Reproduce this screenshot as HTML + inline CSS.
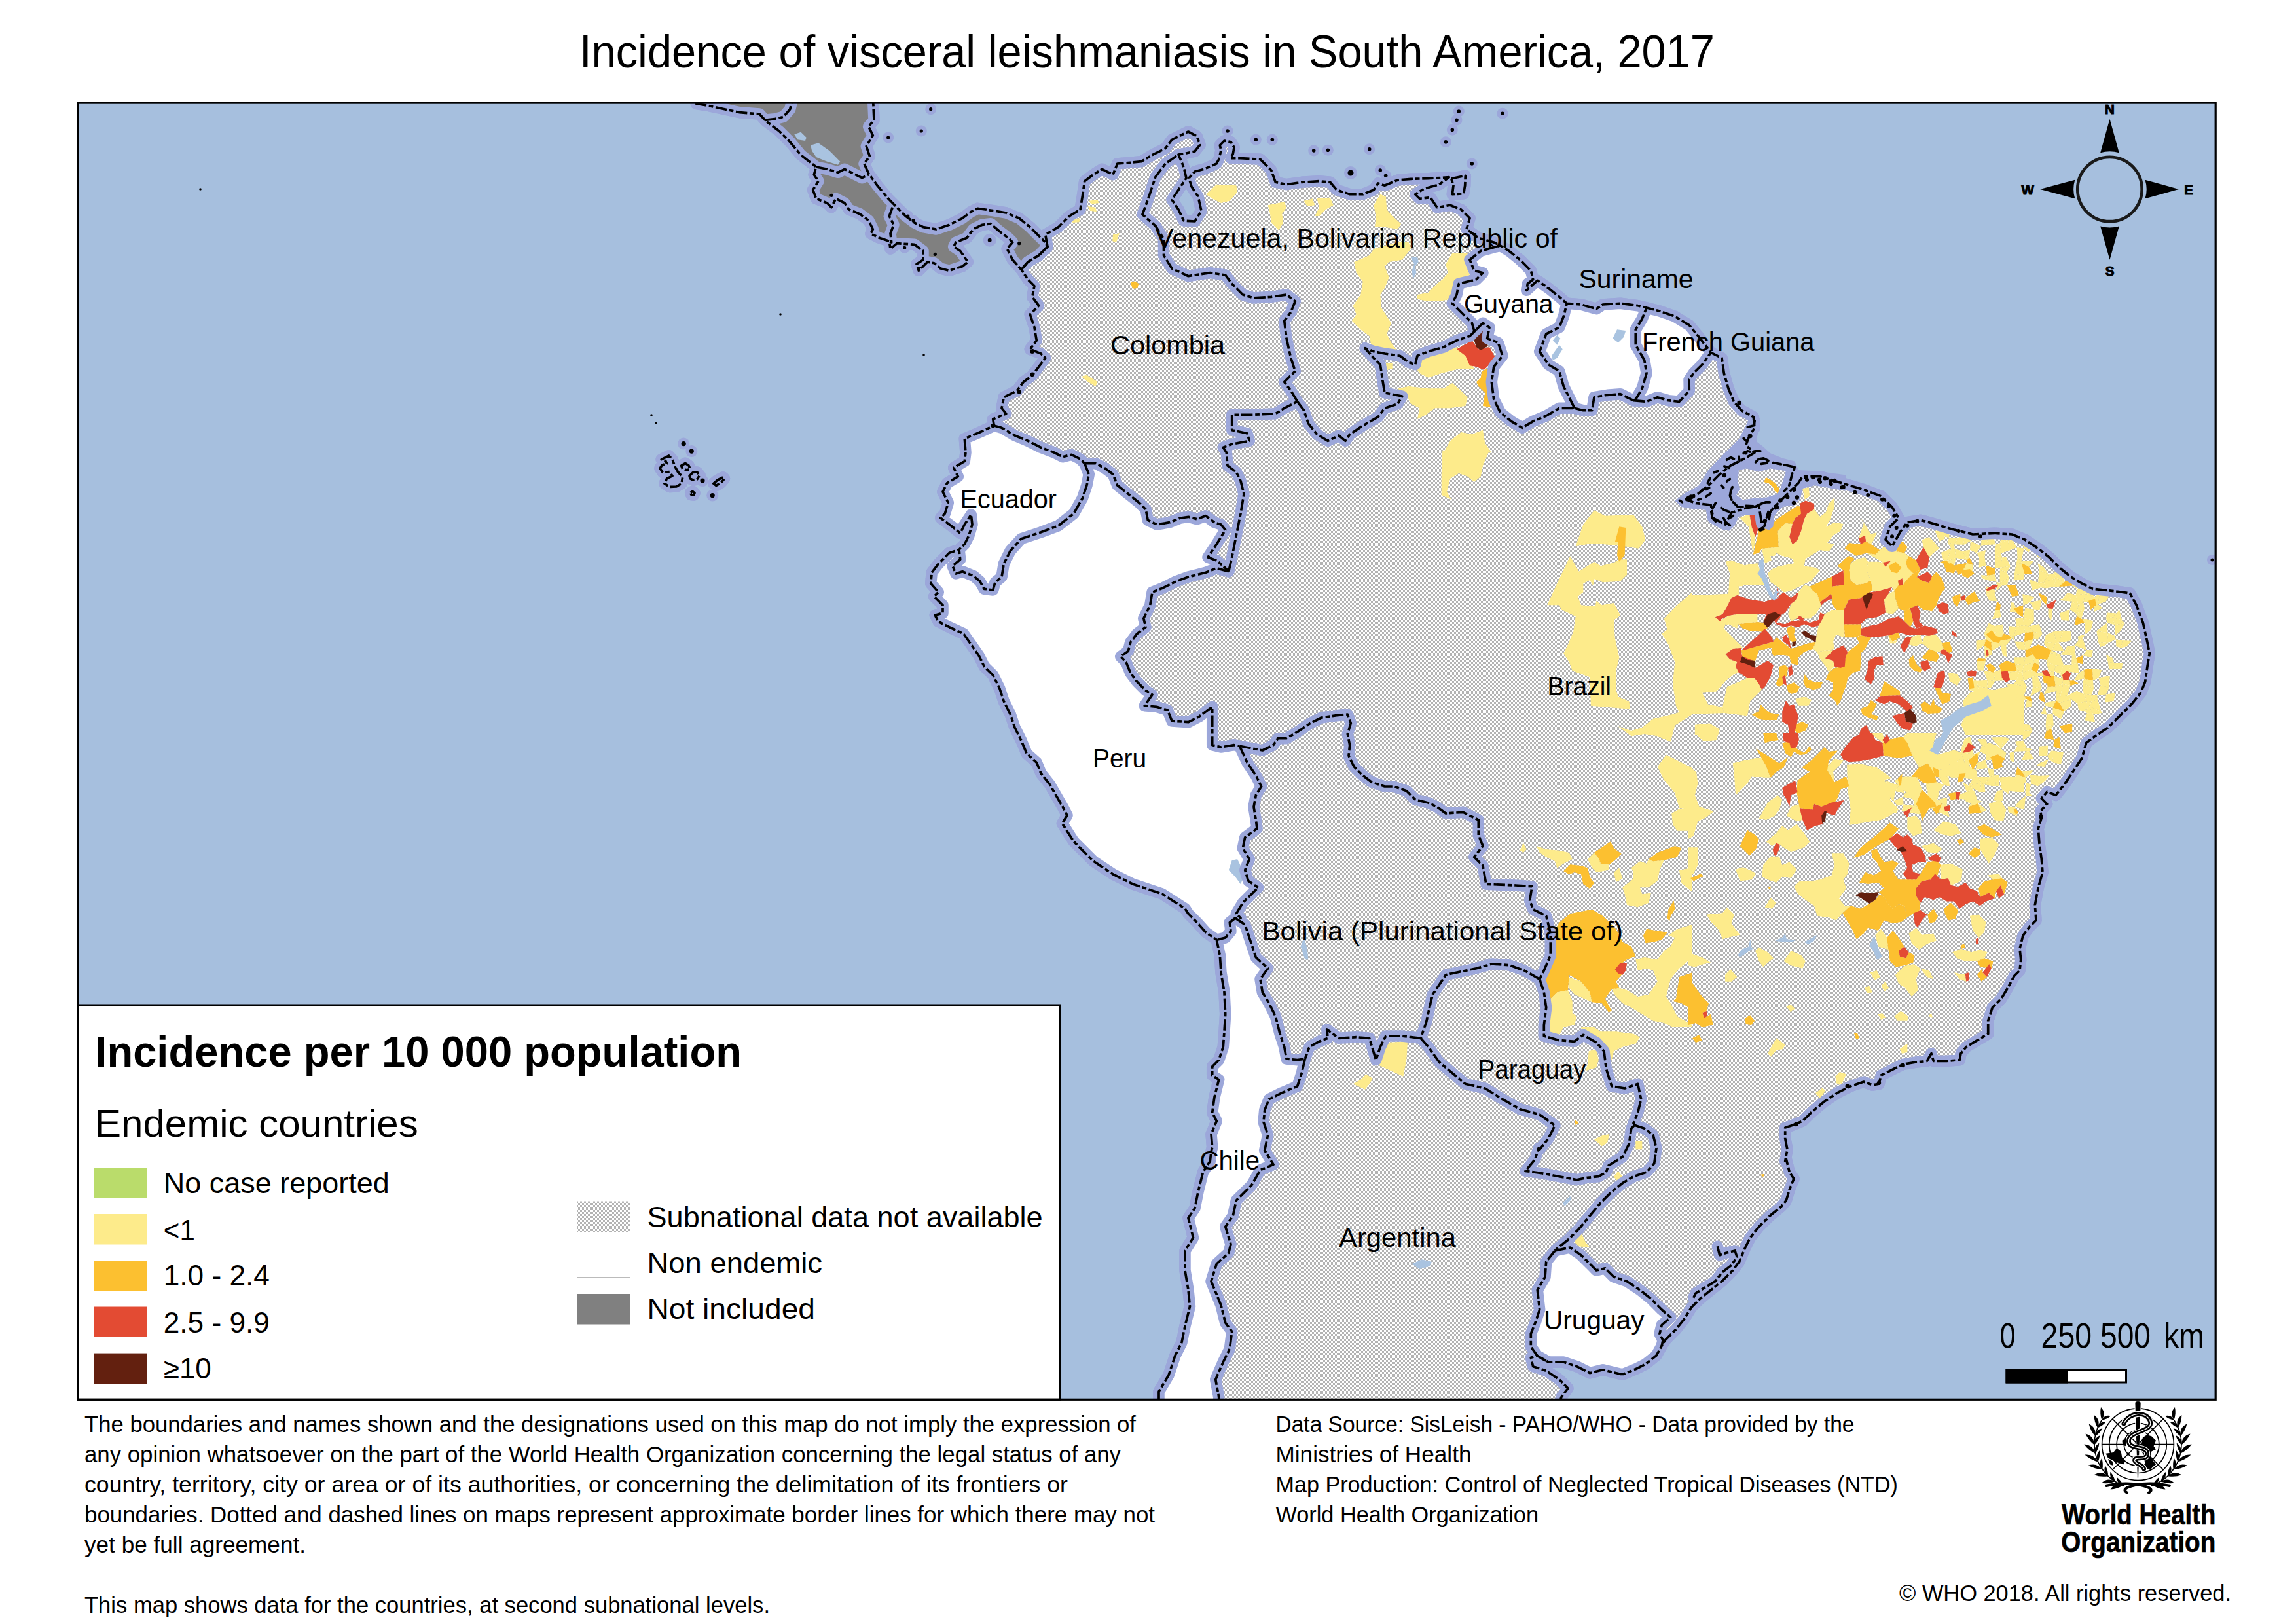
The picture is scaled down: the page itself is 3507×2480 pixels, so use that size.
<!DOCTYPE html>
<html><head><meta charset="utf-8"><title>Incidence of visceral leishmaniasis in South America, 2017</title>
<style>
html,body{margin:0;padding:0;background:#fff;}
body{width:3507px;height:2480px;overflow:hidden;}
svg{display:block;}
text{font-family:"Liberation Sans",sans-serif;fill:#000;}
</style></head><body>
<svg width="3507" height="2480" viewBox="0 0 3507 2480">
<defs>
<pattern id="hatch" width="2" height="2" patternUnits="userSpaceOnUse">
<rect width="2" height="2" fill="#fff"/>
<rect x="0" y="0" width="1" height="1" fill="#b3b3b3"/>
<rect x="1" y="1" width="1" height="1" fill="#b3b3b3"/>
</pattern>
<clipPath id="mapclip"><rect x="119.4" y="157.1" width="3264.8" height="1980.2"/></clipPath>
</defs>
<rect width="3507" height="2480" fill="#fff"/>

<text x="885.0" y="103.0" font-size="71" font-weight="normal" textLength="1734.0" lengthAdjust="spacingAndGlyphs">Incidence of visceral leishmaniasis in South America, 2017</text>
<rect x="119.4" y="157.1" width="3264.8" height="1980.2" fill="#A6BFDE"/>
<g clip-path="url(#mapclip)">
<polygon points="1600.0,376.7 1596.7,358.3 1616.7,346.7 1633.3,330.0 1650.0,320.0 1653.3,300.0 1656.7,276.7 1670.0,266.7 1683.3,258.3 1700.0,266.7 1706.7,250.0 1726.7,248.3 1743.3,246.7 1760.0,236.7 1780.0,226.7 1790.0,213.3 1806.7,205.0 1815.0,201.0 1828.0,208.0 1833.0,221.0 1825.0,231.0 1812.0,234.0 1800.0,236.0 1800.0,236.0 1808.0,255.0 1812.0,272.0 1800.0,290.0 1790.0,305.0 1800.0,320.0 1808.0,337.0 1825.0,338.0 1835.0,322.0 1830.0,300.0 1820.0,285.0 1816.0,272.0 1825.0,262.0 1840.0,258.0 1858.0,250.0 1861.7,243.3 1865.0,230.0 1863.3,221.7 1870.0,215.0 1880.0,216.7 1885.0,225.0 1883.3,235.0 1880.0,241.7 1895.0,241.7 1925.0,243.3 1941.7,260.0 1948.3,278.3 1965.0,281.7 1988.3,278.3 2015.0,276.7 2031.7,278.3 2041.7,290.0 2061.7,296.7 2081.7,296.7 2098.3,290.0 2105.0,280.0 2115.0,283.3 2135.0,275.0 2155.0,273.3 2181.7,272.7 2213.3,270.7 2198.3,281.7 2175.0,288.3 2161.7,296.7 2168.3,303.3 2185.0,301.7 2188.3,306.7 2195.0,316.7 2215.0,313.3 2231.7,320.0 2245.0,333.3 2240.0,350.0 2258.3,363.3 2281.7,370.0 2291.7,375.0 2291.7,375.0 2305.0,383.3 2321.7,396.7 2338.3,413.3 2341.7,426.7 2333.3,433.3 2331.7,443.3 2348.3,428.3 2365.0,440.0 2381.7,453.3 2393.3,463.3 2393.3,463.3 2415.0,465.0 2438.3,471.7 2448.3,465.0 2475.0,463.3 2501.7,466.7 2515.0,470.0 2515.0,470.0 2535.0,475.0 2558.3,483.3 2580.3,496.7 2596.7,516.7 2613.3,538.3 2613.3,538.3 2630.0,546.7 2633.3,570.0 2640.0,593.3 2648.3,613.3 2660.0,626.7 2678.3,636.7 2680.0,653.3 2671.7,666.7 2666.7,680.0 2680.0,691.3 2663.3,701.0 2643.3,711.0 2626.7,724.3 2610.0,741.0 2593.3,754.3 2580.0,759.3 2575.0,762.7 2590.0,768.3 2613.3,771.0 2616.7,791.0 2635.0,801.0 2645.0,782.7 2666.7,776.0 2686.7,772.7 2691.0,800.0 2708.3,776.0 2728.3,756.0 2746.7,737.7 2753.3,727.7 2780.0,727.7 2813.3,737.7 2846.7,747.7 2873.3,757.7 2890.0,774.3 2900.0,791.0 2886.7,804.3 2880.0,824.3 2890.0,834.3 2903.3,811.0 2913.3,797.7 2933.3,794.3 2946.7,797.7 2980.0,807.7 3013.3,816.0 3046.7,814.3 3073.3,816.0 3093.3,824.3 3113.3,837.7 3130.0,851.0 3146.7,867.7 3163.3,881.0 3180.0,891.0 3196.7,899.3 3230.0,902.7 3253.3,906.0 3263.3,924.3 3273.3,951.0 3280.0,981.0 3283.3,997.7 3280.0,1017.7 3276.7,1041.0 3270.0,1057.7 3256.7,1074.3 3240.0,1091.0 3220.0,1111.0 3200.0,1124.3 3186.7,1134.3 3180.0,1157.7 3166.7,1177.7 3153.3,1197.7 3140.0,1214.3 3126.7,1209.3 3118.3,1219.3 3126.7,1227.7 3116.7,1238.7 3118.3,1248.7 3113.3,1265.3 3115.0,1288.7 3118.3,1312.0 3120.0,1332.0 3113.3,1355.3 3108.3,1382.0 3110.0,1405.3 3100.0,1415.3 3090.0,1428.7 3085.0,1448.7 3086.7,1465.3 3085.0,1482.0 3076.7,1490.3 3066.7,1508.7 3056.7,1525.3 3043.3,1538.7 3036.7,1558.7 3036.7,1578.7 3020.0,1588.7 3003.3,1598.7 2995.0,1608.7 2993.3,1618.7 2973.3,1620.3 2953.3,1620.3 2950.0,1608.7 2943.3,1620.3 2926.7,1622.0 2906.7,1625.3 2893.3,1632.0 2873.3,1642.0 2870.0,1655.3 2860.0,1657.0 2846.7,1652.0 2826.7,1658.7 2806.7,1668.7 2786.7,1682.0 2766.7,1698.7 2753.3,1712.0 2736.7,1718.7 2726.7,1722.0 2726.7,1738.7 2730.0,1755.3 2726.7,1773.3 2728.3,1770.0 2733.3,1790.0 2740.0,1800.0 2733.3,1816.7 2728.3,1833.3 2720.0,1843.3 2703.3,1856.7 2686.7,1873.3 2673.3,1890.0 2665.0,1906.7 2656.7,1926.7 2646.7,1940.0 2630.0,1956.7 2613.3,1970.0 2596.7,1983.3 2583.3,1996.7 2573.3,2013.3 2560.0,2030.0 2543.3,2046.7 2538.3,2055.0 2538.3,2055.0 2530.0,2070.0 2513.3,2083.3 2500.0,2090.0 2480.0,2098.3 2475.0,2098.3 2448.3,2091.7 2428.3,2096.7 2408.3,2086.7 2388.3,2080.0 2365.0,2080.0 2365.0,2080.0 2348.3,2070.7 2338.3,2073.3 2341.7,2086.7 2361.7,2093.3 2381.7,2106.7 2395.0,2120.0 2385.0,2133.3 2378.3,2153.3 1770.0,2150.0 1770.0,2125.0 1785.0,2100.0 1795.0,2070.0 1805.0,2050.0 1810.0,2025.0 1817.5,1995.0 1815.0,1970.0 1810.0,1940.0 1810.0,1910.0 1822.5,1890.0 1815.0,1860.0 1825.0,1845.0 1830.0,1820.0 1837.5,1790.0 1848.3,1773.3 1850.0,1758.7 1851.7,1752.0 1850.0,1732.0 1858.3,1712.0 1851.7,1698.7 1855.0,1675.3 1861.7,1648.7 1851.7,1642.0 1851.7,1628.7 1861.7,1618.7 1868.3,1598.7 1870.0,1575.3 1871.7,1548.7 1870.0,1515.3 1865.0,1485.3 1863.3,1458.7 1858.3,1435.3 1858.3,1435.3 1841.7,1423.7 1828.3,1408.7 1815.0,1395.3 1810.0,1387.5 1775.0,1365.0 1730.0,1350.0 1700.0,1335.0 1670.0,1315.0 1640.0,1285.0 1622.5,1257.5 1630.0,1245.0 1623.3,1232.3 1616.7,1221.0 1603.3,1197.7 1590.0,1181.0 1583.3,1164.3 1568.3,1151.0 1560.0,1131.0 1550.0,1111.0 1543.3,1091.0 1533.3,1071.0 1526.7,1051.0 1516.7,1031.0 1503.3,1017.7 1495.0,1001.0 1483.3,984.3 1471.7,967.7 1450.0,957.7 1433.3,949.3 1428.3,939.3 1440.0,936.0 1440.0,924.3 1426.7,911.0 1433.3,904.3 1421.7,891.0 1423.3,874.3 1433.3,861.0 1450.0,844.3 1465.0,839.3 1465.0,839.3 1473.3,831.0 1480.0,817.7 1485.0,801.0 1483.3,786.0 1473.3,801.0 1466.7,814.3 1456.7,806.0 1436.7,791.0 1443.3,784.3 1448.3,767.7 1440.0,751.0 1446.7,737.7 1463.3,727.7 1456.7,714.3 1473.3,704.3 1475.0,691.0 1473.3,670.0 1496.7,660.0 1518.3,650.0 1518.3,650.0 1516.7,640.0 1536.7,631.7 1530.0,623.3 1533.3,606.7 1553.3,596.7 1563.3,583.3 1576.7,573.3 1586.7,560.0 1596.7,546.7 1590.0,540.0 1573.3,533.3 1583.3,520.0 1580.0,500.0 1573.3,480.0 1586.7,466.7 1576.7,453.3 1580.0,436.7 1570.0,426.7 1560.0,411.7 1560.0,411.7 1570.0,400.0 1586.7,390.0 1600.0,376.7" fill="none" stroke="#9CA7DA" stroke-width="17.5" stroke-linejoin="round"/>
<polygon points="1600.0,376.7 1586.7,390.0 1570.0,400.0 1560.0,411.7 1546.7,396.7 1538.3,380.0 1546.7,370.0 1540.0,363.3 1526.7,353.3 1513.3,341.7 1500.0,343.3 1486.7,350.0 1476.7,363.3 1460.0,370.0 1456.7,376.7 1466.7,383.3 1478.3,400.0 1470.0,406.7 1450.0,413.3 1436.7,410.0 1426.7,401.7 1416.7,400.0 1403.3,413.3 1400.0,403.3 1410.0,396.7 1410.0,383.3 1396.7,373.3 1370.0,371.7 1360.0,380.0 1358.3,368.3 1343.3,363.3 1330.0,356.7 1333.3,350.0 1326.7,336.7 1313.3,326.7 1296.7,320.0 1290.0,310.0 1276.7,303.3 1270.0,316.7 1263.3,310.0 1246.7,303.3 1241.7,290.0 1250.0,276.7 1243.3,266.7 1246.7,255.0 1223.3,236.7 1206.7,216.7 1190.0,200.0 1170.0,185.0 1160.0,174.0 1130.0,171.7 1083.3,161.7 1063.3,158.3 1063.3,146.7 1333.3,146.7 1335.0,183.3 1326.7,193.3 1333.3,206.7 1323.3,223.3 1328.3,238.3 1320.0,250.0 1326.7,265.0 1340.0,283.3 1356.7,303.3 1370.0,316.7 1383.3,330.0 1396.7,340.0 1410.0,346.7 1430.0,350.0 1450.0,343.3 1470.0,333.3 1483.3,323.3 1493.3,318.3 1516.7,321.7 1536.7,325.0 1556.7,333.3 1573.3,346.7 1583.3,356.7 1596.7,370.0" fill="none" stroke="#9CA7DA" stroke-width="17.5" stroke-linejoin="round"/>
<polygon points="2216.7,272.7 2238.3,268.3 2237.7,283.3 2235.7,295.7 2218.3,296.7 2220.0,283.3" fill="none" stroke="#9CA7DA" stroke-width="17.5" stroke-linejoin="round"/>
<polygon points="1010.2,701.6 1021.7,695.9 1027.0,701.6 1031.2,713.1 1035.4,720.5 1042.7,728.8 1041.1,738.3 1033.3,743.0 1022.8,743.5 1014.9,738.3 1018.6,730.9 1027.0,726.8 1022.8,720.5 1012.3,721.5 1008.1,715.2 1011.3,710.0 1018.6,707.9 1016.5,703.7" fill="none" stroke="#9CA7DA" stroke-width="17.5" stroke-linejoin="round"/>
<polygon points="1040.6,711.1 1046.9,707.4 1052.1,711.1 1054.2,716.3 1049.0,717.9 1042.7,716.3" fill="none" stroke="#9CA7DA" stroke-width="17.5" stroke-linejoin="round"/>
<polygon points="1053.1,726.8 1058.4,721.5 1064.7,721.0 1068.8,725.7 1064.7,732.0 1058.4,733.0 1054.2,730.9" fill="none" stroke="#9CA7DA" stroke-width="17.5" stroke-linejoin="round"/>
<polygon points="1089.8,738.3 1096.1,733.0 1104.4,728.8 1106.5,730.9 1101.3,737.2 1094.0,741.4" fill="none" stroke="#9CA7DA" stroke-width="17.5" stroke-linejoin="round"/>
<polygon points="1054.7,752.4 1057.9,750.3 1061.0,752.9 1059.4,756.1 1055.8,755.5" fill="none" stroke="#9CA7DA" stroke-width="17.5" stroke-linejoin="round"/>
<circle cx="1421.7" cy="166.7" r="8.5" fill="#9CA7DA"/>
<circle cx="1407.3" cy="200.0" r="8.5" fill="#9CA7DA"/>
<circle cx="1356.7" cy="210.0" r="8.5" fill="#9CA7DA"/>
<circle cx="1395.0" cy="336.7" r="8.5" fill="#9CA7DA"/>
<circle cx="1386.7" cy="330.0" r="8.5" fill="#9CA7DA"/>
<circle cx="1270.0" cy="298.3" r="8.5" fill="#9CA7DA"/>
<circle cx="1381.7" cy="378.3" r="8.5" fill="#9CA7DA"/>
<circle cx="1428.3" cy="388.3" r="8.5" fill="#9CA7DA"/>
<circle cx="1403.3" cy="410.0" r="8.5" fill="#9CA7DA"/>
<circle cx="1556.7" cy="371.7" r="8.5" fill="#9CA7DA"/>
<circle cx="1511.7" cy="366.7" r="10" fill="#9CA7DA"/>
<circle cx="1875.0" cy="200.0" r="8.5" fill="#9CA7DA"/>
<circle cx="1918.3" cy="213.3" r="8.5" fill="#9CA7DA"/>
<circle cx="1943.3" cy="213.3" r="8.5" fill="#9CA7DA"/>
<circle cx="2006.7" cy="230.0" r="8.5" fill="#9CA7DA"/>
<circle cx="2028.3" cy="229.3" r="8.5" fill="#9CA7DA"/>
<circle cx="2091.7" cy="227.7" r="8.5" fill="#9CA7DA"/>
<circle cx="2108.3" cy="260.0" r="8.5" fill="#9CA7DA"/>
<circle cx="2116.7" cy="268.3" r="8.5" fill="#9CA7DA"/>
<circle cx="2248.3" cy="250.0" r="8.5" fill="#9CA7DA"/>
<circle cx="2228.3" cy="170.0" r="8.5" fill="#9CA7DA"/>
<circle cx="2225.0" cy="183.3" r="8.5" fill="#9CA7DA"/>
<circle cx="2218.3" cy="198.3" r="8.5" fill="#9CA7DA"/>
<circle cx="2208.3" cy="216.7" r="8.5" fill="#9CA7DA"/>
<circle cx="2295.0" cy="173.3" r="8.5" fill="#9CA7DA"/>
<circle cx="2063.0" cy="264.0" r="10" fill="#9CA7DA"/>
<circle cx="3379.0" cy="855.0" r="8" fill="#9CA7DA"/>
<circle cx="2760.0" cy="732.7" r="9" fill="#9CA7DA"/>
<circle cx="2780.0" cy="736.0" r="9" fill="#9CA7DA"/>
<circle cx="2796.7" cy="739.3" r="9" fill="#9CA7DA"/>
<circle cx="2813.3" cy="744.3" r="9" fill="#9CA7DA"/>
<circle cx="2833.3" cy="751.7" r="9" fill="#9CA7DA"/>
<circle cx="2853.3" cy="756.0" r="9" fill="#9CA7DA"/>
<circle cx="2875.0" cy="762.7" r="9" fill="#9CA7DA"/>
<circle cx="2885.0" cy="772.7" r="9" fill="#9CA7DA"/>
<circle cx="2893.3" cy="787.7" r="9" fill="#9CA7DA"/>
<circle cx="2890.0" cy="819.3" r="9" fill="#9CA7DA"/>
<circle cx="2896.7" cy="806.0" r="9" fill="#9CA7DA"/>
<circle cx="2913.3" cy="802.7" r="9" fill="#9CA7DA"/>
<circle cx="2928.3" cy="796.0" r="9" fill="#9CA7DA"/>
<circle cx="2991.7" cy="811.0" r="9" fill="#9CA7DA"/>
<circle cx="3025.0" cy="819.3" r="9" fill="#9CA7DA"/>
<circle cx="1044.2" cy="677.6" r="9" fill="#9CA7DA"/>
<circle cx="1056.3" cy="689.1" r="9" fill="#9CA7DA"/>
<circle cx="1073.0" cy="734.1" r="9" fill="#9CA7DA"/>
<circle cx="1088.2" cy="756.6" r="9" fill="#9CA7DA"/>
<polygon points="1600.0,376.7 1596.7,358.3 1616.7,346.7 1633.3,330.0 1650.0,320.0 1653.3,300.0 1656.7,276.7 1670.0,266.7 1683.3,258.3 1700.0,266.7 1706.7,250.0 1726.7,248.3 1743.3,246.7 1760.0,236.7 1780.0,226.7 1790.0,213.3 1806.7,205.0 1815.0,201.0 1828.0,208.0 1833.0,221.0 1825.0,231.0 1812.0,234.0 1800.0,236.0 1800.0,236.0 1808.0,255.0 1812.0,272.0 1800.0,290.0 1790.0,305.0 1800.0,320.0 1808.0,337.0 1825.0,338.0 1835.0,322.0 1830.0,300.0 1820.0,285.0 1816.0,272.0 1825.0,262.0 1840.0,258.0 1858.0,250.0 1861.7,243.3 1865.0,230.0 1863.3,221.7 1870.0,215.0 1880.0,216.7 1885.0,225.0 1883.3,235.0 1880.0,241.7 1895.0,241.7 1925.0,243.3 1941.7,260.0 1948.3,278.3 1965.0,281.7 1988.3,278.3 2015.0,276.7 2031.7,278.3 2041.7,290.0 2061.7,296.7 2081.7,296.7 2098.3,290.0 2105.0,280.0 2115.0,283.3 2135.0,275.0 2155.0,273.3 2181.7,272.7 2213.3,270.7 2198.3,281.7 2175.0,288.3 2161.7,296.7 2168.3,303.3 2185.0,301.7 2188.3,306.7 2195.0,316.7 2215.0,313.3 2231.7,320.0 2245.0,333.3 2240.0,350.0 2258.3,363.3 2281.7,370.0 2291.7,375.0 2291.7,375.0 2305.0,383.3 2321.7,396.7 2338.3,413.3 2341.7,426.7 2333.3,433.3 2331.7,443.3 2348.3,428.3 2365.0,440.0 2381.7,453.3 2393.3,463.3 2393.3,463.3 2415.0,465.0 2438.3,471.7 2448.3,465.0 2475.0,463.3 2501.7,466.7 2515.0,470.0 2515.0,470.0 2535.0,475.0 2558.3,483.3 2580.3,496.7 2596.7,516.7 2613.3,538.3 2613.3,538.3 2630.0,546.7 2633.3,570.0 2640.0,593.3 2648.3,613.3 2660.0,626.7 2678.3,636.7 2680.0,653.3 2671.7,666.7 2666.7,680.0 2680.0,691.3 2663.3,701.0 2643.3,711.0 2626.7,724.3 2610.0,741.0 2593.3,754.3 2580.0,759.3 2575.0,762.7 2590.0,768.3 2613.3,771.0 2616.7,791.0 2635.0,801.0 2645.0,782.7 2666.7,776.0 2686.7,772.7 2691.0,800.0 2708.3,776.0 2728.3,756.0 2746.7,737.7 2753.3,727.7 2780.0,727.7 2813.3,737.7 2846.7,747.7 2873.3,757.7 2890.0,774.3 2900.0,791.0 2886.7,804.3 2880.0,824.3 2890.0,834.3 2903.3,811.0 2913.3,797.7 2933.3,794.3 2946.7,797.7 2980.0,807.7 3013.3,816.0 3046.7,814.3 3073.3,816.0 3093.3,824.3 3113.3,837.7 3130.0,851.0 3146.7,867.7 3163.3,881.0 3180.0,891.0 3196.7,899.3 3230.0,902.7 3253.3,906.0 3263.3,924.3 3273.3,951.0 3280.0,981.0 3283.3,997.7 3280.0,1017.7 3276.7,1041.0 3270.0,1057.7 3256.7,1074.3 3240.0,1091.0 3220.0,1111.0 3200.0,1124.3 3186.7,1134.3 3180.0,1157.7 3166.7,1177.7 3153.3,1197.7 3140.0,1214.3 3126.7,1209.3 3118.3,1219.3 3126.7,1227.7 3116.7,1238.7 3118.3,1248.7 3113.3,1265.3 3115.0,1288.7 3118.3,1312.0 3120.0,1332.0 3113.3,1355.3 3108.3,1382.0 3110.0,1405.3 3100.0,1415.3 3090.0,1428.7 3085.0,1448.7 3086.7,1465.3 3085.0,1482.0 3076.7,1490.3 3066.7,1508.7 3056.7,1525.3 3043.3,1538.7 3036.7,1558.7 3036.7,1578.7 3020.0,1588.7 3003.3,1598.7 2995.0,1608.7 2993.3,1618.7 2973.3,1620.3 2953.3,1620.3 2950.0,1608.7 2943.3,1620.3 2926.7,1622.0 2906.7,1625.3 2893.3,1632.0 2873.3,1642.0 2870.0,1655.3 2860.0,1657.0 2846.7,1652.0 2826.7,1658.7 2806.7,1668.7 2786.7,1682.0 2766.7,1698.7 2753.3,1712.0 2736.7,1718.7 2726.7,1722.0 2726.7,1738.7 2730.0,1755.3 2726.7,1773.3 2728.3,1770.0 2733.3,1790.0 2740.0,1800.0 2733.3,1816.7 2728.3,1833.3 2720.0,1843.3 2703.3,1856.7 2686.7,1873.3 2673.3,1890.0 2665.0,1906.7 2656.7,1926.7 2646.7,1940.0 2630.0,1956.7 2613.3,1970.0 2596.7,1983.3 2583.3,1996.7 2573.3,2013.3 2560.0,2030.0 2543.3,2046.7 2538.3,2055.0 2538.3,2055.0 2530.0,2070.0 2513.3,2083.3 2500.0,2090.0 2480.0,2098.3 2475.0,2098.3 2448.3,2091.7 2428.3,2096.7 2408.3,2086.7 2388.3,2080.0 2365.0,2080.0 2365.0,2080.0 2348.3,2070.7 2338.3,2073.3 2341.7,2086.7 2361.7,2093.3 2381.7,2106.7 2395.0,2120.0 2385.0,2133.3 2378.3,2153.3 1770.0,2150.0 1770.0,2125.0 1785.0,2100.0 1795.0,2070.0 1805.0,2050.0 1810.0,2025.0 1817.5,1995.0 1815.0,1970.0 1810.0,1940.0 1810.0,1910.0 1822.5,1890.0 1815.0,1860.0 1825.0,1845.0 1830.0,1820.0 1837.5,1790.0 1848.3,1773.3 1850.0,1758.7 1851.7,1752.0 1850.0,1732.0 1858.3,1712.0 1851.7,1698.7 1855.0,1675.3 1861.7,1648.7 1851.7,1642.0 1851.7,1628.7 1861.7,1618.7 1868.3,1598.7 1870.0,1575.3 1871.7,1548.7 1870.0,1515.3 1865.0,1485.3 1863.3,1458.7 1858.3,1435.3 1858.3,1435.3 1841.7,1423.7 1828.3,1408.7 1815.0,1395.3 1810.0,1387.5 1775.0,1365.0 1730.0,1350.0 1700.0,1335.0 1670.0,1315.0 1640.0,1285.0 1622.5,1257.5 1630.0,1245.0 1623.3,1232.3 1616.7,1221.0 1603.3,1197.7 1590.0,1181.0 1583.3,1164.3 1568.3,1151.0 1560.0,1131.0 1550.0,1111.0 1543.3,1091.0 1533.3,1071.0 1526.7,1051.0 1516.7,1031.0 1503.3,1017.7 1495.0,1001.0 1483.3,984.3 1471.7,967.7 1450.0,957.7 1433.3,949.3 1428.3,939.3 1440.0,936.0 1440.0,924.3 1426.7,911.0 1433.3,904.3 1421.7,891.0 1423.3,874.3 1433.3,861.0 1450.0,844.3 1465.0,839.3 1465.0,839.3 1473.3,831.0 1480.0,817.7 1485.0,801.0 1483.3,786.0 1473.3,801.0 1466.7,814.3 1456.7,806.0 1436.7,791.0 1443.3,784.3 1448.3,767.7 1440.0,751.0 1446.7,737.7 1463.3,727.7 1456.7,714.3 1473.3,704.3 1475.0,691.0 1473.3,670.0 1496.7,660.0 1518.3,650.0 1518.3,650.0 1516.7,640.0 1536.7,631.7 1530.0,623.3 1533.3,606.7 1553.3,596.7 1563.3,583.3 1576.7,573.3 1586.7,560.0 1596.7,546.7 1590.0,540.0 1573.3,533.3 1583.3,520.0 1580.0,500.0 1573.3,480.0 1586.7,466.7 1576.7,453.3 1580.0,436.7 1570.0,426.7 1560.0,411.7 1560.0,411.7 1570.0,400.0 1586.7,390.0 1600.0,376.7" fill="url(#hatch)"/>
<polygon points="1600.0,376.7 1586.7,390.0 1570.0,400.0 1560.0,411.7 1546.7,396.7 1538.3,380.0 1546.7,370.0 1540.0,363.3 1526.7,353.3 1513.3,341.7 1500.0,343.3 1486.7,350.0 1476.7,363.3 1460.0,370.0 1456.7,376.7 1466.7,383.3 1478.3,400.0 1470.0,406.7 1450.0,413.3 1436.7,410.0 1426.7,401.7 1416.7,400.0 1403.3,413.3 1400.0,403.3 1410.0,396.7 1410.0,383.3 1396.7,373.3 1370.0,371.7 1360.0,380.0 1358.3,368.3 1343.3,363.3 1330.0,356.7 1333.3,350.0 1326.7,336.7 1313.3,326.7 1296.7,320.0 1290.0,310.0 1276.7,303.3 1270.0,316.7 1263.3,310.0 1246.7,303.3 1241.7,290.0 1250.0,276.7 1243.3,266.7 1246.7,255.0 1223.3,236.7 1206.7,216.7 1190.0,200.0 1170.0,185.0 1160.0,174.0 1130.0,171.7 1083.3,161.7 1063.3,158.3 1063.3,146.7 1333.3,146.7 1335.0,183.3 1326.7,193.3 1333.3,206.7 1323.3,223.3 1328.3,238.3 1320.0,250.0 1326.7,265.0 1340.0,283.3 1356.7,303.3 1370.0,316.7 1383.3,330.0 1396.7,340.0 1410.0,346.7 1430.0,350.0 1450.0,343.3 1470.0,333.3 1483.3,323.3 1493.3,318.3 1516.7,321.7 1536.7,325.0 1556.7,333.3 1573.3,346.7 1583.3,356.7 1596.7,370.0" fill="#808080"/>
<polygon points="2216.7,272.7 2238.3,268.3 2237.7,283.3 2235.7,295.7 2218.3,296.7 2220.0,283.3" fill="#808080"/>
<polygon points="1010.2,701.6 1021.7,695.9 1027.0,701.6 1031.2,713.1 1035.4,720.5 1042.7,728.8 1041.1,738.3 1033.3,743.0 1022.8,743.5 1014.9,738.3 1018.6,730.9 1027.0,726.8 1022.8,720.5 1012.3,721.5 1008.1,715.2 1011.3,710.0 1018.6,707.9 1016.5,703.7" fill="#9CA7DA"/>
<polygon points="1040.6,711.1 1046.9,707.4 1052.1,711.1 1054.2,716.3 1049.0,717.9 1042.7,716.3" fill="#9CA7DA"/>
<polygon points="1053.1,726.8 1058.4,721.5 1064.7,721.0 1068.8,725.7 1064.7,732.0 1058.4,733.0 1054.2,730.9" fill="#9CA7DA"/>
<polygon points="1089.8,738.3 1096.1,733.0 1104.4,728.8 1106.5,730.9 1101.3,737.2 1094.0,741.4" fill="#9CA7DA"/>
<polygon points="1054.7,752.4 1057.9,750.3 1061.0,752.9 1059.4,756.1 1055.8,755.5" fill="#9CA7DA"/>
<polygon points="1465.0,839.3 1473.3,831.0 1480.0,817.7 1485.0,801.0 1483.3,786.0 1473.3,801.0 1466.7,814.3 1456.7,806.0 1436.7,791.0 1443.3,784.3 1448.3,767.7 1440.0,751.0 1446.7,737.7 1463.3,727.7 1456.7,714.3 1473.3,704.3 1475.0,691.0 1473.3,670.0 1496.7,660.0 1518.3,650.0 1518.3,650.0 1530.0,653.3 1550.0,665.0 1570.0,673.3 1590.0,683.3 1610.0,691.0 1623.3,697.7 1636.7,694.3 1650.0,701.0 1656.7,707.7 1656.7,707.7 1663.3,724.3 1660.0,741.0 1653.3,761.0 1640.0,784.3 1616.7,802.7 1590.0,812.7 1560.0,822.7 1543.3,841.0 1533.3,861.0 1530.0,881.0 1520.0,889.3 1516.7,901.0 1503.3,899.3 1496.7,887.7 1486.7,879.3 1470.0,872.7 1460.0,876.0 1455.0,864.3 1466.7,854.3 1465.0,839.3" fill="#fff"/>
<polygon points="1858.3,1435.3 1841.7,1423.7 1828.3,1408.7 1815.0,1395.3 1810.0,1387.5 1775.0,1365.0 1730.0,1350.0 1700.0,1335.0 1670.0,1315.0 1640.0,1285.0 1622.5,1257.5 1630.0,1245.0 1623.3,1232.3 1616.7,1221.0 1603.3,1197.7 1590.0,1181.0 1583.3,1164.3 1568.3,1151.0 1560.0,1131.0 1550.0,1111.0 1543.3,1091.0 1533.3,1071.0 1526.7,1051.0 1516.7,1031.0 1503.3,1017.7 1495.0,1001.0 1483.3,984.3 1471.7,967.7 1450.0,957.7 1433.3,949.3 1428.3,939.3 1440.0,936.0 1440.0,924.3 1426.7,911.0 1433.3,904.3 1421.7,891.0 1423.3,874.3 1433.3,861.0 1450.0,844.3 1465.0,839.3 1465.0,839.3 1466.7,854.3 1455.0,864.3 1460.0,876.0 1470.0,872.7 1486.7,879.3 1496.7,887.7 1503.3,899.3 1516.7,901.0 1520.0,889.3 1530.0,881.0 1533.3,861.0 1543.3,841.0 1560.0,822.7 1590.0,812.7 1616.7,802.7 1640.0,784.3 1653.3,761.0 1660.0,741.0 1663.3,724.3 1656.7,707.7 1656.7,707.7 1673.3,707.7 1686.7,714.3 1700.0,724.3 1706.7,741.0 1723.3,754.3 1740.0,767.7 1750.0,777.7 1753.3,794.3 1766.7,801.0 1786.7,797.7 1803.3,791.0 1815.3,789.3 1828.3,792.7 1841.7,787.7 1855.0,797.7 1865.0,801.0 1871.7,809.3 1858.3,831.0 1845.0,851.0 1858.3,856.0 1868.3,864.3 1876.7,872.7 1876.7,872.7 1858.3,867.7 1841.7,874.3 1828.3,877.7 1815.0,881.0 1796.7,887.7 1776.7,897.7 1760.0,904.3 1756.7,924.3 1746.7,944.3 1750.0,957.7 1736.7,967.7 1726.7,981.0 1723.3,994.3 1711.7,1002.7 1720.0,1011.0 1726.7,1027.7 1736.7,1041.0 1750.0,1054.3 1760.0,1061.0 1748.3,1077.7 1766.7,1079.3 1783.3,1084.3 1790.0,1101.0 1815.3,1102.7 1831.7,1094.3 1851.7,1079.3 1851.7,1111.0 1851.7,1137.7 1865.0,1141.0 1885.0,1137.7 1893.3,1139.3 1893.3,1139.3 1905.0,1164.3 1918.3,1184.3 1926.7,1201.0 1918.3,1214.3 1915.0,1232.3 1918.3,1252.0 1920.0,1265.3 1901.7,1278.7 1898.3,1295.3 1908.3,1312.0 1901.7,1328.7 1906.7,1345.3 1921.7,1355.3 1911.7,1365.3 1898.3,1378.7 1888.3,1395.3 1895.0,1402.0 1886.7,1402.0 1886.7,1402.0 1878.3,1408.7 1880.0,1422.0 1871.7,1432.0 1858.3,1435.3" fill="#fff"/>
<polygon points="1770.0,2150.0 1770.0,2125.0 1785.0,2100.0 1795.0,2070.0 1805.0,2050.0 1810.0,2025.0 1817.5,1995.0 1815.0,1970.0 1810.0,1940.0 1810.0,1910.0 1822.5,1890.0 1815.0,1860.0 1825.0,1845.0 1830.0,1820.0 1837.5,1790.0 1848.3,1773.3 1850.0,1758.7 1851.7,1752.0 1850.0,1732.0 1858.3,1712.0 1851.7,1698.7 1855.0,1675.3 1861.7,1648.7 1851.7,1642.0 1851.7,1628.7 1861.7,1618.7 1868.3,1598.7 1870.0,1575.3 1871.7,1548.7 1870.0,1515.3 1865.0,1485.3 1863.3,1458.7 1858.3,1435.3 1858.3,1435.3 1871.7,1432.0 1880.0,1422.0 1878.3,1408.7 1886.7,1402.0 1886.7,1402.0 1901.7,1412.0 1908.3,1432.0 1918.3,1462.0 1936.7,1478.7 1925.0,1495.3 1928.3,1515.3 1938.3,1532.0 1948.3,1552.0 1955.0,1578.7 1961.7,1598.7 1965.0,1617.0 1981.7,1618.7 1993.3,1617.0 1993.3,1617.0 1988.3,1638.7 1981.7,1658.7 1958.3,1668.7 1938.3,1678.7 1931.7,1695.3 1930.0,1713.3 1936.7,1733.3 1931.7,1756.7 1945.0,1778.3 1925.0,1786.7 1911.7,1810.0 1888.3,1833.3 1883.3,1856.7 1871.7,1873.3 1880.0,1900.0 1876.7,1913.3 1858.3,1930.0 1850.0,1956.7 1858.3,1976.7 1865.0,1993.3 1871.7,2020.0 1881.7,2033.3 1878.3,2060.0 1868.3,2080.0 1856.7,2106.7 1861.7,2133.3 1861.7,2153.3" fill="#fff"/>
<polygon points="2291.7,375.0 2305.0,383.3 2321.7,396.7 2338.3,413.3 2341.7,426.7 2333.3,433.3 2331.7,443.3 2348.3,428.3 2365.0,440.0 2381.7,453.3 2393.3,463.3 2393.3,463.3 2388.3,483.3 2381.7,500.0 2361.7,510.0 2351.7,536.7 2365.0,556.7 2381.7,566.7 2388.3,590.0 2401.7,616.7 2405.0,623.3 2405.0,623.3 2381.7,623.3 2361.7,635.0 2341.7,643.3 2325.0,653.3 2308.3,643.3 2291.7,630.0 2281.7,610.0 2278.3,583.3 2281.7,560.0 2295.0,543.3 2288.3,523.3 2271.7,516.7 2275.0,500.0 2265.0,493.3 2255.0,503.3 2255.0,503.3 2251.7,505.0 2248.3,493.3 2235.0,480.0 2218.3,463.3 2225.0,450.0 2228.3,433.3 2255.0,426.7 2265.0,416.7 2251.7,413.3 2245.0,396.7 2261.7,383.3 2291.7,375.0" fill="#fff"/>
<polygon points="2393.3,463.3 2415.0,465.0 2438.3,471.7 2448.3,465.0 2475.0,463.3 2501.7,466.7 2515.0,470.0 2515.0,470.0 2508.3,486.7 2498.3,503.3 2498.3,526.7 2511.7,550.0 2515.0,570.0 2508.3,593.3 2498.3,610.0 2495.0,611.7 2495.0,611.7 2475.0,601.7 2455.0,603.3 2435.0,606.7 2431.7,626.7 2418.3,626.7 2405.0,623.3 2405.0,623.3 2401.7,616.7 2388.3,590.0 2381.7,566.7 2365.0,556.7 2351.7,536.7 2361.7,510.0 2381.7,500.0 2388.3,483.3 2393.3,463.3" fill="#fff"/>
<polygon points="2515.0,470.0 2535.0,475.0 2558.3,483.3 2580.3,496.7 2596.7,516.7 2613.3,538.3 2613.3,538.3 2600.0,556.7 2586.7,570.0 2580.0,580.0 2580.3,596.7 2565.0,613.3 2548.3,611.7 2531.7,606.7 2515.0,613.3 2495.0,611.7 2495.0,611.7 2498.3,610.0 2508.3,593.3 2515.0,570.0 2511.7,550.0 2498.3,526.7 2498.3,503.3 2508.3,486.7 2515.0,470.0" fill="#fff"/>
<polygon points="2538.3,2055.0 2530.0,2070.0 2513.3,2083.3 2500.0,2090.0 2480.0,2098.3 2475.0,2098.3 2448.3,2091.7 2428.3,2096.7 2408.3,2086.7 2388.3,2080.0 2365.0,2080.0 2365.0,2080.0 2348.3,2070.7 2338.3,2056.7 2338.3,2036.7 2345.0,2020.0 2351.7,2000.0 2348.3,1970.0 2360.0,1950.0 2361.7,1926.7 2375.0,1910.0 2375.0,1910.0 2398.3,1905.0 2415.0,1916.7 2431.7,1933.3 2438.3,1940.0 2451.7,1936.7 2465.0,1950.0 2485.0,1956.7 2505.0,1970.0 2521.7,1983.3 2538.3,2000.0 2551.7,2011.7 2538.3,2023.3 2535.0,2036.7 2540.0,2046.7 2538.3,2055.0" fill="#fff"/>
<polygon points="1841.7,296.7 1858.3,281.7 1888.3,283.3 1890.0,293.3 1878.3,306.7 1865.0,310.0 1851.7,303.3" fill="#FDEB8B"/>
<polygon points="1936.7,313.3 1961.7,308.3 1965.0,316.7 1958.3,326.7 1960.0,340.0 1953.3,351.7 1941.7,340.0 1940.0,326.7" fill="#FDEB8B"/>
<polygon points="1991.7,306.7 2005.0,303.3 2008.3,313.3 1996.7,315.0" fill="#FDEB8B"/>
<polygon points="2011.7,303.3 2031.7,301.7 2036.7,313.3 2025.0,320.0 2015.0,330.0 2008.3,330.0 2015.0,316.7" fill="#FDEB8B"/>
<polygon points="2098.3,313.3 2108.3,296.7 2116.7,300.0 2118.3,320.0 2126.7,330.0 2140.0,341.7 2135.0,350.0 2115.0,346.7 2100.0,346.7 2101.7,330.0" fill="#FDEB8B"/>
<polygon points="2068.3,400.0 2091.7,390.0 2098.3,380.0 2135.0,370.0 2151.7,370.0 2155.0,380.0 2141.7,396.7 2121.7,400.0 2115.0,406.7 2121.7,423.3 2115.0,440.0 2108.3,450.0 2110.0,470.0 2118.3,483.3 2125.0,493.3 2118.3,510.0 2125.0,523.3 2135.0,536.7 2115.0,538.3 2095.0,530.0 2091.7,513.3 2078.3,503.3 2065.0,490.0 2071.7,480.0 2066.7,466.7 2078.3,450.0 2081.7,430.0 2071.7,416.7" fill="#FDEB8B"/>
<polygon points="2208.3,403.3 2218.3,386.7 2241.7,386.7 2238.3,403.3 2245.0,420.0 2228.3,426.7 2221.7,440.0 2215.0,456.7 2198.3,460.0 2181.7,460.0 2165.0,456.7 2165.0,450.0 2181.7,446.7 2195.0,433.3 2203.3,426.7 2211.7,416.7" fill="#FDEB8B"/>
<polygon points="2161.7,560.0 2175.0,546.7 2198.3,540.0 2225.0,530.0 2241.7,543.3 2251.7,563.3 2228.3,563.3 2201.7,570.0 2181.7,576.7 2168.3,570.0" fill="#FDEB8B"/>
<polygon points="2116.7,555.0 2126.7,555.0 2126.7,563.3 2118.3,565.0" fill="#FDEB8B"/>
<polygon points="2135.0,593.3 2151.7,590.0 2181.7,593.3 2205.0,593.3 2218.3,585.0 2231.7,596.7 2241.7,606.7 2238.3,620.0 2215.0,623.3 2191.7,623.3 2178.3,633.3 2165.0,640.0 2168.3,623.3 2155.0,616.7 2148.3,603.3" fill="#FDEB8B"/>
<polygon points="2205.0,691.3 2215.0,673.3 2231.7,660.0 2248.3,663.3 2265.0,656.7 2268.3,676.7 2278.3,691.3" fill="#FDEB8B"/>
<polygon points="1663.3,306.7 1676.7,305.0 1678.3,310.0 1666.7,311.7" fill="#FDEB8B"/>
<polygon points="1661.7,315.0 1673.3,316.7 1675.0,323.3 1665.0,321.7" fill="#FDEB8B"/>
<polygon points="1636.7,335.0 1650.0,333.3 1648.3,339.3 1638.3,340.0" fill="#FDEB8B"/>
<polygon points="1700.0,358.3 1710.0,356.0 1705.0,370.0 1699.3,368.3" fill="#FDEB8B"/>
<polygon points="1651.7,575.0 1660.0,572.7 1676.7,583.3 1673.3,590.0 1661.7,583.3" fill="#FDEB8B"/>
<polygon points="2203.3,687.7 2275.0,687.7 2265.0,711.0 2261.7,727.7 2251.7,736.0 2241.7,727.7 2228.3,722.7 2215.0,731.0 2210.0,751.0 2216.7,762.7 2201.7,756.0 2201.7,724.3" fill="#FDEB8B"/>
<polygon points="2406.7,834.3 2418.3,801.0 2435.0,779.3 2451.7,787.7 2495.0,786.0 2508.3,804.3 2513.3,824.3 2503.3,837.7 2481.7,834.3 2448.3,831.0 2425.0,831.0" fill="#FDEB8B"/>
<polygon points="2398.3,849.3 2411.7,872.7 2435.0,857.7 2445.0,864.3 2465.0,859.3 2473.3,854.3 2485.0,854.3 2485.0,877.7 2475.0,887.7 2448.3,889.3 2435.0,884.3 2433.3,894.3 2428.3,886.0 2418.3,891.0 2418.3,904.3 2410.0,911.0 2415.0,924.3 2436.7,926.0 2438.3,917.7 2446.7,924.3 2465.0,921.0 2475.0,939.3 2465.0,947.7 2466.7,974.3 2473.3,1004.3 2468.3,1024.3 2468.3,1052.7 2471.7,1064.3 2488.3,1071.0 2490.0,1082.7 2430.0,1077.7 2428.3,1034.3 2401.7,1024.3 2396.7,1011.0 2388.3,997.7 2395.0,984.3 2403.3,964.3 2406.7,941.0 2385.0,931.0 2381.7,924.3 2363.3,924.3 2378.3,891.0" fill="#FDEB8B"/>
<polygon points="2585.0,904.3 2561.7,924.3 2541.7,944.3 2546.7,961.0 2538.3,967.7 2548.3,984.3 2558.3,1011.0 2555.0,1044.3 2560.0,1077.7 2565.0,1087.7 2555.0,1091.0 2525.0,1097.7 2508.3,1111.0 2491.7,1116.0 2471.7,1109.3 2491.7,1124.3 2511.7,1121.0 2531.7,1124.3 2551.7,1132.7 2558.3,1107.7 2585.0,1091.0" fill="#FDEB8B"/>
<polygon points="2585.0,1172.7 2545.0,1152.7 2531.7,1171.0 2541.7,1191.0 2558.3,1211.0 2565.0,1234.3 2585.0,1234.3" fill="#FDEB8B"/>
<polygon points="2368.3,1525.3 2378.3,1515.3 2395.0,1512.0 2401.7,1528.7 2401.7,1547.0 2408.3,1552.0 2405.0,1565.3 2388.3,1568.7 2381.7,1580.3 2365.0,1578.7 2366.7,1548.7" fill="#FDEB8B"/>
<polygon points="2395.0,1492.0 2415.0,1498.7 2428.3,1515.3 2431.7,1530.3 2405.0,1518.7 2396.7,1508.7" fill="#FDEB8B"/>
<polygon points="2461.7,1510.3 2473.3,1508.7 2485.0,1512.0 2501.7,1522.0 2518.3,1518.7 2531.7,1498.7 2525.0,1482.0 2515.0,1478.7 2501.7,1482.0 2498.3,1465.3 2511.7,1462.0 2531.7,1465.3 2541.7,1452.0 2551.7,1445.3 2558.3,1432.0 2548.3,1428.7 2561.7,1418.7 2585.0,1412.0 2585.0,1462.0 2565.0,1478.7 2551.7,1495.3 2545.0,1522.0 2551.7,1532.0 2561.7,1552.0 2585.0,1565.3 2585.0,1568.7 2555.0,1568.7 2541.7,1562.0 2525.0,1558.7 2508.3,1548.7 2491.7,1538.7 2478.3,1532.0 2468.3,1522.0" fill="#FDEB8B"/>
<polygon points="2346.7,1292.0 2361.7,1297.0 2381.7,1298.7 2396.7,1302.0 2401.7,1312.0 2388.3,1318.7 2378.3,1325.3 2375.0,1315.3 2361.7,1308.7 2351.7,1302.0" fill="#FDEB8B"/>
<polygon points="2321.7,1298.7 2326.7,1287.0 2331.7,1297.0 2326.7,1302.0" fill="#FDEB8B"/>
<polygon points="2425.0,1312.0 2435.0,1302.0 2441.7,1310.3 2445.0,1318.7 2458.3,1320.3 2456.7,1328.7 2438.3,1332.0 2431.7,1325.3" fill="#FDEB8B"/>
<polygon points="2491.7,1325.3 2505.0,1315.3 2515.0,1318.7 2518.3,1312.0 2525.0,1315.3 2541.7,1313.7 2535.0,1328.7 2531.7,1345.3 2518.3,1355.3 2505.0,1355.3 2508.3,1365.3 2521.7,1363.7 2518.3,1378.7 2501.7,1385.3 2485.0,1382.0 2481.7,1365.3 2478.3,1355.3 2495.0,1342.0 2495.0,1332.0" fill="#FDEB8B"/>
<polygon points="2465.0,1332.0 2473.3,1325.3 2478.3,1342.0 2468.3,1347.0" fill="#FDEB8B"/>
<polygon points="2553.3,1242.0 2565.0,1235.3 2585.0,1232.0 2585.0,1268.7 2561.7,1268.7 2555.0,1258.7" fill="#FDEB8B"/>
<polygon points="2565.0,1328.7 2585.0,1325.3 2585.0,1362.0 2568.3,1348.7" fill="#FDEB8B"/>
<polygon points="2106.7,1627.0 2118.3,1592.0 2150.0,1590.3 2148.3,1618.7 2143.3,1643.7 2128.3,1637.0" fill="#FDEB8B"/>
<polygon points="2066.7,1655.3 2078.3,1648.7 2086.7,1640.3 2096.7,1647.0 2091.7,1655.3 2085.0,1663.7" fill="#FDEB8B"/>
<polygon points="2415.0,1568.7 2435.0,1568.7 2445.0,1575.3 2468.3,1575.3 2495.0,1578.7 2505.0,1583.7 2498.3,1593.7 2478.3,1598.7 2465.0,1605.3 2461.7,1618.7 2455.0,1622.0 2450.0,1605.3 2438.3,1592.0 2418.3,1580.3" fill="#FDEB8B"/>
<polygon points="2425.0,1625.3 2426.7,1605.3 2438.3,1602.0 2441.7,1618.7 2438.3,1630.3 2421.7,1635.3" fill="#FDEB8B"/>
<polygon points="2435.0,1740.3 2448.3,1733.7 2458.3,1732.0 2455.0,1745.3 2446.7,1750.3" fill="#FDEB8B"/>
<polygon points="2498.3,1742.0 2508.3,1742.0 2508.3,1755.3 2498.3,1755.3" fill="#FDEB8B"/>
<polygon points="2465.0,1796.7 2471.7,1788.3 2478.3,1796.7 2471.7,1806.7" fill="#FDEB8B"/>
<polygon points="2401.7,1893.3 2415.0,1881.7 2421.7,1896.7 2428.3,1905.0 2411.7,1903.3" fill="#FDEB8B"/>
<polygon points="2773.3,1670.0 2783.3,1661.7 2788.3,1665.0 2780.0,1676.7" fill="#FDEB8B"/>
<polygon points="2803.3,1653.3 2810.0,1650.0 2810.0,1656.7" fill="#FDEB8B"/>
<polygon points="2635.0,1488.7 2643.3,1480.3 2653.3,1492.0 2645.0,1498.7 2635.0,1498.7" fill="#FDEB8B"/>
<polygon points="2728.3,1537.0 2735.0,1533.7 2741.7,1540.3 2735.0,1545.3" fill="#FDEB8B"/>
<polygon points="2868.3,1548.7 2875.0,1547.0 2880.0,1553.7 2873.3,1557.0" fill="#FDEB8B"/>
<polygon points="2893.3,1552.0 2903.3,1543.7 2915.0,1552.0 2913.3,1558.7 2898.3,1558.7" fill="#FDEB8B"/>
<polygon points="2945.0,1552.0 2950.0,1547.0 2951.7,1553.7" fill="#FDEB8B"/>
<polygon points="2700.0,1608.7 2713.3,1585.3 2726.7,1595.3 2723.3,1602.0 2713.3,1603.7 2705.0,1613.7" fill="#FDEB8B"/>
<polygon points="2901.7,1602.0 2913.3,1593.7 2913.3,1607.0 2905.0,1608.7" fill="#FDEB8B"/>
<polygon points="2803.3,1643.7 2810.0,1637.0 2820.0,1640.3 2813.3,1655.3 2805.0,1652.0" fill="#FDEB8B"/>
<polygon points="2773.3,1668.7 2783.3,1662.0 2788.3,1665.3 2780.0,1677.0" fill="#FDEB8B"/>
<polygon points="2856.7,1485.3 2866.7,1482.0 2871.7,1492.0 2863.3,1497.0" fill="#FDEB8B"/>
<polygon points="2895.0,1488.7 2908.3,1475.3 2923.3,1472.0 2933.3,1478.7 2926.7,1495.3 2930.0,1512.0 2920.0,1522.0 2910.0,1508.7 2900.0,1502.0" fill="#FDEB8B"/>
<polygon points="2933.3,1478.7 2946.7,1482.0 2953.3,1495.3 2943.3,1492.0" fill="#FDEB8B"/>
<polygon points="2873.3,1505.3 2880.0,1498.7 2885.0,1508.7 2878.3,1513.7" fill="#FDEB8B"/>
<polygon points="2848.3,1508.7 2855.0,1505.3 2860.0,1515.3 2851.7,1517.0" fill="#FDEB8B"/>
<polygon points="2985.0,1485.3 2993.3,1487.0 3001.7,1487.0 3003.3,1498.7 2993.3,1495.3" fill="#FDEB8B"/>
<polygon points="2753.3,746.0 2762.7,744.3 2764.0,757.7 2756.7,762.7" fill="#FDEB8B"/>
<polygon points="2657.8,791.1 2672.2,784.4 2675.6,804.4 2681.1,820.0 2677.8,846.7 2671.1,804.4" fill="#FDEB8B"/>
<polygon points="2715.6,811.1 2726.7,798.9 2737.8,800.0 2733.3,820.0 2737.8,831.1 2744.4,826.7 2751.1,811.1 2755.6,793.3 2760.0,784.4 2771.1,777.8 2780.0,788.9 2788.9,782.2 2793.3,768.9 2802.2,760.0 2802.2,773.3 2795.6,793.3 2788.9,804.4 2802.2,797.8 2815.6,800.0 2811.1,811.1 2800.0,817.8 2791.1,828.9 2802.2,831.1 2793.3,842.2 2780.0,840.0 2757.8,853.3 2755.6,864.4 2773.3,866.7 2780.0,871.1 2766.7,886.7 2753.3,893.3 2735.6,902.2 2724.4,904.4 2717.8,897.8 2704.4,888.9 2700.0,875.6 2706.7,868.9 2717.8,864.4 2740.0,860.0 2737.8,853.3 2722.2,848.9 2713.3,844.4 2706.7,855.6 2695.6,860.0 2691.1,837.8 2716.7,835.6" fill="#FDEB8B"/>
<polygon points="2635.6,857.8 2644.4,855.6 2664.4,863.3 2684.4,860.0 2691.1,877.8 2700.0,893.3 2663.3,893.3 2655.6,902.2 2656.7,908.9 2653.3,908.9 2644.4,913.3 2637.8,926.7 2631.1,937.8 2620.0,942.2 2626.7,948.9 2640.0,940.0 2653.3,937.8 2684.4,937.8 2684.4,950.0 2655.6,953.3 2653.3,960.0 2640.0,953.3 2633.3,960.0 2644.4,971.1 2663.3,990.0 2646.7,991.1 2635.6,998.9 2642.2,1006.7 2653.3,1011.1 2651.1,1017.8 2655.6,1026.7 2646.7,1031.1 2635.6,1040.0 2622.2,1055.6 2600.0,1057.8 2608.9,1075.6 2631.1,1080.0 2633.3,1088.9 2578.9,1091.1 2578.9,908.9 2591.1,908.9 2640.0,906.7 2642.2,875.6" fill="#FDEB8B"/>
<polygon points="2631.1,1080.0 2637.8,1048.9 2668.9,1035.6 2680.0,1035.6 2686.7,1044.4 2691.1,1053.3 2684.4,1060.0 2673.3,1071.1 2668.9,1093.3 2633.3,1088.9" fill="#FDEB8B"/>
<polygon points="2764.4,895.6 2768.9,902.2 2775.6,906.7 2780.0,920.0 2782.2,924.4 2773.3,937.8 2764.4,944.4 2755.6,944.4 2748.9,940.0 2744.4,944.4 2735.6,948.9 2731.1,937.8 2735.6,922.2 2744.4,915.6 2746.7,904.4 2755.6,893.3" fill="#FDEB8B"/>
<polygon points="2780.0,935.6 2786.7,937.8 2798.9,931.1 2804.4,931.1 2816.7,931.1 2816.7,973.3 2804.4,968.9 2800.0,980.0 2802.2,991.1 2788.9,993.3 2775.6,995.6 2768.9,991.1 2773.3,981.1 2774.4,971.1 2777.8,955.6 2784.4,944.4" fill="#FDEB8B"/>
<polygon points="2775.6,995.6 2788.9,993.3 2800.0,993.3 2787.8,1005.6 2800.0,1008.9 2802.2,1017.8 2793.3,1026.7 2788.9,1017.8 2780.0,1006.7" fill="#FDEB8B"/>
<polygon points="2824.4,871.1 2826.7,860.0 2837.8,853.3 2848.9,851.1 2853.3,857.8 2851.1,871.1 2857.8,886.7 2848.9,891.1 2835.6,893.3 2826.7,886.7" fill="#FDEB8B"/>
<polygon points="2851.1,844.4 2864.4,846.7 2871.1,840.0 2880.0,833.3 2893.3,831.1 2897.8,842.2 2908.9,844.4 2915.6,848.9 2911.1,857.8 2913.3,866.7 2922.2,875.6 2913.3,884.4 2906.7,893.3 2905.6,883.3 2898.9,886.7 2900.0,893.3 2893.3,902.2 2890.0,896.7 2871.1,902.2 2860.0,902.2 2857.8,886.7 2851.1,871.1 2853.3,857.8 2868.9,857.8 2875.6,858.9 2866.7,853.3" fill="#FDEB8B"/>
<polygon points="2877.8,915.6 2884.4,906.7 2893.3,902.2 2895.6,915.6 2900.0,928.9 2891.1,937.8 2880.0,935.6" fill="#FDEB8B"/>
<polygon points="2838.9,822.2 2846.7,800.0 2842.2,791.1 2857.8,815.6 2866.7,813.3 2862.2,824.4 2857.8,831.1 2850.0,826.7 2848.9,817.8" fill="#FDEB8B"/>
<polygon points="2935.6,824.4 2946.7,820.0 2955.6,828.9 2962.2,837.8 2953.3,844.4 2946.7,851.1 2937.8,835.6" fill="#FDEB8B"/>
<polygon points="2955.6,811.1 2966.7,808.9 2971.1,822.2 2962.2,826.7" fill="#FDEB8B"/>
<polygon points="2940.0,971.1 2957.8,968.9 2966.7,982.2 2968.9,991.1 2962.2,995.6 2957.8,995.6 2946.7,991.1 2935.6,982.2" fill="#FDEB8B"/>
<polygon points="2920.0,972.2 2933.3,968.9 2935.6,982.2 2926.7,986.7 2915.6,984.4" fill="#FDEB8B"/>
<polygon points="2884.4,970.0 2891.1,980.0 2897.8,977.8 2895.6,982.2 2886.7,982.2" fill="#FDEB8B"/>
<polygon points="2975.6,1026.7 2988.9,1028.9 2995.6,1037.8 2988.9,1046.7 2977.8,1040.0" fill="#FDEB8B"/>
<polygon points="2742.2,1066.7 2757.8,1064.4 2766.7,1068.9 2762.2,1077.8 2746.7,1077.8" fill="#FDEB8B"/>
<polygon points="2588.9,1106.7 2611.1,1104.4 2626.7,1113.3 2624.4,1122.2 2588.9,1122.2" fill="#FDEB8B"/>
<polygon points="2997.8,1071.1 3008.9,1057.8 3024.4,1051.1 3046.7,1053.3 3064.4,1048.9 3091.1,1046.7 3091.1,1122.2 3002.2,1122.2 2995.6,1106.7 3002.2,1088.9" fill="#FDEB8B"/>
<polygon points="2588.9,1119.9 2624.4,1119.9 2622.2,1129.9 2602.2,1132.1" fill="#FDEB8B"/>
<polygon points="2646.7,1165.4 2664.4,1161.0 2691.1,1156.6 2697.8,1169.9 2704.4,1187.7 2695.6,1187.7 2675.6,1185.4 2668.9,1196.6 2657.8,1207.7 2651.1,1214.3 2648.9,1183.2" fill="#FDEB8B"/>
<polygon points="2578.9,1169.9 2591.1,1178.8 2593.3,1196.6 2588.9,1214.3 2595.6,1232.1 2617.8,1238.8 2606.7,1247.7 2593.3,1254.3 2586.7,1276.6 2578.9,1281.0" fill="#FDEB8B"/>
<polygon points="2578.9,1294.3 2593.3,1294.3 2593.3,1321.0 2586.7,1334.3 2578.9,1334.3" fill="#FDEB8B"/>
<polygon points="2686.7,1249.9 2700.0,1225.4 2715.6,1214.3 2722.2,1221.0 2717.8,1236.6 2711.1,1245.4 2697.8,1252.1" fill="#FDEB8B"/>
<polygon points="2728.9,1245.4 2735.6,1232.1 2748.9,1227.7 2753.3,1252.1 2744.4,1254.3" fill="#FDEB8B"/>
<polygon points="2788.9,1172.1 2802.2,1158.8 2815.6,1161.0 2808.9,1169.9 2800.0,1178.8 2802.2,1194.3 2791.1,1176.6" fill="#FDEB8B"/>
<polygon points="2821.1,1167.7 2842.2,1166.6 2866.7,1172.1 2888.9,1187.7 2877.8,1192.1 2891.1,1205.4 2886.7,1221.0 2900.0,1236.6 2886.7,1245.4 2873.3,1252.1 2824.4,1259.9 2826.7,1236.6 2822.2,1205.4" fill="#FDEB8B"/>
<polygon points="2857.8,1119.9 2875.6,1119.9 2880.0,1136.6 2891.1,1127.7 2906.7,1125.4 2913.3,1119.9 2957.8,1119.9 2953.3,1134.3 2962.2,1152.1 2984.4,1145.4 2997.8,1149.9 2993.3,1158.8 2984.4,1165.4 2971.1,1167.7 2957.8,1176.6 2955.6,1183.2 2944.4,1165.4 2931.1,1172.1 2921.1,1154.3 2913.3,1134.3 2875.6,1134.3" fill="#FDEB8B"/>
<polygon points="2893.3,1192.1 2908.9,1185.4 2920.0,1185.4 2928.9,1187.7 2935.6,1205.4 2926.7,1227.7 2913.3,1209.9 2904.4,1205.4" fill="#FDEB8B"/>
<polygon points="2944.4,1196.6 2957.8,1194.3 2962.2,1209.9 2957.8,1225.4 2955.6,1225.4 2944.4,1214.3" fill="#FDEB8B"/>
<polygon points="2913.3,1247.7 2926.7,1245.4 2933.3,1254.3 2935.6,1272.1 2922.2,1276.6 2913.3,1265.4" fill="#FDEB8B"/>
<polygon points="2697.8,1285.4 2713.3,1272.1 2722.2,1261.0 2731.1,1267.7 2744.4,1258.8 2755.6,1272.1 2764.4,1285.4 2755.6,1294.3 2735.6,1301.0 2724.4,1294.3 2718.9,1289.9 2713.3,1287.7 2706.7,1292.1" fill="#FDEB8B"/>
<polygon points="2693.3,1321.0 2704.4,1307.7 2717.8,1307.7 2722.2,1321.0 2733.3,1316.6 2744.4,1327.7 2735.6,1341.0 2722.2,1338.8 2713.3,1347.7 2700.0,1343.2 2691.1,1338.8" fill="#FDEB8B"/>
<polygon points="2651.1,1327.7 2662.2,1324.3 2675.6,1329.9 2682.2,1334.3 2675.6,1343.2 2657.8,1345.4" fill="#FDEB8B"/>
<polygon points="2797.8,1303.2 2815.6,1303.2 2824.4,1318.8 2822.2,1334.3 2815.6,1343.2 2820.0,1356.6 2808.9,1372.1 2817.8,1383.2 2826.7,1383.2 2814.4,1394.3 2804.4,1405.4 2793.3,1401.0 2775.6,1398.8 2771.1,1383.2 2757.8,1374.3 2746.7,1365.4 2740.0,1354.3 2748.9,1345.4 2766.7,1345.4 2780.0,1343.2 2797.8,1336.6 2802.2,1321.0" fill="#FDEB8B"/>
<polygon points="2695.6,1385.4 2704.4,1371.0 2713.3,1378.8 2706.7,1387.7" fill="#FDEB8B"/>
<polygon points="2606.7,1396.6 2631.1,1394.3 2637.8,1385.4 2648.9,1396.6 2644.4,1409.9 2657.8,1427.7 2646.7,1429.9 2631.1,1434.3 2624.4,1418.8 2613.3,1407.7" fill="#FDEB8B"/>
<polygon points="2966.7,1172.1 2984.4,1165.4 3002.2,1165.4 3020.0,1178.8 3015.6,1189.9 3000.0,1187.7 2980.0,1187.7" fill="#FDEB8B"/>
<polygon points="3024.4,1147.7 3037.8,1134.3 3051.1,1138.8 3064.4,1149.9 3062.2,1158.8 3051.1,1152.1 3040.0,1156.6" fill="#FDEB8B"/>
<polygon points="3053.3,1187.7 3068.9,1185.4 3091.1,1187.7 3091.1,1209.9 3068.9,1207.7 3057.8,1201.0" fill="#FDEB8B"/>
<polygon points="3002.2,1209.9 3015.6,1207.7 3020.0,1221.0 3011.1,1227.7 3002.2,1223.2" fill="#FDEB8B"/>
<polygon points="3037.8,1227.7 3055.6,1221.0 3064.4,1236.6 3060.0,1254.3 3046.7,1252.1 3040.0,1241.0" fill="#FDEB8B"/>
<polygon points="2953.3,1267.7 2968.9,1254.3 2986.7,1258.8 2995.6,1272.1 2980.0,1276.6 2966.7,1274.3" fill="#FDEB8B"/>
<polygon points="2935.6,1292.1 2953.3,1287.7 2966.7,1296.6 2957.8,1303.2 2944.4,1301.0" fill="#FDEB8B"/>
<polygon points="2963.3,1321.0 2980.0,1318.8 2997.8,1327.7 2995.6,1345.4 2980.0,1352.1 2975.6,1341.0 2964.4,1343.2" fill="#FDEB8B"/>
<polygon points="3024.4,1281.0 3042.2,1278.8 3053.3,1289.9 3046.7,1305.4 3037.8,1318.8 3031.1,1307.7 3024.4,1296.6" fill="#FDEB8B"/>
<polygon points="3035.6,1336.6 3053.3,1334.3 3057.8,1341.0 3044.4,1343.2" fill="#FDEB8B"/>
<polygon points="3008.9,1398.8 3022.2,1396.6 3033.3,1407.7 3031.1,1423.2 3022.2,1432.1 3013.3,1421.0" fill="#FDEB8B"/>
<polygon points="2915.6,1425.4 2926.7,1416.6 2935.6,1427.7 2953.3,1425.4 2957.8,1436.6 2944.4,1441.0 2931.1,1449.9 2920.0,1441.0" fill="#FDEB8B"/>
<polygon points="2864.4,1427.7 2873.3,1418.8 2882.2,1432.1 2884.4,1449.9 2868.9,1445.4" fill="#FDEB8B"/>
<polygon points="2982.2,1454.3 2995.6,1448.8 3011.1,1454.3 3024.4,1449.9 3035.6,1454.3 3031.1,1463.2 3020.0,1467.7 3002.2,1467.7 2988.9,1463.2" fill="#FDEB8B"/>
<polygon points="2681.1,1452.1 2686.7,1446.6 2700.0,1454.3 2708.9,1463.2 2700.0,1469.9 2693.3,1476.6 2686.7,1467.7" fill="#FDEB8B"/>
<polygon points="2724.4,1467.7 2735.6,1452.1 2751.1,1458.8 2757.8,1467.7 2753.3,1478.8 2735.6,1474.3" fill="#FDEB8B"/>
<polygon points="2578.9,1454.3 2602.2,1463.2 2613.3,1469.9 2602.2,1472.1 2588.9,1476.6 2578.9,1474.3" fill="#FDEB8B"/>
<polygon points="2966.6,810.3 2977.6,805.0 2977.3,821.2 2961.3,817.0" fill="#FDEB8B"/>
<polygon points="2977.3,821.2 2991.4,821.0 2985.1,831.6 2974.5,827.7" fill="#FDEB8B"/>
<polygon points="2991.4,821.0 2997.7,816.7 3000.1,831.7 2985.1,831.6" fill="#FDEB8B"/>
<polygon points="2997.7,816.7 3010.0,821.2 3009.7,826.3 3000.1,831.7" fill="#FDEB8B"/>
<polygon points="3027.3,814.1 3031.2,814.9 3037.7,832.0 3025.8,833.7" fill="#FDEB8B"/>
<polygon points="3031.2,814.9 3043.3,817.4 3048.9,831.3 3037.7,832.0" fill="#FDEB8B"/>
<polygon points="3058.2,815.2 3064.0,816.7 3067.4,824.4 3054.7,829.2" fill="#FDEB8B"/>
<polygon points="3064.0,816.7 3079.1,818.1 3075.8,826.9 3067.4,824.4" fill="#FDEB8B"/>
<polygon points="2974.5,827.7 2985.1,831.6 2985.9,838.5 2980.0,837.7" fill="#FDEB8B"/>
<polygon points="3009.7,826.3 3025.8,833.7 3019.3,844.5 3009.0,839.7" fill="#FDEB8B"/>
<polygon points="3048.9,831.3 3054.7,829.2 3056.6,844.5 3046.6,844.4" fill="#FDEB8B"/>
<polygon points="3054.7,829.2 3067.4,824.4 3068.8,840.8 3056.6,844.5" fill="#FDEB8B"/>
<polygon points="3067.4,824.4 3075.8,826.9 3080.6,835.9 3068.8,840.8" fill="#FDEB8B"/>
<polygon points="3089.5,830.9 3107.7,828.5 3098.5,843.4 3091.3,837.4" fill="#FDEB8B"/>
<polygon points="2964.7,844.1 2980.0,837.7 2974.1,856.4 2969.0,856.5" fill="#FDEB8B"/>
<polygon points="2980.0,837.7 2985.9,838.5 2987.4,851.9 2974.1,856.4" fill="#FDEB8B"/>
<polygon points="2985.9,838.5 2997.3,841.3 3004.6,855.2 2987.4,851.9" fill="#FDEB8B"/>
<polygon points="2997.3,841.3 3009.0,839.7 3008.1,851.3 3004.6,855.2" fill="#FDEB8B"/>
<polygon points="3019.3,844.5 3032.9,840.1 3031.4,850.2 3023.0,850.4" fill="#FDEB8B"/>
<polygon points="3046.6,844.4 3056.6,844.5 3057.9,851.4 3048.0,847.4" fill="#FDEB8B"/>
<polygon points="3080.6,835.9 3091.3,837.4 3087.6,856.7 3081.5,852.1" fill="#FDEB8B"/>
<polygon points="3111.7,840.2 3128.5,841.0 3121.9,854.7 3111.0,849.7" fill="#FDEB8B"/>
<polygon points="2974.1,856.4 2987.4,851.9 2985.3,863.3 2979.1,864.0" fill="#FDEB8B"/>
<polygon points="3023.0,850.4 3031.4,850.2 3033.3,863.6 3022.8,866.7" fill="#FDEB8B"/>
<polygon points="3048.0,847.4 3057.9,851.4 3055.8,866.7 3047.6,868.2" fill="#FDEB8B"/>
<polygon points="3057.9,851.4 3064.2,850.4 3070.8,864.8 3055.8,866.7" fill="#FDEB8B"/>
<polygon points="3081.5,852.1 3087.6,856.7 3087.5,859.9 3079.4,862.0" fill="#FDEB8B"/>
<polygon points="3087.6,856.7 3106.1,856.6 3099.2,865.8 3087.5,859.9" fill="#FDEB8B"/>
<polygon points="3004.0,859.7 3014.4,862.8 3011.4,878.2 2996.3,875.2" fill="#FDEB8B"/>
<polygon points="3055.8,866.7 3070.8,864.8 3065.3,873.7 3054.7,870.5" fill="#FDEB8B"/>
<polygon points="3079.4,862.0 3087.5,859.9 3092.4,876.2 3076.5,878.2" fill="#FDEB8B"/>
<polygon points="3112.5,860.2 3122.3,866.8 3129.2,877.4 3114.7,870.2" fill="#FDEB8B"/>
<polygon points="3141.4,865.1 3147.2,861.0 3150.9,870.8 3137.9,875.3" fill="#FDEB8B"/>
<polygon points="3025.8,878.2 3035.1,878.8 3037.4,886.6 3027.2,883.0" fill="#FDEB8B"/>
<polygon points="3035.1,878.8 3047.6,876.9 3049.6,888.5 3037.4,886.6" fill="#FDEB8B"/>
<polygon points="3054.7,870.5 3065.3,873.7 3068.7,881.9 3054.7,890.3" fill="#FDEB8B"/>
<polygon points="3076.5,878.2 3092.4,876.2 3091.4,884.6 3075.5,886.4" fill="#FDEB8B"/>
<polygon points="3114.7,870.2 3129.2,877.4 3121.5,888.9 3113.1,889.8" fill="#FDEB8B"/>
<polygon points="3129.2,877.4 3137.9,875.3 3141.1,882.8 3121.5,888.9" fill="#FDEB8B"/>
<polygon points="3137.9,875.3 3150.9,870.8 3153.5,888.6 3141.1,882.8" fill="#FDEB8B"/>
<polygon points="3049.6,888.5 3054.7,890.3 3056.8,894.5 3049.8,902.8" fill="#FDEB8B"/>
<polygon points="3054.7,890.3 3068.7,881.9 3065.9,894.0 3056.8,894.5" fill="#FDEB8B"/>
<polygon points="3099.9,885.0 3113.1,889.8 3117.2,897.2 3104.0,901.7" fill="#FDEB8B"/>
<polygon points="3113.1,889.8 3121.5,888.9 3125.5,898.2 3117.2,897.2" fill="#FDEB8B"/>
<polygon points="3121.5,888.9 3141.1,882.8 3136.6,896.4 3125.5,898.2" fill="#FDEB8B"/>
<polygon points="3141.1,882.8 3153.5,888.6 3145.1,895.9 3136.6,896.4" fill="#FDEB8B"/>
<polygon points="3164.7,884.5 3171.1,885.5 3172.4,899.3 3165.4,894.4" fill="#FDEB8B"/>
<polygon points="3034.3,895.3 3049.8,902.8 3046.8,904.8 3033.3,906.8" fill="#FDEB8B"/>
<polygon points="3172.4,899.3 3187.3,895.3 3185.6,906.6 3170.8,908.7" fill="#FDEB8B"/>
<polygon points="3187.3,895.3 3193.1,895.6 3198.2,911.8 3185.6,906.6" fill="#FDEB8B"/>
<polygon points="3033.3,906.8 3046.8,904.8 3050.3,918.2 3038.7,917.4" fill="#FDEB8B"/>
<polygon points="3089.3,907.1 3107.8,911.5 3100.4,919.7 3090.6,925.1" fill="#FDEB8B"/>
<polygon points="3150.9,913.6 3158.2,905.0 3164.9,918.7 3144.8,916.8" fill="#FDEB8B"/>
<polygon points="3158.2,905.0 3170.8,908.7 3174.7,924.9 3164.9,918.7" fill="#FDEB8B"/>
<polygon points="3170.8,908.7 3185.6,906.6 3182.3,918.8 3174.7,924.9" fill="#FDEB8B"/>
<polygon points="3185.6,906.6 3198.2,911.8 3199.8,922.1 3182.3,918.8" fill="#FDEB8B"/>
<polygon points="3198.2,911.8 3206.9,906.7 3204.5,923.1 3199.8,922.1" fill="#FDEB8B"/>
<polygon points="3206.9,906.7 3222.9,907.7 3216.6,918.8 3204.5,923.1" fill="#FDEB8B"/>
<polygon points="3071.9,920.3 3076.0,920.7 3082.7,935.9 3070.0,934.2" fill="#FDEB8B"/>
<polygon points="3100.4,919.7 3118.7,916.5 3115.5,931.3 3106.6,930.5" fill="#FDEB8B"/>
<polygon points="3164.9,918.7 3174.7,924.9 3171.3,937.3 3161.6,930.8" fill="#FDEB8B"/>
<polygon points="3174.7,924.9 3182.3,918.8 3183.9,929.9 3171.3,937.3" fill="#FDEB8B"/>
<polygon points="3199.8,922.1 3204.5,923.1 3211.6,928.7 3198.3,934.0" fill="#FDEB8B"/>
<polygon points="3047.9,932.0 3054.8,931.7 3056.5,941.9 3042.6,945.9" fill="#FDEB8B"/>
<polygon points="3093.4,928.8 3106.6,930.5 3106.9,948.8 3090.5,943.2" fill="#FDEB8B"/>
<polygon points="3128.6,929.6 3135.4,930.0 3133.1,947.9 3128.5,941.1" fill="#FDEB8B"/>
<polygon points="3146.0,936.2 3161.6,930.8 3159.9,947.7 3148.6,947.1" fill="#FDEB8B"/>
<polygon points="3171.3,937.3 3183.9,929.9 3179.1,944.5 3172.0,940.7" fill="#FDEB8B"/>
<polygon points="3218.1,935.6 3233.1,936.5 3226.4,941.9 3217.1,944.0" fill="#FDEB8B"/>
<polygon points="3233.1,936.5 3236.9,930.5 3241.5,948.1 3226.4,941.9" fill="#FDEB8B"/>
<polygon points="3078.5,944.6 3090.5,943.2 3091.3,954.9 3079.6,957.0" fill="#FDEB8B"/>
<polygon points="3090.5,943.2 3106.9,948.8 3098.7,956.6 3091.3,954.9" fill="#FDEB8B"/>
<polygon points="3179.1,944.5 3196.7,948.0 3196.7,951.5 3183.9,951.1" fill="#FDEB8B"/>
<polygon points="3217.1,944.0 3226.4,941.9 3229.9,954.3 3218.4,951.2" fill="#FDEB8B"/>
<polygon points="3226.4,941.9 3241.5,948.1 3245.7,952.0 3229.9,954.3" fill="#FDEB8B"/>
<polygon points="3037.6,951.8 3046.8,956.0 3047.2,965.6 3030.6,967.3" fill="#FDEB8B"/>
<polygon points="3046.8,956.0 3058.6,953.6 3060.9,967.5 3047.2,965.6" fill="#FDEB8B"/>
<polygon points="3068.1,956.3 3079.6,957.0 3076.5,971.8 3069.6,970.7" fill="#FDEB8B"/>
<polygon points="3079.6,957.0 3091.3,954.9 3093.1,966.0 3076.5,971.8" fill="#FDEB8B"/>
<polygon points="3091.3,954.9 3098.7,956.6 3106.2,964.7 3093.1,966.0" fill="#FDEB8B"/>
<polygon points="3098.7,956.6 3114.7,952.9 3119.6,967.7 3106.2,964.7" fill="#FDEB8B"/>
<polygon points="3183.9,951.1 3196.7,951.5 3193.5,962.2 3184.7,968.6" fill="#FDEB8B"/>
<polygon points="3209.1,958.2 3218.4,951.2 3219.5,966.3 3202.3,963.6" fill="#FDEB8B"/>
<polygon points="3229.9,954.3 3245.7,952.0 3237.8,964.4 3230.0,970.8" fill="#FDEB8B"/>
<polygon points="3030.6,967.3 3047.2,965.6 3041.6,981.2 3033.4,976.0" fill="#FDEB8B"/>
<polygon points="3047.2,965.6 3060.9,967.5 3052.6,979.0 3041.6,981.2" fill="#FDEB8B"/>
<polygon points="3069.6,970.7 3076.5,971.8 3077.4,979.5 3073.1,975.0" fill="#FDEB8B"/>
<polygon points="3106.2,964.7 3119.6,967.7 3113.0,976.6 3106.4,975.4" fill="#FDEB8B"/>
<polygon points="3125.0,969.6 3137.3,963.9 3140.6,980.6 3122.0,982.3" fill="#FDEB8B"/>
<polygon points="3137.3,963.9 3151.7,962.6 3144.6,981.8 3140.6,980.6" fill="#FDEB8B"/>
<polygon points="3151.7,962.6 3163.9,964.6 3163.2,978.2 3144.6,981.8" fill="#FDEB8B"/>
<polygon points="3173.7,971.7 3184.7,968.6 3181.2,974.7 3174.7,978.0" fill="#FDEB8B"/>
<polygon points="3202.3,963.6 3219.5,966.3 3220.2,981.8 3205.2,980.9" fill="#FDEB8B"/>
<polygon points="3219.5,966.3 3230.0,970.8 3231.9,976.2 3220.2,981.8" fill="#FDEB8B"/>
<polygon points="3018.4,978.8 3033.4,976.0 3030.9,985.4 3018.8,994.0" fill="#FDEB8B"/>
<polygon points="3041.6,981.2 3052.6,979.0 3055.8,986.5 3042.0,994.1" fill="#FDEB8B"/>
<polygon points="3052.6,979.0 3073.1,975.0 3064.3,985.6 3055.8,986.5" fill="#FDEB8B"/>
<polygon points="3077.4,979.5 3091.9,979.9 3093.7,992.3 3082.2,991.3" fill="#FDEB8B"/>
<polygon points="3091.9,979.9 3106.4,975.4 3099.1,990.9 3093.7,992.3" fill="#FDEB8B"/>
<polygon points="3122.0,982.3 3140.6,980.6 3133.6,993.6 3129.4,993.8" fill="#FDEB8B"/>
<polygon points="3140.6,980.6 3144.6,981.8 3153.3,994.3 3133.6,993.6" fill="#FDEB8B"/>
<polygon points="3174.7,978.0 3181.2,974.7 3187.2,993.0 3168.6,985.5" fill="#FDEB8B"/>
<polygon points="3205.2,980.9 3220.2,981.8 3214.5,986.1 3208.1,987.9" fill="#FDEB8B"/>
<polygon points="3231.9,976.2 3241.9,977.9 3239.6,989.3 3232.3,987.2" fill="#FDEB8B"/>
<polygon points="3241.9,977.9 3255.6,978.7 3248.2,987.6 3239.6,989.3" fill="#FDEB8B"/>
<polygon points="3030.9,985.4 3042.0,994.1 3043.7,998.7 3032.0,1005.8" fill="#FDEB8B"/>
<polygon points="3055.8,986.5 3064.3,985.6 3065.1,1002.8 3059.3,1001.5" fill="#FDEB8B"/>
<polygon points="3099.1,990.9 3113.5,993.1 3113.9,1000.5 3104.6,1000.1" fill="#FDEB8B"/>
<polygon points="3113.5,993.1 3129.4,993.8 3130.1,997.5 3113.9,1000.5" fill="#FDEB8B"/>
<polygon points="3129.4,993.8 3133.6,993.6 3141.6,996.9 3130.1,997.5" fill="#FDEB8B"/>
<polygon points="3153.3,994.3 3157.0,987.2 3164.7,1001.5 3146.5,999.2" fill="#FDEB8B"/>
<polygon points="3157.0,987.2 3168.6,985.5 3171.2,1005.2 3164.7,1001.5" fill="#FDEB8B"/>
<polygon points="3187.2,993.0 3196.6,993.1 3195.6,1004.0 3181.3,1001.1" fill="#FDEB8B"/>
<polygon points="3076.3,1004.3 3093.7,1004.3 3090.9,1015.3 3076.9,1014.0" fill="#FDEB8B"/>
<polygon points="3093.7,1004.3 3104.6,1000.1 3107.3,1012.3 3090.9,1015.3" fill="#FDEB8B"/>
<polygon points="3104.6,1000.1 3113.9,1000.5 3115.5,1015.4 3107.3,1012.3" fill="#FDEB8B"/>
<polygon points="3130.1,997.5 3141.6,996.9 3140.0,1016.7 3125.6,1010.4" fill="#FDEB8B"/>
<polygon points="3141.6,996.9 3146.5,999.2 3152.0,1014.9 3140.0,1016.7" fill="#FDEB8B"/>
<polygon points="3164.7,1001.5 3171.2,1005.2 3173.7,1012.6 3164.2,1014.7" fill="#FDEB8B"/>
<polygon points="3216.9,999.8 3226.5,1004.8 3229.1,1012.6 3219.6,1010.6" fill="#FDEB8B"/>
<polygon points="3019.0,1010.2 3033.3,1008.5 3029.6,1023.7 3020.7,1023.5" fill="#FDEB8B"/>
<polygon points="3070.1,1012.6 3076.9,1014.0 3084.6,1024.8 3066.2,1026.8" fill="#FDEB8B"/>
<polygon points="3076.9,1014.0 3090.9,1015.3 3089.1,1027.4 3084.6,1024.8" fill="#FDEB8B"/>
<polygon points="3090.9,1015.3 3107.3,1012.3 3102.3,1021.7 3089.1,1027.4" fill="#FDEB8B"/>
<polygon points="3125.6,1010.4 3140.0,1016.7 3137.5,1025.1 3129.3,1025.8" fill="#FDEB8B"/>
<polygon points="3140.0,1016.7 3152.0,1014.9 3146.7,1029.0 3137.5,1025.1" fill="#FDEB8B"/>
<polygon points="3152.0,1014.9 3164.2,1014.7 3159.4,1025.8 3146.7,1029.0" fill="#FDEB8B"/>
<polygon points="3164.2,1014.7 3173.7,1012.6 3175.4,1027.6 3159.4,1025.8" fill="#FDEB8B"/>
<polygon points="3219.6,1010.6 3229.1,1012.6 3228.6,1022.1 3221.7,1022.3" fill="#FDEB8B"/>
<polygon points="3229.1,1012.6 3242.5,1012.1 3240.6,1021.5 3228.6,1022.1" fill="#FDEB8B"/>
<polygon points="3029.6,1023.7 3045.1,1026.4 3047.5,1039.8 3035.4,1038.7" fill="#FDEB8B"/>
<polygon points="3045.1,1026.4 3055.9,1022.2 3060.1,1039.3 3047.5,1039.8" fill="#FDEB8B"/>
<polygon points="3066.2,1026.8 3084.6,1024.8 3080.6,1038.3 3065.9,1037.9" fill="#FDEB8B"/>
<polygon points="3084.6,1024.8 3089.1,1027.4 3091.2,1039.7 3080.6,1038.3" fill="#FDEB8B"/>
<polygon points="3089.1,1027.4 3102.3,1021.7 3103.9,1033.7 3091.2,1039.7" fill="#FDEB8B"/>
<polygon points="3102.3,1021.7 3111.3,1027.2 3112.3,1032.5 3103.9,1033.7" fill="#FDEB8B"/>
<polygon points="3111.3,1027.2 3129.3,1025.8 3126.3,1031.7 3112.3,1032.5" fill="#FDEB8B"/>
<polygon points="3129.3,1025.8 3137.5,1025.1 3137.5,1032.6 3126.3,1031.7" fill="#FDEB8B"/>
<polygon points="3146.7,1029.0 3159.4,1025.8 3161.2,1039.5 3149.2,1036.0" fill="#FDEB8B"/>
<polygon points="3175.4,1027.6 3183.5,1022.5 3183.5,1036.6 3167.6,1039.3" fill="#FDEB8B"/>
<polygon points="3195.8,1020.9 3210.1,1023.1 3205.6,1035.2 3196.9,1039.3" fill="#FDEB8B"/>
<polygon points="3015.2,1038.8 3019.6,1039.8 3020.9,1048.3 3009.7,1045.7" fill="#FDEB8B"/>
<polygon points="3019.6,1039.8 3035.4,1038.7 3035.6,1050.2 3020.9,1048.3" fill="#FDEB8B"/>
<polygon points="3035.4,1038.7 3047.5,1039.8 3041.4,1049.7 3035.6,1050.2" fill="#FDEB8B"/>
<polygon points="3080.6,1038.3 3091.2,1039.7 3095.9,1048.5 3075.6,1044.5" fill="#FDEB8B"/>
<polygon points="3103.9,1033.7 3112.3,1032.5 3118.8,1048.6 3104.9,1050.3" fill="#FDEB8B"/>
<polygon points="3137.5,1032.6 3149.2,1036.0 3151.1,1044.7 3139.7,1048.4" fill="#FDEB8B"/>
<polygon points="3149.2,1036.0 3161.2,1039.5 3162.4,1047.1 3151.1,1044.7" fill="#FDEB8B"/>
<polygon points="3183.5,1036.6 3196.9,1039.3 3198.0,1051.5 3180.8,1043.0" fill="#FDEB8B"/>
<polygon points="3205.6,1035.2 3222.8,1031.9 3221.4,1050.3 3208.3,1046.2" fill="#FDEB8B"/>
<polygon points="3009.7,1045.7 3020.9,1048.3 3025.0,1056.5 3007.7,1054.3" fill="#FDEB8B"/>
<polygon points="3020.9,1048.3 3035.6,1050.2 3036.6,1056.0 3025.0,1056.5" fill="#FDEB8B"/>
<polygon points="3064.5,1045.6 3075.6,1044.5 3081.6,1061.0 3071.1,1055.0" fill="#FDEB8B"/>
<polygon points="3075.6,1044.5 3095.9,1048.5 3091.5,1063.2 3081.6,1061.0" fill="#FDEB8B"/>
<polygon points="3104.9,1050.3 3118.8,1048.6 3116.9,1054.3 3101.0,1063.5" fill="#FDEB8B"/>
<polygon points="3127.5,1048.7 3139.7,1048.4 3140.9,1054.9 3121.6,1060.5" fill="#FDEB8B"/>
<polygon points="3139.7,1048.4 3151.1,1044.7 3147.5,1061.2 3140.9,1054.9" fill="#FDEB8B"/>
<polygon points="3151.1,1044.7 3162.4,1047.1 3157.6,1062.5 3147.5,1061.2" fill="#FDEB8B"/>
<polygon points="3180.8,1043.0 3198.0,1051.5 3194.7,1060.7 3182.6,1059.7" fill="#FDEB8B"/>
<polygon points="3208.3,1046.2 3221.4,1050.3 3217.0,1060.4 3203.4,1061.9" fill="#FDEB8B"/>
<polygon points="3081.6,1061.0 3091.5,1063.2 3096.0,1067.9 3077.4,1072.9" fill="#FDEB8B"/>
<polygon points="3140.9,1054.9 3147.5,1061.2 3145.4,1073.5 3140.7,1070.1" fill="#FDEB8B"/>
<polygon points="3147.5,1061.2 3157.6,1062.5 3163.5,1067.9 3145.4,1073.5" fill="#FDEB8B"/>
<polygon points="3157.6,1062.5 3172.2,1054.7 3173.1,1074.3 3163.5,1067.9" fill="#FDEB8B"/>
<polygon points="3172.2,1054.7 3182.6,1059.7 3187.6,1070.7 3173.1,1074.3" fill="#FDEB8B"/>
<polygon points="3182.6,1059.7 3194.7,1060.7 3195.1,1071.4 3187.6,1070.7" fill="#FDEB8B"/>
<polygon points="3194.7,1060.7 3203.4,1061.9 3203.8,1067.5 3195.1,1071.4" fill="#FDEB8B"/>
<polygon points="3217.0,1060.4 3231.1,1058.2 3228.5,1071.1 3215.2,1072.4" fill="#FDEB8B"/>
<polygon points="3096.0,1067.9 3104.4,1072.2 3102.8,1078.7 3093.5,1081.0" fill="#FDEB8B"/>
<polygon points="3124.0,1072.9 3140.7,1070.1 3135.5,1080.6 3123.6,1077.5" fill="#FDEB8B"/>
<polygon points="3145.4,1073.5 3163.5,1067.9 3164.1,1077.6 3153.2,1085.9" fill="#FDEB8B"/>
<polygon points="3173.1,1074.3 3187.6,1070.7 3185.3,1086.7 3175.1,1084.0" fill="#FDEB8B"/>
<polygon points="3187.6,1070.7 3195.1,1071.4 3191.0,1078.6 3185.3,1086.7" fill="#FDEB8B"/>
<polygon points="3195.1,1071.4 3203.8,1067.5 3209.3,1086.2 3191.0,1078.6" fill="#FDEB8B"/>
<polygon points="3119.3,1086.7 3123.6,1077.5 3126.1,1091.4 3116.5,1090.7" fill="#FDEB8B"/>
<polygon points="3135.5,1080.6 3153.2,1085.9 3148.0,1098.2 3135.5,1090.6" fill="#FDEB8B"/>
<polygon points="3185.3,1086.7 3191.0,1078.6 3197.5,1091.5 3187.7,1089.2" fill="#FDEB8B"/>
<polygon points="3191.0,1078.6 3209.3,1086.2 3211.5,1088.8 3197.5,1091.5" fill="#FDEB8B"/>
<polygon points="3078.6,1097.4 3088.1,1098.1 3091.3,1105.2 3075.5,1105.2" fill="#FDEB8B"/>
<polygon points="3126.1,1091.4 3135.5,1090.6 3136.7,1107.4 3124.6,1107.0" fill="#FDEB8B"/>
<polygon points="3187.7,1089.2 3197.5,1091.5 3199.8,1102.3 3184.2,1100.4" fill="#FDEB8B"/>
<polygon points="3075.5,1105.2 3091.3,1105.2 3089.4,1115.7 3084.8,1120.7" fill="#FDEB8B"/>
<polygon points="3091.3,1105.2 3099.7,1107.1 3104.6,1115.2 3089.4,1115.7" fill="#FDEB8B"/>
<polygon points="3124.6,1107.0 3136.7,1107.4 3133.2,1113.0 3125.7,1116.5" fill="#FDEB8B"/>
<polygon points="3089.4,1115.7 3104.6,1115.2 3100.0,1123.8 3089.9,1130.6" fill="#FDEB8B"/>
<polygon points="3000.9,1127.7 3009.5,1125.5 3012.1,1135.5 2996.4,1140.2" fill="#FDEB8B"/>
<polygon points="3020.1,1128.1 3033.2,1128.8 3037.7,1142.8 3026.9,1137.8" fill="#FDEB8B"/>
<polygon points="3041.1,1126.6 3060.8,1125.5 3056.6,1143.5 3050.3,1136.6" fill="#FDEB8B"/>
<polygon points="3060.8,1125.5 3069.4,1127.9 3064.1,1135.1 3056.6,1143.5" fill="#FDEB8B"/>
<polygon points="3078.3,1132.7 3089.9,1130.6 3095.9,1142.1 3081.0,1139.5" fill="#FDEB8B"/>
<polygon points="2996.4,1140.2 3012.1,1135.5 3014.6,1151.8 2995.0,1149.1" fill="#FDEB8B"/>
<polygon points="3026.9,1137.8 3037.7,1142.8 3034.3,1151.5 3024.5,1148.1" fill="#FDEB8B"/>
<polygon points="3081.0,1139.5 3095.9,1142.1 3094.3,1147.2 3076.7,1147.7" fill="#FDEB8B"/>
<polygon points="3095.9,1142.1 3103.7,1144.3 3099.5,1147.8 3094.3,1147.2" fill="#FDEB8B"/>
<polygon points="3115.0,1139.7 3128.1,1138.4 3127.4,1154.0 3115.1,1154.1" fill="#FDEB8B"/>
<polygon points="2986.5,1152.8 2995.0,1149.1 3000.2,1161.4 2988.9,1158.8" fill="#FDEB8B"/>
<polygon points="2995.0,1149.1 3014.6,1151.8 3010.4,1158.3 3000.2,1161.4" fill="#FDEB8B"/>
<polygon points="3014.6,1151.8 3024.5,1148.1 3019.2,1165.6 3010.4,1158.3" fill="#FDEB8B"/>
<polygon points="3034.3,1151.5 3043.6,1152.4 3042.9,1160.4 3032.9,1160.0" fill="#FDEB8B"/>
<polygon points="3069.6,1150.1 3076.7,1147.7 3077.0,1164.5 3070.4,1161.0" fill="#FDEB8B"/>
<polygon points="3094.3,1147.2 3099.5,1147.8 3106.6,1158.9 3087.9,1160.3" fill="#FDEB8B"/>
<polygon points="3127.4,1154.0 3133.6,1146.3 3136.4,1164.6 3129.3,1159.2" fill="#FDEB8B"/>
<polygon points="3133.6,1146.3 3151.9,1149.3 3148.1,1166.9 3136.4,1164.6" fill="#FDEB8B"/>
<polygon points="2964.0,1159.5 2981.4,1160.5 2974.7,1173.1 2961.7,1176.1" fill="#FDEB8B"/>
<polygon points="2981.4,1160.5 2988.9,1158.8 2992.3,1176.7 2974.7,1173.1" fill="#FDEB8B"/>
<polygon points="2988.9,1158.8 3000.2,1161.4 3003.5,1177.5 2992.3,1176.7" fill="#FDEB8B"/>
<polygon points="3000.2,1161.4 3010.4,1158.3 3007.8,1171.8 3003.5,1177.5" fill="#FDEB8B"/>
<polygon points="3019.2,1165.6 3032.9,1160.0 3035.9,1172.6 3018.3,1175.7" fill="#FDEB8B"/>
<polygon points="3114.3,1165.7 3129.3,1159.2 3123.1,1171.1 3110.4,1169.6" fill="#FDEB8B"/>
<polygon points="2929.5,1174.0 2940.4,1169.8 2944.6,1188.7 2935.0,1187.4" fill="#FDEB8B"/>
<polygon points="2940.4,1169.8 2952.0,1171.4 2955.1,1185.0 2944.6,1188.7" fill="#FDEB8B"/>
<polygon points="2961.7,1176.1 2974.7,1173.1 2976.1,1185.6 2961.0,1187.4" fill="#FDEB8B"/>
<polygon points="2974.7,1173.1 2992.3,1176.7 2992.5,1181.9 2976.1,1185.6" fill="#FDEB8B"/>
<polygon points="2992.3,1176.7 3003.5,1177.5 3002.4,1181.1 2992.5,1181.9" fill="#FDEB8B"/>
<polygon points="3007.8,1171.8 3018.3,1175.7 3020.5,1185.9 3013.3,1188.5" fill="#FDEB8B"/>
<polygon points="3035.9,1172.6 3045.0,1175.5 3046.3,1183.1 3038.9,1186.8" fill="#FDEB8B"/>
<polygon points="3088.1,1178.0 3105.6,1176.1 3100.8,1183.0 3093.8,1187.1" fill="#FDEB8B"/>
<polygon points="2944.6,1188.7 2955.1,1185.0 2954.2,1192.3 2941.7,1194.0" fill="#FDEB8B"/>
<polygon points="2961.0,1187.4 2976.1,1185.6 2978.1,1201.2 2969.4,1198.4" fill="#FDEB8B"/>
<polygon points="3013.3,1188.5 3020.5,1185.9 3026.1,1195.0 3006.8,1199.7" fill="#FDEB8B"/>
<polygon points="3020.5,1185.9 3038.9,1186.8 3031.3,1198.3 3026.1,1195.0" fill="#FDEB8B"/>
<polygon points="3038.9,1186.8 3046.3,1183.1 3049.2,1201.1 3031.3,1198.3" fill="#FDEB8B"/>
<polygon points="3046.3,1183.1 3053.1,1184.1 3054.1,1199.7 3049.2,1201.1" fill="#FDEB8B"/>
<polygon points="3078.5,1182.0 3093.8,1187.1 3095.0,1195.3 3078.7,1194.0" fill="#FDEB8B"/>
<polygon points="3100.8,1183.0 3115.0,1185.0 3113.6,1200.2 3102.1,1197.5" fill="#FDEB8B"/>
<polygon points="3115.0,1185.0 3130.5,1184.1 3123.8,1192.6 3113.6,1200.2" fill="#FDEB8B"/>
<polygon points="2880.7,1192.3 2901.1,1199.4 2894.8,1207.9 2885.0,1207.7" fill="#FDEB8B"/>
<polygon points="2901.1,1199.4 2903.8,1199.1 2909.4,1211.6 2894.8,1207.9" fill="#FDEB8B"/>
<polygon points="2941.7,1194.0 2954.2,1192.3 2950.9,1204.5 2942.9,1207.0" fill="#FDEB8B"/>
<polygon points="2954.2,1192.3 2969.4,1198.4 2963.6,1208.1 2950.9,1204.5" fill="#FDEB8B"/>
<polygon points="2997.4,1193.5 3006.8,1199.7 3014.3,1204.2 3004.3,1209.7" fill="#FDEB8B"/>
<polygon points="3006.8,1199.7 3026.1,1195.0 3024.5,1209.6 3014.3,1204.2" fill="#FDEB8B"/>
<polygon points="3026.1,1195.0 3031.3,1198.3 3032.4,1209.2 3024.5,1209.6" fill="#FDEB8B"/>
<polygon points="3054.1,1199.7 3072.0,1199.3 3067.3,1212.2 3058.8,1206.6" fill="#FDEB8B"/>
<polygon points="3095.0,1195.3 3102.1,1197.5 3099.3,1210.1 3093.6,1208.0" fill="#FDEB8B"/>
<polygon points="2885.0,1207.7 2894.8,1207.9 2892.5,1223.2 2889.6,1222.1" fill="#FDEB8B"/>
<polygon points="2909.4,1211.6 2923.2,1205.3 2923.8,1220.6 2906.8,1216.8" fill="#FDEB8B"/>
<polygon points="2991.9,1213.1 3004.3,1209.7 3003.6,1221.2 2990.3,1219.3" fill="#FDEB8B"/>
<polygon points="3004.3,1209.7 3014.3,1204.2 3014.9,1220.6 3003.6,1221.2" fill="#FDEB8B"/>
<polygon points="3050.2,1208.3 3058.8,1206.6 3059.1,1223.1 3044.3,1222.5" fill="#FDEB8B"/>
<polygon points="3093.6,1208.0 3099.3,1210.1 3104.3,1216.1 3094.0,1215.6" fill="#FDEB8B"/>
<polygon points="2892.5,1223.2 2906.8,1216.8 2907.6,1228.2 2898.1,1230.5" fill="#FDEB8B"/>
<polygon points="2923.8,1220.6 2933.5,1216.5 2934.4,1232.6 2922.7,1230.5" fill="#FDEB8B"/>
<polygon points="2933.5,1216.5 2945.0,1215.7 2938.2,1229.9 2934.4,1232.6" fill="#FDEB8B"/>
<polygon points="2945.0,1215.7 2951.3,1218.8 2951.1,1235.3 2938.2,1229.9" fill="#FDEB8B"/>
<polygon points="2951.3,1218.8 2960.6,1220.9 2966.2,1227.1 2951.1,1235.3" fill="#FDEB8B"/>
<polygon points="2960.6,1220.9 2974.1,1218.1 2973.6,1230.2 2966.2,1227.1" fill="#FDEB8B"/>
<polygon points="3014.9,1220.6 3026.9,1223.6 3021.2,1226.9 3006.6,1232.3" fill="#FDEB8B"/>
<polygon points="3082.6,1224.3 3094.0,1215.6 3092.1,1235.9 3078.0,1232.2" fill="#FDEB8B"/>
<polygon points="2876.2,1227.0 2881.8,1234.6 2884.4,1242.5 2868.6,1246.6" fill="#FDEB8B"/>
<polygon points="2881.8,1234.6 2898.1,1230.5 2897.0,1241.1 2884.4,1242.5" fill="#FDEB8B"/>
<polygon points="2907.6,1228.2 2922.7,1230.5 2917.4,1241.2 2904.6,1238.8" fill="#FDEB8B"/>
<polygon points="2922.7,1230.5 2934.4,1232.6 2933.0,1243.5 2917.4,1241.2" fill="#FDEB8B"/>
<polygon points="2966.2,1227.1 2973.6,1230.2 2977.6,1247.7 2961.3,1239.9" fill="#FDEB8B"/>
<polygon points="3021.2,1226.9 3033.9,1236.2 3032.0,1238.4 3026.7,1240.8" fill="#FDEB8B"/>
<polygon points="3041.4,1228.1 3059.0,1229.3 3059.3,1240.3 3042.6,1240.8" fill="#FDEB8B"/>
<polygon points="3066.6,1231.5 3078.0,1232.2 3081.3,1246.5 3067.9,1240.1" fill="#FDEB8B"/>
<polygon points="2655.6,895.6 2686.7,893.3 2691.1,902.2 2677.8,911.1 2656.7,908.9" fill="url(#hatch)"/>
<polygon points="2704.4,848.9 2722.2,848.9 2737.8,853.3 2740.0,860.0 2717.8,864.4 2706.7,862.2" fill="url(#hatch)"/>
<polygon points="2635.6,953.3 2653.3,960.0 2655.6,953.3 2686.7,970.0 2663.3,990.0 2644.4,971.1 2633.3,960.0" fill="url(#hatch)"/>
<polygon points="2680.0,997.8 2700.0,993.3 2704.4,1006.7 2700.0,1008.9 2681.1,1020.0" fill="url(#hatch)"/>
<polygon points="2263.3,566.7 2275.0,561.7 2271.7,580.0 2273.3,596.7 2276.7,621.7 2265.0,620.0 2268.3,600.0 2258.3,590.0 2255.0,583.3 2261.7,576.7" fill="#FCC030"/>
<polygon points="1726.7,431.7 1733.3,429.3 1739.3,433.3 1737.3,440.0 1730.0,440.7" fill="#FCC030"/>
<polygon points="2473.3,804.3 2483.3,806.0 2481.7,847.7 2473.3,857.7 2470.0,847.7 2471.7,827.7 2466.7,827.7" fill="#FCC030"/>
<polygon points="2351.7,1495.3 2365.0,1478.7 2368.3,1458.7 2370.0,1428.7 2381.7,1408.7 2398.3,1395.3 2431.7,1388.7 2448.3,1398.7 2468.3,1418.7 2478.3,1438.7 2491.7,1445.3 2498.3,1460.3 2485.0,1465.3 2478.3,1470.3 2483.3,1480.3 2476.7,1488.7 2468.3,1498.7 2473.3,1508.7 2461.7,1510.3 2451.7,1525.3 2461.7,1543.7 2456.7,1545.3 2446.7,1532.0 2431.7,1530.3 2428.3,1515.3 2415.0,1498.7 2396.7,1488.7 2395.0,1512.0 2378.3,1515.3 2368.3,1525.3 2361.7,1515.3" fill="#FCC030"/>
<polygon points="2565.0,1492.0 2585.0,1485.3 2585.0,1542.0 2568.3,1532.0 2555.0,1528.7 2560.0,1525.3" fill="#FCC030"/>
<polygon points="2510.0,1428.7 2515.0,1418.7 2546.7,1423.7 2538.3,1435.3 2525.0,1438.7 2513.3,1440.3" fill="#FCC030"/>
<polygon points="2388.3,1330.3 2398.3,1320.3 2415.0,1322.0 2425.0,1325.3 2428.3,1338.7 2435.0,1348.7 2428.3,1357.0 2418.3,1350.3 2415.0,1335.3 2405.0,1332.0 2396.7,1335.3" fill="#FCC030"/>
<polygon points="2435.0,1302.0 2445.0,1295.3 2460.0,1285.3 2465.0,1295.3 2476.7,1303.7 2468.3,1312.0 2458.3,1320.3 2445.0,1318.7 2441.7,1310.3" fill="#FCC030"/>
<polygon points="2518.3,1312.0 2531.7,1302.0 2558.3,1292.0 2568.3,1295.3 2561.7,1308.7 2541.7,1313.7 2525.0,1315.3" fill="#FCC030"/>
<polygon points="2546.7,1402.0 2548.3,1388.7 2556.7,1375.3 2558.3,1388.7 2551.7,1398.7 2550.0,1407.0" fill="#FCC030"/>
<polygon points="2405.0,1710.3 2411.7,1713.7 2406.7,1718.7" fill="#FCC030"/>
<polygon points="2688.3,1794.0 2695.0,1792.7 2693.3,1797.3" fill="#FCC030"/>
<polygon points="2695.0,731.0 2705.0,731.0 2716.7,744.3 2713.3,752.7 2708.3,744.3 2696.7,739.3" fill="#FCC030"/>
<polygon points="3098.3,991.0 3113.3,984.3 3133.3,992.7 3126.7,1007.7 3110.0,1006.0" fill="#FCC030"/>
<polygon points="3190.0,917.7 3200.0,914.3 3201.7,924.3 3193.3,931.0" fill="#FCC030"/>
<polygon points="3120.0,1031.0 3130.0,1032.7 3131.7,1044.3 3121.7,1042.7" fill="#FCC030"/>
<polygon points="3020.0,1488.7 3028.3,1478.7 3028.3,1485.3 3035.0,1492.0 3026.7,1498.7" fill="#FCC030"/>
<polygon points="2578.3,1490.3 2590.0,1508.7 2600.0,1522.0 2610.0,1532.0 2606.7,1543.7 2600.7,1547.0 2602.7,1554.7 2613.3,1548.7 2616.7,1565.3 2600.0,1568.7 2590.0,1562.0 2578.3,1565.3" fill="#FCC030"/>
<polygon points="2665.0,1555.3 2673.3,1550.3 2680.0,1558.7 2675.0,1565.3 2666.7,1563.7" fill="#FCC030"/>
<polygon points="2831.7,1577.0 2836.7,1577.0 2840.0,1585.3 2835.0,1587.0" fill="#FCC030"/>
<polygon points="2585.0,1585.3 2595.0,1580.3 2600.0,1588.7 2590.0,1592.0" fill="#FCC030"/>
<polygon points="2677.8,846.7 2684.4,820.0 2686.7,804.4 2691.1,807.8 2704.4,804.4 2713.3,793.3 2726.7,784.4 2744.4,773.3 2751.1,773.3 2751.1,784.4 2742.2,791.1 2737.8,800.0 2726.7,798.9 2715.6,811.1 2716.7,835.6 2691.1,837.8 2686.7,844.4" fill="#FCC030"/>
<polygon points="2817.8,837.8 2824.4,828.9 2838.9,831.1 2850.0,826.7 2857.8,831.1 2871.1,840.0 2864.4,846.7 2851.1,844.4 2835.6,848.9 2824.4,842.2" fill="#FCC030"/>
<polygon points="2764.4,895.6 2784.4,886.7 2798.9,880.0 2798.9,895.6 2816.7,893.3 2815.6,871.1 2806.7,864.4 2817.8,853.3 2824.4,848.9 2833.3,853.3 2826.7,860.0 2824.4,871.1 2826.7,886.7 2835.6,893.3 2848.9,891.1 2857.8,886.7 2860.0,902.2 2855.6,904.4 2842.2,913.3 2824.4,915.6 2816.7,931.1 2804.4,931.1 2798.9,922.2 2798.9,913.3 2796.7,906.7 2780.0,920.0 2775.6,906.7 2768.9,902.2" fill="#FCC030"/>
<polygon points="2893.3,902.2 2900.0,893.3 2898.9,886.7 2906.7,893.3 2913.3,884.4 2922.2,875.6 2933.3,870.0 2927.8,881.1 2935.6,886.7 2946.7,890.0 2951.1,880.0 2957.8,873.3 2966.7,884.4 2971.1,897.8 2962.2,911.1 2957.8,924.4 2951.1,933.3 2937.8,931.1 2928.9,924.4 2917.8,928.9 2908.9,933.3 2900.0,928.9 2895.6,915.6" fill="#FCC030"/>
<polygon points="2908.9,933.3 2917.8,928.9 2920.0,937.8 2922.2,948.9 2917.8,957.8 2908.9,948.9" fill="#FCC030"/>
<polygon points="2915.6,848.9 2926.7,855.6 2933.3,870.0 2922.2,875.6 2913.3,866.7 2911.1,857.8" fill="#FCC030"/>
<polygon points="2893.3,831.1 2906.7,826.7 2913.3,835.6 2908.9,844.4 2897.8,842.2" fill="#FCC030"/>
<polygon points="2884.4,864.4 2895.6,857.8 2904.4,866.7 2897.8,875.6 2888.9,873.3" fill="#FCC030"/>
<polygon points="2968.9,862.2 2980.0,860.0 2988.9,866.7 2984.4,875.6 2973.3,873.3" fill="#FCC030"/>
<polygon points="2995.6,871.1 3008.9,868.9 3015.6,875.6 3006.7,882.2 2997.8,880.0" fill="#FCC030"/>
<polygon points="3004.4,911.1 3015.6,903.3 3024.4,917.8 3013.3,920.0 3006.7,924.4 3001.1,915.6" fill="#FCC030"/>
<polygon points="2982.2,911.1 2994.4,906.7 2994.4,917.8 2988.9,926.7 2983.3,920.0" fill="#FCC030"/>
<polygon points="2655.6,953.3 2684.4,950.0 2693.3,951.1 2700.0,958.9 2691.1,964.4 2673.3,963.3 2662.2,960.0" fill="#FCC030"/>
<polygon points="2660.0,993.3 2684.4,986.7 2708.9,980.0 2706.7,988.9 2686.7,993.3 2681.1,1008.9 2668.9,1007.8 2661.1,1002.2" fill="#FCC030"/>
<polygon points="2706.7,982.2 2713.3,973.3 2722.2,980.0 2735.6,991.1 2748.9,986.7 2762.2,982.2 2773.3,981.1 2768.9,991.1 2755.6,995.6 2746.7,1004.4 2746.7,1015.6 2735.6,1013.3 2733.3,1002.2 2717.8,1000.0 2708.9,1002.2 2705.6,993.3" fill="#FCC030"/>
<polygon points="2728.9,960.0 2735.6,955.6 2742.2,960.0 2740.0,968.9 2744.4,978.9 2737.8,980.0 2733.3,977.8 2731.1,968.9" fill="#FCC030"/>
<polygon points="2816.7,953.3 2842.2,953.3 2842.2,970.0 2833.3,973.3 2817.8,973.3" fill="#FCC030"/>
<polygon points="2835.6,973.3 2842.2,970.0 2857.8,973.3 2853.3,982.2 2848.9,991.1 2842.2,997.8 2842.2,1011.1 2841.1,1024.4 2831.1,1026.7 2822.2,1035.6 2820.0,1046.7 2815.6,1057.8 2811.1,1071.1 2806.7,1077.8 2802.2,1068.9 2793.3,1062.2 2800.0,1053.3 2800.0,1042.2 2788.9,1037.8 2793.3,1026.7 2802.2,1020.0 2815.6,1017.8 2818.9,1004.4 2822.2,995.6 2831.1,988.9 2840.0,982.2" fill="#FCC030"/>
<polygon points="2756.7,1030.0 2762.2,1037.8 2773.3,1042.2 2784.4,1041.1 2780.0,1051.1 2768.9,1053.3 2757.8,1048.9 2754.4,1040.0" fill="#FCC030"/>
<polygon points="2717.8,1017.8 2726.7,1015.6 2731.1,1020.0 2728.9,1033.3 2722.2,1034.4 2724.4,1044.4 2717.8,1048.9 2712.2,1044.4 2717.8,1033.3" fill="#FCC030"/>
<polygon points="2728.9,1046.7 2740.0,1042.2 2748.9,1048.9 2744.4,1057.8 2735.6,1060.0 2731.1,1055.6" fill="#FCC030"/>
<polygon points="2877.8,1040.0 2902.2,1055.6 2902.2,1062.2 2871.1,1063.3 2875.6,1048.9" fill="#FCC030"/>
<polygon points="2842.2,1082.2 2853.3,1077.8 2857.8,1068.9 2866.7,1075.6 2862.2,1084.4 2857.8,1091.1 2868.9,1093.3 2866.7,1100.0 2853.3,1095.6 2844.4,1091.1" fill="#FCC030"/>
<polygon points="2933.3,1075.6 2940.0,1071.1 2948.9,1077.8 2953.3,1066.7 2955.6,1075.6 2966.7,1082.2 2962.2,1088.9 2944.4,1090.0 2935.6,1084.4" fill="#FCC030"/>
<polygon points="2955.6,1051.1 2962.2,1048.9 2966.7,1057.8 2980.0,1060.0 2977.8,1071.1 2966.7,1075.6 2962.2,1066.7" fill="#FCC030"/>
<polygon points="2915.6,1006.7 2922.2,1001.1 2926.7,1013.3 2935.6,1022.2 2933.3,1026.7 2924.4,1024.4 2916.7,1017.8" fill="#FCC030"/>
<polygon points="2935.6,1004.4 2946.7,991.1 2957.8,995.6 2962.2,1002.2 2957.8,1011.1 2946.7,1008.9" fill="#FCC030"/>
<polygon points="2966.7,982.2 2977.8,980.0 2982.2,993.3 2977.8,997.8 2968.9,991.1" fill="#FCC030"/>
<polygon points="3005.6,1035.6 3013.3,1034.4 3015.6,1051.1 3007.8,1052.2" fill="#FCC030"/>
<polygon points="3053.3,1015.6 3064.4,1008.9 3077.8,1013.3 3080.0,1024.4 3066.7,1024.4 3056.7,1025.6" fill="#FCC030"/>
<polygon points="3033.3,968.9 3042.2,962.2 3048.9,971.1 3057.8,973.3 3053.3,982.2 3044.4,980.0" fill="#FCC030"/>
<polygon points="3075.6,928.9 3090.2,924.4 3090.2,942.2 3082.2,937.8" fill="#FCC030"/>
<polygon points="2675.6,1091.1 2686.7,1086.7 2688.9,1075.6 2695.6,1082.2 2704.4,1088.9 2717.8,1091.1 2713.3,1100.0 2700.0,1100.0 2686.7,1097.8" fill="#FCC030"/>
<polygon points="2740.0,1106.7 2753.3,1102.2 2762.2,1106.7 2757.8,1115.6 2746.7,1120.0 2740.0,1115.6" fill="#FCC030"/>
<polygon points="2884.4,971.1 2900.0,965.6 2902.2,973.3 2891.1,980.0" fill="#FCC030"/>
<polygon points="3033.3,1015.6 3040.0,1013.3 3048.9,1020.0 3044.4,1026.7 3037.8,1024.4" fill="#FCC030"/>
<polygon points="2693.3,1119.9 2713.3,1119.9 2716.7,1129.9 2704.4,1132.1 2695.6,1134.3" fill="#FCC030"/>
<polygon points="2722.2,1134.3 2735.6,1132.1 2744.4,1143.2 2755.6,1149.9 2764.4,1138.8 2766.7,1145.4 2757.8,1152.1 2748.9,1153.2 2740.0,1147.7 2735.6,1156.6 2726.7,1149.9" fill="#FCC030"/>
<polygon points="2682.2,1143.2 2700.0,1154.3 2717.8,1165.4 2731.1,1156.6 2724.4,1172.1 2713.3,1178.8 2704.4,1187.7 2697.8,1169.9 2688.9,1154.3" fill="#FCC030"/>
<polygon points="2752.2,1172.1 2766.7,1161.0 2777.8,1149.9 2786.7,1141.0 2793.3,1147.7 2806.7,1146.6 2800.0,1154.3 2793.3,1161.0 2791.1,1176.6 2802.2,1194.3 2820.0,1185.4 2824.4,1201.0 2811.1,1205.4 2806.7,1218.8 2802.2,1225.4 2782.2,1232.1 2771.1,1227.7 2768.9,1236.6 2748.9,1234.3 2744.4,1209.9 2745.6,1192.1 2755.6,1184.3 2764.4,1178.8" fill="#FCC030"/>
<polygon points="2875.6,1134.3 2891.1,1127.7 2906.7,1125.4 2913.3,1134.3 2921.1,1154.3 2900.0,1157.7 2876.7,1154.3" fill="#FCC030"/>
<polygon points="2920.0,1185.4 2931.1,1172.1 2944.4,1165.4 2955.6,1183.2 2957.8,1194.3 2944.4,1196.6 2935.6,1194.3 2928.9,1187.7" fill="#FCC030"/>
<polygon points="2926.7,1227.7 2935.6,1205.4 2944.4,1214.3 2955.6,1225.4 2957.8,1232.1 2946.7,1234.3 2940.0,1245.4 2935.6,1254.3 2933.3,1241.0" fill="#FCC030"/>
<polygon points="2975.6,1212.1 2986.7,1209.9 2987.8,1219.9 2980.0,1222.1" fill="#FCC030"/>
<polygon points="3006.7,1161.0 3020.0,1149.9 3022.2,1161.0 3013.3,1176.6 3010.0,1167.7" fill="#FCC030"/>
<polygon points="3040.0,1156.6 3051.1,1152.1 3062.2,1158.8 3057.8,1165.4 3044.4,1163.2" fill="#FCC030"/>
<polygon points="2657.8,1292.1 2668.9,1267.7 2680.0,1274.3 2686.7,1281.0 2682.2,1296.6 2672.2,1306.6" fill="#FCC030"/>
<polygon points="2831.1,1309.9 2842.2,1294.3 2864.4,1276.6 2886.7,1256.6 2900.0,1265.4 2886.7,1281.0 2866.7,1292.1 2846.7,1305.4" fill="#FCC030"/>
<polygon points="2857.8,1298.8 2866.7,1296.6 2873.3,1309.9 2877.8,1316.6 2891.1,1314.3 2900.0,1318.8 2891.1,1329.9 2900.0,1343.2 2913.3,1343.2 2926.7,1343.2 2933.3,1334.3 2944.4,1316.6 2957.8,1314.3 2964.4,1321.0 2957.8,1341.0 2948.9,1343.2 2935.6,1345.4 2926.7,1356.6 2926.7,1367.7 2933.3,1378.8 2931.1,1394.3 2923.3,1394.3 2913.3,1401.0 2908.9,1383.2 2900.0,1381.0 2891.1,1387.7 2882.2,1378.8 2877.8,1369.9 2870.0,1362.1 2877.8,1356.6 2868.9,1347.7 2853.3,1349.9 2840.0,1347.7 2848.9,1332.1 2862.2,1336.6 2873.3,1329.9 2866.7,1316.6 2860.0,1309.9" fill="#FCC030"/>
<polygon points="2814.4,1394.3 2826.7,1383.2 2842.2,1387.7 2855.6,1379.9 2864.4,1374.3 2871.1,1365.4 2877.8,1369.9 2882.2,1378.8 2891.1,1387.7 2900.0,1381.0 2908.9,1383.2 2913.3,1401.0 2904.4,1407.7 2891.1,1409.9 2877.8,1405.4 2868.9,1421.0 2853.3,1416.6 2846.7,1425.4 2835.6,1434.3 2828.9,1418.8 2822.2,1407.7" fill="#FCC030"/>
<polygon points="2944.4,1396.6 2953.3,1387.7 2960.0,1398.8 2955.6,1407.7 2946.7,1409.9" fill="#FCC030"/>
<polygon points="2968.9,1387.7 2980.0,1378.8 2991.1,1389.9 2986.7,1403.2 2975.6,1405.4 2971.1,1396.6" fill="#FCC030"/>
<polygon points="3022.2,1356.6 3031.1,1345.4 3044.4,1343.2 3057.8,1341.0 3066.7,1347.7 3061.1,1365.4 3055.6,1352.1 3048.9,1361.0 3046.7,1372.1 3037.8,1363.2 3024.4,1369.9" fill="#FCC030"/>
<polygon points="3020.0,1263.2 3031.1,1258.8 3046.7,1267.7 3057.8,1274.3 3042.2,1278.8 3028.9,1274.3" fill="#FCC030"/>
<polygon points="3006.7,1303.2 3015.6,1294.3 3024.4,1296.6 3024.4,1305.4 3015.6,1309.9" fill="#FCC030"/>
<polygon points="2988.9,1283.2 2995.6,1279.9 3000.0,1286.6 2993.3,1289.9" fill="#FCC030"/>
<polygon points="3075.6,1236.6 3080.0,1235.4 3083.3,1242.1 3078.9,1243.2" fill="#FCC030"/>
<polygon points="2882.2,1432.1 2891.1,1421.0 2900.0,1432.1 2908.9,1445.4 2900.0,1452.1 2902.2,1461.0 2911.1,1463.2 2915.6,1454.3 2924.4,1458.8 2922.2,1469.9 2908.9,1474.3 2895.6,1476.6 2886.7,1467.7 2884.4,1449.9" fill="#FCC030"/>
<polygon points="2582.2,1341.0 2597.8,1334.3 2602.2,1337.7 2586.7,1345.4" fill="#FCC030"/>
<polygon points="2701.1,1354.3 2704.4,1353.2 2704.4,1357.7 2701.8,1358.3" fill="#FCC030"/>
<polygon points="3020.0,1467.7 3031.1,1463.2 3044.4,1467.7 3042.2,1478.8 3024.4,1476.6" fill="#FCC030"/>
<polygon points="2994.4,1444.3 3000.0,1441.0 3002.2,1447.7 2995.6,1448.8" fill="#FCC030"/>
<polygon points="2969.0,856.5 2974.1,856.4 2979.1,864.0 2962.9,858.8" fill="#FCC030"/>
<polygon points="3004.6,855.2 3008.1,851.3 3014.4,862.8 3004.0,859.7" fill="#FCC030"/>
<polygon points="2985.3,863.3 3004.0,859.7 2996.3,875.2 2990.6,878.0" fill="#FCC030"/>
<polygon points="3033.3,863.6 3047.6,868.2 3047.6,876.9 3035.1,878.8" fill="#FCC030"/>
<polygon points="3087.5,859.9 3099.2,865.8 3104.6,876.7 3092.4,876.2" fill="#FCC030"/>
<polygon points="3153.5,888.6 3164.7,884.5 3165.4,894.4 3145.1,895.9" fill="#FCC030"/>
<polygon points="3065.9,894.0 3078.8,894.0 3084.0,909.3 3073.3,910.9" fill="#FCC030"/>
<polygon points="3113.0,904.9 3126.3,911.2 3125.5,924.0 3118.7,916.5" fill="#FCC030"/>
<polygon points="3050.3,918.2 3055.9,924.1 3054.8,931.7 3047.9,932.0" fill="#FCC030"/>
<polygon points="3172.0,940.7 3179.1,944.5 3183.9,951.1 3168.4,954.9" fill="#FCC030"/>
<polygon points="3060.9,967.5 3069.6,970.7 3073.1,975.0 3052.6,979.0" fill="#FCC030"/>
<polygon points="3093.1,966.0 3106.2,964.7 3106.4,975.4 3091.9,979.9" fill="#FCC030"/>
<polygon points="3033.4,976.0 3041.6,981.2 3042.0,994.1 3030.9,985.4" fill="#FCC030"/>
<polygon points="3093.7,992.3 3099.1,990.9 3104.6,1000.1 3093.7,1004.3" fill="#FCC030"/>
<polygon points="3021.4,1004.7 3032.0,1005.8 3033.3,1008.5 3019.0,1010.2" fill="#FCC030"/>
<polygon points="3171.2,1005.2 3181.3,1001.1 3182.0,1014.2 3173.7,1012.6" fill="#FCC030"/>
<polygon points="3107.3,1012.3 3115.5,1015.4 3111.3,1027.2 3102.3,1021.7" fill="#FCC030"/>
<polygon points="3055.9,1022.2 3066.2,1026.8 3065.9,1037.9 3060.1,1039.3" fill="#FCC030"/>
<polygon points="3183.5,1022.5 3195.8,1020.9 3196.9,1039.3 3183.5,1036.6" fill="#FCC030"/>
<polygon points="3126.3,1031.7 3137.5,1032.6 3139.7,1048.4 3127.5,1048.7" fill="#FCC030"/>
<polygon points="3161.2,1039.5 3167.6,1039.3 3174.9,1043.6 3162.4,1047.1" fill="#FCC030"/>
<polygon points="3091.5,1063.2 3101.0,1063.5 3104.4,1072.2 3096.0,1067.9" fill="#FCC030"/>
<polygon points="3116.9,1054.3 3121.6,1060.5 3124.0,1072.9 3114.5,1067.7" fill="#FCC030"/>
<polygon points="3140.7,1070.1 3145.4,1073.5 3153.2,1085.9 3135.5,1080.6" fill="#FCC030"/>
<polygon points="3145.1,1108.6 3165.2,1104.9 3165.1,1117.8 3153.9,1119.2" fill="#FCC030"/>
<polygon points="3125.7,1116.5 3133.2,1113.0 3137.3,1130.3 3122.1,1126.9" fill="#FCC030"/>
<polygon points="3137.3,1130.3 3145.6,1125.3 3147.9,1143.8 3136.5,1140.4" fill="#FCC030"/>
<polygon points="3042.9,1160.4 3054.8,1158.0 3059.3,1171.6 3045.0,1175.5" fill="#FCC030"/>
<polygon points="2952.0,1171.4 2961.7,1176.1 2961.0,1187.4 2955.1,1185.0" fill="#FCC030"/>
<polygon points="3081.6,1170.9 3088.1,1178.0 3093.8,1187.1 3078.5,1182.0" fill="#FCC030"/>
<polygon points="2898.7,1188.7 2905.7,1181.5 2903.8,1199.1 2901.1,1199.4" fill="#FCC030"/>
<polygon points="2992.5,1181.9 3002.4,1181.1 2997.4,1193.5 2989.8,1194.6" fill="#FCC030"/>
<polygon points="2951.1,1235.3 2966.2,1227.1 2961.3,1239.9 2957.9,1243.8" fill="#FCC030"/>
<polygon points="3006.6,1232.3 3021.2,1226.9 3026.7,1240.8 3007.2,1242.9" fill="#FCC030"/>
<polygon points="2225.0,533.3 2248.3,520.0 2258.3,533.3 2275.0,530.0 2283.3,545.0 2275.0,556.7 2266.7,565.0 2255.0,560.0 2245.0,558.3 2238.3,543.3" fill="#E34B33"/>
<polygon points="2466.7,1480.3 2475.0,1470.3 2485.0,1470.3 2483.3,1482.0 2478.3,1488.7 2471.7,1487.0" fill="#E34B33"/>
<polygon points="3118.3,1024.3 3126.7,1022.7 3133.3,1034.3 3121.7,1031.0" fill="#E34B33"/>
<polygon points="3150.0,1031.0 3156.7,1024.3 3163.3,1027.7 3160.0,1037.7 3151.7,1039.3" fill="#E34B33"/>
<polygon points="3028.3,1485.3 3038.3,1472.0 3041.7,1478.7 3035.0,1492.0" fill="#E34B33"/>
<polygon points="3001.7,1487.0 3006.7,1485.3 3008.3,1497.0 3003.3,1498.7" fill="#E34B33"/>
<polygon points="2600.7,1547.0 2606.7,1543.7 2607.3,1552.0 2602.7,1554.7" fill="#E34B33"/>
<polygon points="2672.2,784.4 2684.4,787.8 2686.7,804.4 2681.1,820.0 2675.6,804.4" fill="#E34B33"/>
<polygon points="2748.9,768.9 2757.8,764.4 2771.1,768.9 2771.1,777.8 2760.0,784.4 2755.6,793.3 2751.1,811.1 2744.4,826.7 2737.8,831.1 2733.3,820.0 2737.8,800.0 2742.2,791.1 2751.1,784.4" fill="#E34B33"/>
<polygon points="2620.0,942.2 2631.1,937.8 2637.8,926.7 2644.4,913.3 2653.3,908.9 2673.3,915.6 2695.6,918.9 2713.3,913.3 2724.4,904.4 2735.6,913.3 2746.7,904.4 2744.4,915.6 2735.6,922.2 2726.7,935.6 2722.2,937.8 2713.3,951.1 2726.7,953.3 2735.6,948.9 2753.3,946.7 2764.4,951.1 2777.8,946.7 2780.0,935.6 2786.7,937.8 2784.4,944.4 2777.8,955.6 2768.9,957.8 2755.6,953.3 2746.7,957.8 2735.6,955.6 2724.4,957.8 2713.3,953.3 2708.9,946.7 2700.0,955.6 2693.3,951.1 2697.8,937.8 2684.4,937.8 2653.3,937.8 2640.0,940.0 2631.1,944.4 2626.7,948.9" fill="#E34B33"/>
<polygon points="2712.2,902.2 2715.6,897.8 2716.7,906.7 2713.3,911.1" fill="#E34B33"/>
<polygon points="2663.3,990.0 2686.7,968.9 2695.6,960.0 2706.7,973.3 2708.9,980.0 2684.4,986.7 2662.2,993.3" fill="#E34B33"/>
<polygon points="2635.6,998.9 2646.7,991.1 2658.9,990.0 2661.1,1002.2 2677.8,1008.9 2681.1,1020.0 2700.0,1008.9 2708.9,1015.6 2704.4,1033.3 2695.6,1048.9 2691.1,1053.3 2686.7,1044.4 2680.0,1035.6 2668.9,1035.6 2655.6,1026.7 2651.1,1017.8 2653.3,1011.1 2642.2,1006.7" fill="#E34B33"/>
<polygon points="2722.2,973.3 2727.8,968.9 2733.3,977.8 2735.6,991.1 2731.1,984.4 2724.4,980.0" fill="#E34B33"/>
<polygon points="2780.0,920.0 2796.7,906.7 2798.9,913.3 2786.7,920.0 2782.2,924.4" fill="#E34B33"/>
<polygon points="2798.9,880.0 2815.6,871.1 2816.7,893.3 2798.9,895.6" fill="#E34B33"/>
<polygon points="2816.7,931.1 2824.4,915.6 2842.2,913.3 2855.6,904.4 2871.1,902.2 2890.0,896.7 2884.4,906.7 2877.8,915.6 2880.0,935.6 2866.7,942.2 2851.1,944.4 2842.2,953.3 2816.7,953.3" fill="#E34B33"/>
<polygon points="2842.2,960.0 2857.8,955.6 2868.9,953.3 2886.7,944.4 2900.0,941.1 2908.9,948.9 2917.8,957.8 2926.7,960.0 2940.0,955.6 2957.8,960.0 2960.0,966.7 2946.7,971.1 2933.3,968.9 2915.6,970.0 2900.0,965.6 2886.7,970.0 2868.9,972.2 2857.8,973.3 2842.2,970.0" fill="#E34B33"/>
<polygon points="2917.8,928.9 2928.9,924.4 2933.3,935.6 2931.1,948.9 2937.8,955.6 2926.7,960.0 2922.2,948.9 2920.0,937.8" fill="#E34B33"/>
<polygon points="2926.7,855.6 2937.8,835.6 2946.7,851.1 2944.4,866.7 2933.3,870.0" fill="#E34B33"/>
<polygon points="2927.8,881.1 2944.4,873.3 2951.1,880.0 2946.7,890.0 2935.6,886.7" fill="#E34B33"/>
<polygon points="2898.9,886.7 2905.6,883.3 2906.7,893.3 2901.1,894.4" fill="#E34B33"/>
<polygon points="2875.6,858.9 2887.8,856.7 2880.0,865.6" fill="#E34B33"/>
<polygon points="2838.9,822.2 2848.9,817.8 2850.0,826.7 2842.2,831.1" fill="#E34B33"/>
<polygon points="3033.3,900.0 3044.4,893.3 3052.2,894.4 3046.7,898.9 3035.6,902.2" fill="#E34B33"/>
<polygon points="2994.4,911.1 3001.1,908.9 3002.2,915.6 2995.6,917.8" fill="#E34B33"/>
<polygon points="2957.8,924.4 2966.7,920.0 2975.6,922.2 2976.7,935.6 2968.9,937.8 2962.2,933.3" fill="#E34B33"/>
<polygon points="2787.8,1005.6 2800.0,993.3 2815.6,985.6 2822.2,995.6 2818.9,1004.4 2817.8,1017.8 2811.1,1020.0 2802.2,1017.8 2800.0,1008.9" fill="#E34B33"/>
<polygon points="2902.2,986.7 2911.1,973.3 2920.0,972.2 2915.6,984.4 2908.9,996.7" fill="#E34B33"/>
<polygon points="2854.4,1008.9 2864.4,1003.3 2875.6,1002.2 2876.7,1015.6 2866.7,1015.6 2862.2,1024.4 2863.3,1035.6 2857.8,1044.4 2847.8,1037.8 2852.2,1024.4" fill="#E34B33"/>
<polygon points="2933.3,1011.1 2944.4,1007.8 2948.9,1020.0 2940.0,1024.4 2934.4,1020.0" fill="#E34B33"/>
<polygon points="2962.2,995.6 2968.9,991.1 2977.8,997.8 2982.2,1000.0 2975.6,1013.3 2972.2,1002.2" fill="#E34B33"/>
<polygon points="2953.3,1048.9 2960.0,1026.7 2970.0,1023.3 2971.1,1033.3 2966.7,1048.9 2961.1,1051.1" fill="#E34B33"/>
<polygon points="3003.3,1026.7 3011.1,1023.3 3018.9,1025.6 3017.8,1033.3 3006.7,1033.3" fill="#E34B33"/>
<polygon points="3056.7,1025.6 3066.7,1024.4 3070.0,1037.8 3064.4,1042.2 3057.8,1035.6" fill="#E34B33"/>
<polygon points="3033.3,993.3 3036.7,992.2 3037.8,1001.1 3034.4,1002.2" fill="#E34B33"/>
<polygon points="2981.1,963.3 2987.8,966.7 2988.9,972.2 2982.2,970.0" fill="#E34B33"/>
<polygon points="2864.4,1070.0 2871.1,1063.3 2902.2,1062.2 2913.3,1071.1 2922.2,1080.0 2913.3,1086.7 2900.0,1075.6 2886.7,1071.1 2877.8,1075.6" fill="#E34B33"/>
<polygon points="2890.0,1093.3 2908.9,1088.9 2911.1,1102.2 2922.2,1104.4 2917.8,1115.6 2906.7,1113.3 2900.0,1106.7" fill="#E34B33"/>
<polygon points="2722.2,1086.7 2727.8,1070.0 2733.3,1077.8 2740.0,1075.6 2746.7,1093.3 2744.4,1106.7 2740.0,1122.2 2733.3,1122.2 2731.1,1106.7 2722.2,1102.2" fill="#E34B33"/>
<polygon points="2842.2,1113.3 2851.1,1106.7 2857.8,1122.2 2840.0,1122.2" fill="#E34B33"/>
<polygon points="2722.2,1034.4 2726.7,1030.0 2728.9,1046.7 2724.4,1044.4" fill="#E34B33"/>
<polygon points="2731.1,1020.0 2736.7,1015.6 2738.9,1030.0 2733.3,1032.2" fill="#E34B33"/>
<polygon points="2744.4,944.4 2748.9,940.0 2755.6,944.4 2753.3,948.9" fill="#E34B33"/>
<polygon points="2723.3,1119.9 2746.7,1119.9 2747.8,1129.9 2744.4,1141.0 2735.6,1143.2 2733.3,1134.3 2724.4,1132.1" fill="#E34B33"/>
<polygon points="2811.1,1152.1 2820.0,1138.8 2831.1,1125.4 2846.7,1119.9 2860.0,1119.9 2864.4,1129.9 2875.6,1134.3 2876.7,1154.3 2860.0,1158.8 2842.2,1162.1 2824.4,1163.2 2815.6,1159.9" fill="#E34B33"/>
<polygon points="2875.6,1129.9 2882.2,1121.0 2886.7,1129.9 2880.0,1136.6" fill="#E34B33"/>
<polygon points="2997.8,1149.9 3006.7,1134.3 3017.8,1141.0 3008.9,1147.7" fill="#E34B33"/>
<polygon points="2722.2,1203.2 2733.3,1196.6 2742.2,1192.1 2745.6,1209.9 2735.6,1214.3 2733.3,1232.1 2727.8,1218.8 2724.4,1214.3" fill="#E34B33"/>
<polygon points="2748.9,1234.3 2768.9,1236.6 2771.1,1227.7 2782.2,1232.1 2797.8,1225.4 2816.7,1222.1 2806.7,1236.6 2802.2,1245.4 2788.9,1241.0 2784.4,1258.8 2773.3,1261.0 2760.0,1267.7 2753.3,1252.1" fill="#E34B33"/>
<polygon points="2906.7,1241.0 2920.0,1233.2 2913.3,1247.7" fill="#E34B33"/>
<polygon points="2968.9,1232.1 2977.8,1229.9 2978.9,1237.7 2971.1,1238.8" fill="#E34B33"/>
<polygon points="2986.7,1209.9 2994.4,1209.9 2992.2,1221.0 2987.8,1219.9" fill="#E34B33"/>
<polygon points="2707.8,1296.6 2713.3,1287.7 2718.9,1289.9 2716.7,1298.8 2712.2,1307.7 2708.9,1303.2" fill="#E34B33"/>
<polygon points="2885.6,1281.0 2897.8,1272.1 2906.7,1278.8 2913.3,1274.3 2920.0,1281.0 2922.2,1289.9 2933.3,1294.3 2940.0,1305.4 2942.2,1316.6 2931.1,1316.6 2920.0,1321.0 2922.2,1332.1 2933.3,1334.3 2926.7,1343.2 2913.3,1343.2 2906.7,1334.3 2913.3,1325.4 2908.9,1312.1 2902.2,1298.8 2893.3,1292.1" fill="#E34B33"/>
<polygon points="2944.4,1309.9 2957.8,1303.2 2964.4,1309.9 2962.2,1316.6 2948.9,1314.3" fill="#E34B33"/>
<polygon points="2926.7,1356.6 2935.6,1345.4 2948.9,1343.2 2955.6,1334.3 2964.4,1343.2 2975.6,1341.0 2980.0,1352.1 2991.1,1354.3 3002.2,1347.7 3008.9,1356.6 3020.0,1361.0 3024.4,1369.9 3037.8,1363.2 3046.7,1372.1 3033.3,1376.6 3024.4,1383.2 3013.3,1376.6 3002.2,1381.0 2993.3,1387.7 2984.4,1376.6 2973.3,1376.6 2962.2,1369.9 2953.3,1374.3 2940.0,1369.9 2933.3,1378.8 2926.7,1367.7" fill="#E34B33"/>
<polygon points="3048.9,1361.0 3055.6,1352.1 3061.1,1365.4 3053.3,1372.1" fill="#E34B33"/>
<polygon points="2923.3,1394.3 2933.3,1389.9 2943.3,1396.6 2935.6,1405.4 2928.9,1416.6 2924.4,1409.9" fill="#E34B33"/>
<polygon points="2900.0,1452.1 2908.9,1445.4 2915.6,1454.3 2911.1,1463.2 2902.2,1461.0" fill="#E34B33"/>
<polygon points="3017.8,1434.3 3022.2,1432.1 3022.2,1442.1 3018.2,1442.1" fill="#E34B33"/>
<polygon points="3125.5,924.0 3140.4,916.6 3135.4,930.0 3128.6,929.6" fill="#E34B33"/>
<polygon points="2251.7,520.0 2260.0,503.3 2266.7,503.3 2265.0,520.0 2273.3,528.3 2261.7,535.0 2255.0,530.0" fill="#63200F"/>
<polygon points="2693.3,951.1 2700.0,937.8 2711.1,934.4 2720.0,938.9 2708.9,948.9 2700.0,958.9" fill="#63200F"/>
<polygon points="2844.4,911.1 2855.6,904.4 2861.1,907.8 2855.6,920.0 2851.1,931.1 2847.8,922.2" fill="#63200F"/>
<polygon points="2751.1,965.6 2757.8,963.3 2766.7,970.0 2774.4,971.1 2773.3,981.1 2766.7,976.7 2757.8,972.2" fill="#63200F"/>
<polygon points="2661.1,1002.2 2668.9,1007.8 2681.1,1008.9 2681.1,1020.0 2668.9,1014.4 2657.8,1011.1" fill="#63200F"/>
<polygon points="2737.8,980.0 2743.3,978.9 2742.2,986.7 2737.3,986.7" fill="#63200F"/>
<polygon points="2908.9,1088.9 2917.8,1082.2 2926.7,1093.3 2927.8,1103.3 2922.2,1104.4 2911.1,1102.2" fill="#63200F"/>
<polygon points="2782.2,1245.4 2786.7,1238.8 2790.0,1238.8 2787.8,1254.3 2783.3,1257.7" fill="#63200F"/>
<polygon points="2896.7,1297.7 2906.7,1292.1 2913.3,1299.9 2904.4,1301.0" fill="#63200F"/>
<polygon points="2834.4,1367.7 2842.2,1362.1 2853.3,1364.3 2870.0,1362.1 2864.4,1374.3 2855.6,1379.9 2846.7,1374.3 2840.0,1369.9" fill="#63200F"/>
<polygon points="2155.0,393.3 2165.0,391.7 2166.7,400.0 2161.7,406.7 2163.3,416.7 2158.3,426.7 2156.7,413.3 2160.0,403.3" fill="#A9C3E0"/>
<polygon points="1213.3,205.0 1223.3,201.7 1231.7,210.0 1230.0,215.0 1218.3,213.3" fill="#A9C3E0"/>
<polygon points="1238.3,221.7 1250.0,218.3 1266.7,230.0 1283.3,246.7 1280.0,251.7 1263.3,246.7 1246.7,240.0 1240.0,230.0" fill="#A9C3E0"/>
<polygon points="1876.7,1328.7 1881.7,1313.7 1890.0,1312.0 1898.3,1328.7 1915.0,1342.0 1898.3,1342.0 1895.0,1350.3 1886.7,1338.7" fill="#A9C3E0"/>
<polygon points="1986.7,1445.3 1991.7,1432.0 1996.7,1448.7 1998.3,1465.3 1993.3,1465.3" fill="#A9C3E0"/>
<polygon points="2156.7,1930.0 2171.7,1923.3 2186.7,1926.7 2185.0,1933.3 2168.3,1938.3" fill="#A9C3E0"/>
<polygon points="2386.7,1836.7 2398.3,1826.7 2400.0,1831.7 2390.0,1841.7" fill="#A9C3E0"/>
<polygon points="2686.7,856.0 2693.3,854.3 2695.0,871.0 2700.0,891.0 2708.3,911.0 2713.3,899.3 2716.7,904.3 2710.0,917.7 2703.3,911.0 2695.0,894.3 2688.3,877.7" fill="#A9C3E0"/>
<polygon points="2963.3,1099.3 2976.7,1102.7 2996.7,1084.3 3026.7,1077.7 3036.7,1061.0 3041.7,1077.7 3026.7,1086.0 3003.3,1094.3 2983.3,1111.0 2970.0,1134.3 2960.0,1152.7 2946.7,1146.0 2956.7,1137.7 2968.3,1117.7" fill="#A9C3E0"/>
<polygon points="2686.7,855.6 2693.3,854.4 2692.2,868.9 2700.0,884.4 2704.4,902.2 2711.1,913.3 2717.8,912.2 2708.9,916.7 2701.1,904.4 2695.6,888.9 2684.4,875.6 2688.9,868.9" fill="#A9C3E0"/>
<polygon points="2964.4,1100.0 2977.8,1093.3 2991.1,1082.2 3008.9,1075.6 3024.4,1071.1 3035.6,1062.2 3037.8,1071.1 3024.4,1080.0 3008.9,1084.4 2993.3,1093.3 2986.7,1106.7 2977.8,1115.6 2971.1,1108.9" fill="#A9C3E0"/>
<polygon points="2951.1,1143.2 2955.6,1129.9 2962.2,1125.4 2967.8,1129.9 2962.2,1136.6 2960.0,1147.7 2955.6,1152.1" fill="#A9C3E0"/>
<polygon points="2711.1,1436.6 2722.2,1432.1 2726.7,1425.4 2728.9,1434.3 2744.4,1435.4 2735.6,1438.8 2717.8,1437.7" fill="#A9C3E0"/>
<polygon points="2755.6,1438.8 2764.4,1434.3 2775.6,1427.7 2771.1,1436.6 2762.2,1442.1" fill="#A9C3E0"/>
<polygon points="2654.4,1458.8 2660.0,1449.9 2671.1,1445.4 2673.3,1434.3 2675.6,1447.7 2681.1,1446.6 2668.9,1454.3 2657.8,1462.1" fill="#A9C3E0"/>
<polygon points="2855.6,1443.2 2862.2,1429.9 2866.7,1441.0 2871.1,1454.3 2875.6,1461.0 2866.7,1465.4 2862.2,1454.3" fill="#A9C3E0"/>
<polygon points="2463.3,516.7 2470.0,503.3 2483.3,505.0 2480.0,515.0 2471.7,523.3" fill="#A9C3E0"/>
<polygon points="2371.7,520.0 2378.3,511.7 2383.3,516.7 2378.3,526.7" fill="#A9C3E0"/>
<polygon points="2370.0,543.3 2381.7,526.7 2386.7,533.3 2378.3,546.7 2371.7,550.0" fill="#A9C3E0"/>
<g fill="none" stroke="#9CA7DA" stroke-width="17.5" stroke-linejoin="round" stroke-linecap="round">
<polygon points="1600.0,376.7 1596.7,358.3 1616.7,346.7 1633.3,330.0 1650.0,320.0 1653.3,300.0 1656.7,276.7 1670.0,266.7 1683.3,258.3 1700.0,266.7 1706.7,250.0 1726.7,248.3 1743.3,246.7 1760.0,236.7 1780.0,226.7 1790.0,213.3 1806.7,205.0 1815.0,201.0 1828.0,208.0 1833.0,221.0 1825.0,231.0 1812.0,234.0 1800.0,236.0 1800.0,236.0 1808.0,255.0 1812.0,272.0 1800.0,290.0 1790.0,305.0 1800.0,320.0 1808.0,337.0 1825.0,338.0 1835.0,322.0 1830.0,300.0 1820.0,285.0 1816.0,272.0 1825.0,262.0 1840.0,258.0 1858.0,250.0 1861.7,243.3 1865.0,230.0 1863.3,221.7 1870.0,215.0 1880.0,216.7 1885.0,225.0 1883.3,235.0 1880.0,241.7 1895.0,241.7 1925.0,243.3 1941.7,260.0 1948.3,278.3 1965.0,281.7 1988.3,278.3 2015.0,276.7 2031.7,278.3 2041.7,290.0 2061.7,296.7 2081.7,296.7 2098.3,290.0 2105.0,280.0 2115.0,283.3 2135.0,275.0 2155.0,273.3 2181.7,272.7 2213.3,270.7 2198.3,281.7 2175.0,288.3 2161.7,296.7 2168.3,303.3 2185.0,301.7 2188.3,306.7 2195.0,316.7 2215.0,313.3 2231.7,320.0 2245.0,333.3 2240.0,350.0 2258.3,363.3 2281.7,370.0 2291.7,375.0 2291.7,375.0 2305.0,383.3 2321.7,396.7 2338.3,413.3 2341.7,426.7 2333.3,433.3 2331.7,443.3 2348.3,428.3 2365.0,440.0 2381.7,453.3 2393.3,463.3 2393.3,463.3 2415.0,465.0 2438.3,471.7 2448.3,465.0 2475.0,463.3 2501.7,466.7 2515.0,470.0 2515.0,470.0 2535.0,475.0 2558.3,483.3 2580.3,496.7 2596.7,516.7 2613.3,538.3 2613.3,538.3 2630.0,546.7 2633.3,570.0 2640.0,593.3 2648.3,613.3 2660.0,626.7 2678.3,636.7 2680.0,653.3 2671.7,666.7 2666.7,680.0 2680.0,691.3 2663.3,701.0 2643.3,711.0 2626.7,724.3 2610.0,741.0 2593.3,754.3 2580.0,759.3 2575.0,762.7 2590.0,768.3 2613.3,771.0 2616.7,791.0 2635.0,801.0 2645.0,782.7 2666.7,776.0 2686.7,772.7 2691.0,800.0 2708.3,776.0 2728.3,756.0 2746.7,737.7 2753.3,727.7 2780.0,727.7 2813.3,737.7 2846.7,747.7 2873.3,757.7 2890.0,774.3 2900.0,791.0 2886.7,804.3 2880.0,824.3 2890.0,834.3 2903.3,811.0 2913.3,797.7 2933.3,794.3 2946.7,797.7 2980.0,807.7 3013.3,816.0 3046.7,814.3 3073.3,816.0 3093.3,824.3 3113.3,837.7 3130.0,851.0 3146.7,867.7 3163.3,881.0 3180.0,891.0 3196.7,899.3 3230.0,902.7 3253.3,906.0 3263.3,924.3 3273.3,951.0 3280.0,981.0 3283.3,997.7 3280.0,1017.7 3276.7,1041.0 3270.0,1057.7 3256.7,1074.3 3240.0,1091.0 3220.0,1111.0 3200.0,1124.3 3186.7,1134.3 3180.0,1157.7 3166.7,1177.7 3153.3,1197.7 3140.0,1214.3 3126.7,1209.3 3118.3,1219.3 3126.7,1227.7 3116.7,1238.7 3118.3,1248.7 3113.3,1265.3 3115.0,1288.7 3118.3,1312.0 3120.0,1332.0 3113.3,1355.3 3108.3,1382.0 3110.0,1405.3 3100.0,1415.3 3090.0,1428.7 3085.0,1448.7 3086.7,1465.3 3085.0,1482.0 3076.7,1490.3 3066.7,1508.7 3056.7,1525.3 3043.3,1538.7 3036.7,1558.7 3036.7,1578.7 3020.0,1588.7 3003.3,1598.7 2995.0,1608.7 2993.3,1618.7 2973.3,1620.3 2953.3,1620.3 2950.0,1608.7 2943.3,1620.3 2926.7,1622.0 2906.7,1625.3 2893.3,1632.0 2873.3,1642.0 2870.0,1655.3 2860.0,1657.0 2846.7,1652.0 2826.7,1658.7 2806.7,1668.7 2786.7,1682.0 2766.7,1698.7 2753.3,1712.0 2736.7,1718.7 2726.7,1722.0 2726.7,1738.7 2730.0,1755.3 2726.7,1773.3 2728.3,1770.0 2733.3,1790.0 2740.0,1800.0 2733.3,1816.7 2728.3,1833.3 2720.0,1843.3 2703.3,1856.7 2686.7,1873.3 2673.3,1890.0 2665.0,1906.7 2656.7,1926.7 2646.7,1940.0 2630.0,1956.7 2613.3,1970.0 2596.7,1983.3 2583.3,1996.7 2573.3,2013.3 2560.0,2030.0 2543.3,2046.7 2538.3,2055.0 2538.3,2055.0 2530.0,2070.0 2513.3,2083.3 2500.0,2090.0 2480.0,2098.3 2475.0,2098.3 2448.3,2091.7 2428.3,2096.7 2408.3,2086.7 2388.3,2080.0 2365.0,2080.0 2365.0,2080.0 2348.3,2070.7 2338.3,2073.3 2341.7,2086.7 2361.7,2093.3 2381.7,2106.7 2395.0,2120.0 2385.0,2133.3 2378.3,2153.3 1770.0,2150.0 1770.0,2125.0 1785.0,2100.0 1795.0,2070.0 1805.0,2050.0 1810.0,2025.0 1817.5,1995.0 1815.0,1970.0 1810.0,1940.0 1810.0,1910.0 1822.5,1890.0 1815.0,1860.0 1825.0,1845.0 1830.0,1820.0 1837.5,1790.0 1848.3,1773.3 1850.0,1758.7 1851.7,1752.0 1850.0,1732.0 1858.3,1712.0 1851.7,1698.7 1855.0,1675.3 1861.7,1648.7 1851.7,1642.0 1851.7,1628.7 1861.7,1618.7 1868.3,1598.7 1870.0,1575.3 1871.7,1548.7 1870.0,1515.3 1865.0,1485.3 1863.3,1458.7 1858.3,1435.3 1858.3,1435.3 1841.7,1423.7 1828.3,1408.7 1815.0,1395.3 1810.0,1387.5 1775.0,1365.0 1730.0,1350.0 1700.0,1335.0 1670.0,1315.0 1640.0,1285.0 1622.5,1257.5 1630.0,1245.0 1623.3,1232.3 1616.7,1221.0 1603.3,1197.7 1590.0,1181.0 1583.3,1164.3 1568.3,1151.0 1560.0,1131.0 1550.0,1111.0 1543.3,1091.0 1533.3,1071.0 1526.7,1051.0 1516.7,1031.0 1503.3,1017.7 1495.0,1001.0 1483.3,984.3 1471.7,967.7 1450.0,957.7 1433.3,949.3 1428.3,939.3 1440.0,936.0 1440.0,924.3 1426.7,911.0 1433.3,904.3 1421.7,891.0 1423.3,874.3 1433.3,861.0 1450.0,844.3 1465.0,839.3 1465.0,839.3 1473.3,831.0 1480.0,817.7 1485.0,801.0 1483.3,786.0 1473.3,801.0 1466.7,814.3 1456.7,806.0 1436.7,791.0 1443.3,784.3 1448.3,767.7 1440.0,751.0 1446.7,737.7 1463.3,727.7 1456.7,714.3 1473.3,704.3 1475.0,691.0 1473.3,670.0 1496.7,660.0 1518.3,650.0 1518.3,650.0 1516.7,640.0 1536.7,631.7 1530.0,623.3 1533.3,606.7 1553.3,596.7 1563.3,583.3 1576.7,573.3 1586.7,560.0 1596.7,546.7 1590.0,540.0 1573.3,533.3 1583.3,520.0 1580.0,500.0 1573.3,480.0 1586.7,466.7 1576.7,453.3 1580.0,436.7 1570.0,426.7 1560.0,411.7 1560.0,411.7 1570.0,400.0 1586.7,390.0 1600.0,376.7"/>
<polygon points="1600.0,376.7 1586.7,390.0 1570.0,400.0 1560.0,411.7 1546.7,396.7 1538.3,380.0 1546.7,370.0 1540.0,363.3 1526.7,353.3 1513.3,341.7 1500.0,343.3 1486.7,350.0 1476.7,363.3 1460.0,370.0 1456.7,376.7 1466.7,383.3 1478.3,400.0 1470.0,406.7 1450.0,413.3 1436.7,410.0 1426.7,401.7 1416.7,400.0 1403.3,413.3 1400.0,403.3 1410.0,396.7 1410.0,383.3 1396.7,373.3 1370.0,371.7 1360.0,380.0 1358.3,368.3 1343.3,363.3 1330.0,356.7 1333.3,350.0 1326.7,336.7 1313.3,326.7 1296.7,320.0 1290.0,310.0 1276.7,303.3 1270.0,316.7 1263.3,310.0 1246.7,303.3 1241.7,290.0 1250.0,276.7 1243.3,266.7 1246.7,255.0 1223.3,236.7 1206.7,216.7 1190.0,200.0 1170.0,185.0 1160.0,174.0 1130.0,171.7 1083.3,161.7 1063.3,158.3 1063.3,146.7 1333.3,146.7 1335.0,183.3 1326.7,193.3 1333.3,206.7 1323.3,223.3 1328.3,238.3 1320.0,250.0 1326.7,265.0 1340.0,283.3 1356.7,303.3 1370.0,316.7 1383.3,330.0 1396.7,340.0 1410.0,346.7 1430.0,350.0 1450.0,343.3 1470.0,333.3 1483.3,323.3 1493.3,318.3 1516.7,321.7 1536.7,325.0 1556.7,333.3 1573.3,346.7 1583.3,356.7 1596.7,370.0"/>
<polygon points="2216.7,272.7 2238.3,268.3 2237.7,283.3 2235.7,295.7 2218.3,296.7 2220.0,283.3"/>
<polygon points="1010.2,701.6 1021.7,695.9 1027.0,701.6 1031.2,713.1 1035.4,720.5 1042.7,728.8 1041.1,738.3 1033.3,743.0 1022.8,743.5 1014.9,738.3 1018.6,730.9 1027.0,726.8 1022.8,720.5 1012.3,721.5 1008.1,715.2 1011.3,710.0 1018.6,707.9 1016.5,703.7"/>
<polygon points="1040.6,711.1 1046.9,707.4 1052.1,711.1 1054.2,716.3 1049.0,717.9 1042.7,716.3"/>
<polygon points="1053.1,726.8 1058.4,721.5 1064.7,721.0 1068.8,725.7 1064.7,732.0 1058.4,733.0 1054.2,730.9"/>
<polygon points="1089.8,738.3 1096.1,733.0 1104.4,728.8 1106.5,730.9 1101.3,737.2 1094.0,741.4"/>
<polygon points="1054.7,752.4 1057.9,750.3 1061.0,752.9 1059.4,756.1 1055.8,755.5"/>
<polyline points="1518.3,650.0 1530.0,653.3 1550.0,665.0 1570.0,673.3 1590.0,683.3 1610.0,691.0 1623.3,697.7 1636.7,694.3 1650.0,701.0 1656.7,707.7"/>
<polyline points="1656.7,707.7 1663.3,724.3 1660.0,741.0 1653.3,761.0 1640.0,784.3 1616.7,802.7 1590.0,812.7 1560.0,822.7 1543.3,841.0 1533.3,861.0 1530.0,881.0 1520.0,889.3 1516.7,901.0 1503.3,899.3 1496.7,887.7 1486.7,879.3 1470.0,872.7 1460.0,876.0 1455.0,864.3 1466.7,854.3 1465.0,839.3"/>
<polyline points="1656.7,707.7 1673.3,707.7 1686.7,714.3 1700.0,724.3 1706.7,741.0 1723.3,754.3 1740.0,767.7 1750.0,777.7 1753.3,794.3 1766.7,801.0 1786.7,797.7 1803.3,791.0 1815.3,789.3 1828.3,792.7 1841.7,787.7 1855.0,797.7 1865.0,801.0 1871.7,809.3 1858.3,831.0 1845.0,851.0 1858.3,856.0 1868.3,864.3 1876.7,872.7"/>
<polyline points="1876.7,872.7 1881.7,851.0 1888.3,817.7 1895.0,784.3 1900.0,754.3 1895.0,734.3 1888.3,721.0 1875.0,711.0 1873.3,691.0 1868.3,683.3 1881.7,678.3 1908.3,673.3 1905.0,661.7 1881.7,656.7 1881.7,633.3 1915.0,633.3 1948.3,631.7 1961.7,623.3 1981.7,613.3"/>
<polyline points="1981.7,613.3 1971.7,596.7 1961.7,583.3 1978.3,566.7 1971.7,546.7 1965.0,516.7 1961.7,490.0 1971.7,476.7 1978.3,460.0 1965.0,450.0 1941.7,453.3 1915.0,455.0 1898.3,450.0 1881.7,433.3 1871.7,420.0 1848.3,416.7 1825.0,420.0 1815.0,421.7 1790.0,410.0 1777.5,390.0 1777.5,365.0 1765.0,345.0 1745.0,327.5 1755.0,300.0 1765.0,270.0 1780.0,250.0 1800.0,236.0"/>
<polyline points="1981.7,613.3 1991.7,626.7 1998.3,646.7 2011.7,663.3 2028.3,673.3 2045.0,665.0 2055.0,673.3 2061.7,663.3 2081.7,650.0 2105.0,636.7 2115.0,623.3 2135.0,616.7 2141.7,605.0 2115.0,600.0 2111.7,580.0 2108.3,556.7 2098.3,546.7 2085.0,531.7 2098.3,536.7 2115.0,540.0 2138.3,543.3 2151.7,553.3 2161.7,556.7 2165.0,543.3 2181.7,536.7 2205.0,530.0 2225.0,520.0 2245.0,513.3 2255.0,503.3"/>
<polyline points="2255.0,503.3 2251.7,505.0 2248.3,493.3 2235.0,480.0 2218.3,463.3 2225.0,450.0 2228.3,433.3 2255.0,426.7 2265.0,416.7 2251.7,413.3 2245.0,396.7 2261.7,383.3 2291.7,375.0"/>
<polyline points="2255.0,503.3 2265.0,493.3 2275.0,500.0 2271.7,516.7 2288.3,523.3 2295.0,543.3 2281.7,560.0 2278.3,583.3 2281.7,610.0 2291.7,630.0 2308.3,643.3 2325.0,653.3 2341.7,643.3 2361.7,635.0 2381.7,623.3 2405.0,623.3"/>
<polyline points="2405.0,623.3 2401.7,616.7 2388.3,590.0 2381.7,566.7 2365.0,556.7 2351.7,536.7 2361.7,510.0 2381.7,500.0 2388.3,483.3 2393.3,463.3"/>
<polyline points="2405.0,623.3 2418.3,626.7 2431.7,626.7 2435.0,606.7 2455.0,603.3 2475.0,601.7 2495.0,611.7"/>
<polyline points="2495.0,611.7 2498.3,610.0 2508.3,593.3 2515.0,570.0 2511.7,550.0 2498.3,526.7 2498.3,503.3 2508.3,486.7 2515.0,470.0"/>
<polyline points="2495.0,611.7 2515.0,613.3 2531.7,606.7 2548.3,611.7 2565.0,613.3 2580.3,596.7 2580.0,580.0 2586.7,570.0 2600.0,556.7 2613.3,538.3"/>
<polyline points="1876.7,872.7 1858.3,867.7 1841.7,874.3 1828.3,877.7 1815.0,881.0 1796.7,887.7 1776.7,897.7 1760.0,904.3 1756.7,924.3 1746.7,944.3 1750.0,957.7 1736.7,967.7 1726.7,981.0 1723.3,994.3 1711.7,1002.7 1720.0,1011.0 1726.7,1027.7 1736.7,1041.0 1750.0,1054.3 1760.0,1061.0 1748.3,1077.7 1766.7,1079.3 1783.3,1084.3 1790.0,1101.0 1815.3,1102.7 1831.7,1094.3 1851.7,1079.3 1851.7,1111.0 1851.7,1137.7 1865.0,1141.0 1885.0,1137.7 1893.3,1139.3"/>
<polyline points="1893.3,1139.3 1905.0,1164.3 1918.3,1184.3 1926.7,1201.0 1918.3,1214.3 1915.0,1232.3 1918.3,1252.0 1920.0,1265.3 1901.7,1278.7 1898.3,1295.3 1908.3,1312.0 1901.7,1328.7 1906.7,1345.3 1921.7,1355.3 1911.7,1365.3 1898.3,1378.7 1888.3,1395.3 1895.0,1402.0 1886.7,1402.0"/>
<polyline points="1886.7,1402.0 1878.3,1408.7 1880.0,1422.0 1871.7,1432.0 1858.3,1435.3"/>
<polyline points="1893.3,1139.3 1911.7,1142.7 1928.3,1146.0 1945.0,1137.7 1951.7,1127.7 1965.0,1127.7 1981.7,1117.7 2001.7,1104.3 2018.3,1096.0 2041.7,1092.7 2058.3,1091.0 2063.3,1104.3 2058.3,1121.0 2061.7,1137.7 2060.0,1154.3 2068.3,1171.0 2081.7,1184.3 2095.0,1194.3 2115.0,1201.0 2128.3,1201.0 2148.3,1207.7 2161.7,1221.0 2181.7,1226.0 2195.0,1232.3 2208.3,1242.0 2235.0,1240.3 2258.3,1252.0 2258.3,1275.3 2265.0,1292.0 2251.7,1308.7 2265.0,1322.0 2270.0,1350.3 2315.0,1352.0 2340.0,1353.7 2336.7,1375.3 2341.7,1388.7 2361.7,1398.7 2368.3,1425.3 2368.3,1458.7 2358.3,1482.0 2351.7,1495.3"/>
<polyline points="2351.7,1495.3 2328.3,1482.0 2305.0,1473.7 2278.3,1472.0 2255.0,1478.7 2231.7,1483.7 2208.3,1488.7 2201.7,1498.7 2188.3,1518.7 2185.0,1532.0 2178.3,1562.0 2170.0,1585.3"/>
<polyline points="2170.0,1585.3 2141.7,1582.0 2116.7,1582.0 2108.3,1598.7 2101.7,1618.7 2091.7,1585.3 2071.7,1583.7 2045.0,1585.3 2026.7,1572.0 2028.3,1585.3 2015.0,1590.3 2000.0,1598.7 1993.3,1617.0"/>
<polyline points="1886.7,1402.0 1901.7,1412.0 1908.3,1432.0 1918.3,1462.0 1936.7,1478.7 1925.0,1495.3 1928.3,1515.3 1938.3,1532.0 1948.3,1552.0 1955.0,1578.7 1961.7,1598.7 1965.0,1617.0 1981.7,1618.7 1993.3,1617.0"/>
<polyline points="1993.3,1617.0 1988.3,1638.7 1981.7,1658.7 1958.3,1668.7 1938.3,1678.7 1931.7,1695.3 1930.0,1713.3 1936.7,1733.3 1931.7,1756.7 1945.0,1778.3 1925.0,1786.7 1911.7,1810.0 1888.3,1833.3 1883.3,1856.7 1871.7,1873.3 1880.0,1900.0 1876.7,1913.3 1858.3,1930.0 1850.0,1956.7 1858.3,1976.7 1865.0,1993.3 1871.7,2020.0 1881.7,2033.3 1878.3,2060.0 1868.3,2080.0 1856.7,2106.7 1861.7,2133.3 1861.7,2153.3"/>
<polyline points="2170.0,1585.3 2181.7,1598.7 2198.3,1622.0 2218.3,1638.7 2238.3,1655.3 2268.3,1662.0 2295.0,1678.7 2321.7,1693.7 2351.7,1702.0 2375.0,1718.7 2365.0,1738.7 2351.7,1755.3 2350.0,1753.3 2345.0,1770.0 2330.0,1788.3 2355.0,1791.7 2381.7,1796.7 2408.3,1801.7 2425.0,1798.3 2441.7,1796.7 2453.3,1790.0 2456.7,1780.0 2478.3,1766.7 2488.3,1746.7 2491.7,1723.3 2496.7,1718.3"/>
<polyline points="2351.7,1495.3 2358.3,1515.3 2361.7,1538.7 2358.3,1565.3 2358.3,1582.0 2381.7,1588.7 2405.0,1590.3 2418.3,1580.3 2438.3,1592.0 2450.0,1605.3 2453.3,1632.0 2461.7,1658.7 2481.7,1662.0 2501.7,1655.3 2506.7,1678.7 2501.7,1698.7 2495.0,1715.3 2496.7,1718.3"/>
<polyline points="2496.7,1718.3 2511.7,1723.3 2525.0,1733.3 2530.0,1753.3 2526.7,1776.7 2515.0,1790.0 2495.0,1796.7 2478.3,1806.7 2461.7,1820.0 2445.0,1836.7 2428.3,1856.7 2411.7,1876.7 2395.0,1893.3 2378.3,1906.7 2375.0,1910.0"/>
<polyline points="2375.0,1910.0 2361.7,1926.7 2360.0,1950.0 2348.3,1970.0 2351.7,2000.0 2345.0,2020.0 2338.3,2036.7 2338.3,2056.7 2348.3,2070.7 2365.0,2080.0"/>
<polyline points="2375.0,1910.0 2398.3,1905.0 2415.0,1916.7 2431.7,1933.3 2438.3,1940.0 2451.7,1936.7 2465.0,1950.0 2485.0,1956.7 2505.0,1970.0 2521.7,1983.3 2538.3,2000.0 2551.7,2011.7 2538.3,2023.3 2535.0,2036.7 2540.0,2046.7 2538.3,2055.0"/>
<polyline points="1246.7,255.0 1263.3,258.3 1280.0,263.3 1290.0,258.3 1303.3,265.0 1316.7,271.7 1326.7,266.7"/>
<polyline points="1363.3,316.7 1358.3,330.0 1365.0,343.3 1360.0,356.7 1361.7,370.0 1358.3,368.3"/>
<polyline points="1168.3,183.3 1183.3,181.7 1196.7,178.3 1206.7,166.7 1210.0,153.3"/>
<polyline points="2623.3,1903.3 2626.7,1916.7 2636.7,1913.3 2650.0,1910.0 2653.3,1920.0 2643.3,1933.3 2630.0,1943.3 2620.0,1956.7 2603.3,1966.7 2590.0,1975.0 2586.7,1981.7"/>
</g>
<polygon points="2671.7,638.8 2688.8,638.8 2686.3,654.6 2682.7,674.1 2692.4,681.5 2704.6,692.4 2722.9,699.8 2741.2,704.6 2747.3,718.0 2771.7,719.3 2820.0,725.4 2820.0,749.8 2771.7,741.2 2753.4,746.1 2749.8,762.0 2740.0,771.7 2722.9,774.1 2710.7,783.9 2708.3,804.6 2702.2,809.5 2686.3,804.6 2686.3,786.3 2668.0,786.3 2655.9,788.8 2649.8,802.2 2641.2,810.7 2625.4,804.6 2608.3,790.0 2607.1,774.1 2588.8,777.8 2568.0,774.1 2558.3,764.4 2570.5,755.9 2594.9,741.2 2608.3,719.3 2625.4,701.0 2637.6,688.8 2655.9,670.5 2665.6,652.2" fill="#9CA7DA"/>
<polygon points="2655.9,718.0 2668.0,715.6 2686.3,720.5 2704.6,715.6 2727.8,719.3 2725.4,727.8 2720.5,743.7 2714.4,754.6 2698.5,759.5 2680.2,760.7 2662.0,763.2 2652.2,755.9 2657.1,747.3 2654.6,735.1" fill="url(#hatch)"/>
<polygon points="2694.3,736.3 2697.3,729.0 2704.6,732.7 2712.0,738.8 2718.0,746.1 2715.6,753.4 2710.7,749.8 2708.3,743.7 2701.0,737.6" fill="#FCC030"/>
<g fill="none" stroke="#000" stroke-width="3.7" stroke-linecap="round" stroke-linejoin="round">
<polyline points="2680.2,642.4 2679.0,649.8 2669.3,652.2"/>
<polyline points="2663.2,669.3 2666.8,672.9"/>
<polyline points="2663.2,692.4 2669.3,688.8 2672.9,690.0"/>
<polyline points="2680.2,688.8 2688.8,688.8"/>
<polyline points="2637.6,702.2 2643.7,698.5 2648.5,701.0"/>
<polyline points="2655.9,697.3 2657.1,703.4"/>
<polyline points="2681.5,705.9 2686.3,701.0 2693.7,699.8 2701.0,703.4 2698.5,707.1 2690.0,708.3"/>
<polyline points="2708.3,706.5 2720.5,708.9"/>
<polyline points="2725.4,709.8 2741.2,713.2 2740.0,718.0"/>
<polyline points="2737.6,722.9 2735.1,732.7"/>
<polyline points="2733.9,737.6 2732.7,741.2"/>
<polyline points="2729.0,746.1 2725.4,749.8"/>
<polyline points="2633.9,712.0 2641.2,714.4"/>
<polyline points="2618.0,721.7 2624.1,719.3"/>
<polyline points="2637.6,735.1 2642.4,731.5"/>
<polyline points="2608.3,737.6 2612.0,730.2"/>
<polyline points="2605.9,747.3 2610.7,744.9"/>
<polyline points="2629.0,741.2 2632.7,744.9"/>
<polyline points="2598.5,749.8 2601.0,747.3"/>
<polyline points="2576.6,760.7 2582.7,757.1 2587.6,758.3 2581.5,762.0 2576.6,760.7"/>
<polyline points="2565.6,764.4 2569.3,766.8"/>
<polyline points="2593.7,763.2 2597.3,762.0"/>
<polyline points="2605.9,758.3 2613.2,753.4"/>
<polyline points="2646.1,743.7 2643.7,749.8 2642.4,757.1 2644.9,763.2"/>
<polyline points="2647.3,766.8 2654.6,774.1 2662.0,774.1"/>
<polyline points="2666.8,772.3 2677.8,772.9"/>
<polyline points="2681.5,773.5 2690.0,769.3 2697.3,766.8 2703.4,766.8"/>
<polyline points="2620.5,768.0 2615.6,776.6"/>
<polyline points="2613.8,781.5 2615.6,791.2 2620.5,796.1"/>
<polyline points="2629.0,775.4 2633.9,779.0 2641.2,781.5"/>
<polyline points="2643.7,790.0 2647.3,787.6"/>
<polyline points="2632.7,791.2 2636.3,798.5 2642.4,802.2"/>
<polyline points="2701.0,781.5 2698.5,790.0"/>
<polyline points="2697.3,794.9 2694.9,803.4"/>
<polyline points="2703.4,785.1 2702.2,792.4"/>
<polyline points="2710.7,772.9 2714.4,771.7 2715.6,775.4 2712.0,776.6 2710.7,772.9"/>
<polyline points="2738.8,746.1 2741.2,745.5 2741.8,748.5 2739.4,749.1"/>
<polyline points="2687.6,808.9 2692.4,805.9 2693.7,808.3 2688.8,810.1 2687.6,808.9"/>
</g>
<g fill="none" stroke="#000" stroke-width="3.7" stroke-linejoin="round" stroke-dasharray="17.4 3.9 6.7 3.7">
<polygon points="1600.0,376.7 1596.7,358.3 1616.7,346.7 1633.3,330.0 1650.0,320.0 1653.3,300.0 1656.7,276.7 1670.0,266.7 1683.3,258.3 1700.0,266.7 1706.7,250.0 1726.7,248.3 1743.3,246.7 1760.0,236.7 1780.0,226.7 1790.0,213.3 1806.7,205.0 1815.0,201.0 1828.0,208.0 1833.0,221.0 1825.0,231.0 1812.0,234.0 1800.0,236.0 1800.0,236.0 1808.0,255.0 1812.0,272.0 1800.0,290.0 1790.0,305.0 1800.0,320.0 1808.0,337.0 1825.0,338.0 1835.0,322.0 1830.0,300.0 1820.0,285.0 1816.0,272.0 1825.0,262.0 1840.0,258.0 1858.0,250.0 1861.7,243.3 1865.0,230.0 1863.3,221.7 1870.0,215.0 1880.0,216.7 1885.0,225.0 1883.3,235.0 1880.0,241.7 1895.0,241.7 1925.0,243.3 1941.7,260.0 1948.3,278.3 1965.0,281.7 1988.3,278.3 2015.0,276.7 2031.7,278.3 2041.7,290.0 2061.7,296.7 2081.7,296.7 2098.3,290.0 2105.0,280.0 2115.0,283.3 2135.0,275.0 2155.0,273.3 2181.7,272.7 2213.3,270.7 2198.3,281.7 2175.0,288.3 2161.7,296.7 2168.3,303.3 2185.0,301.7 2188.3,306.7 2195.0,316.7 2215.0,313.3 2231.7,320.0 2245.0,333.3 2240.0,350.0 2258.3,363.3 2281.7,370.0 2291.7,375.0 2291.7,375.0 2305.0,383.3 2321.7,396.7 2338.3,413.3 2341.7,426.7 2333.3,433.3 2331.7,443.3 2348.3,428.3 2365.0,440.0 2381.7,453.3 2393.3,463.3 2393.3,463.3 2415.0,465.0 2438.3,471.7 2448.3,465.0 2475.0,463.3 2501.7,466.7 2515.0,470.0 2515.0,470.0 2535.0,475.0 2558.3,483.3 2580.3,496.7 2596.7,516.7 2613.3,538.3 2613.3,538.3 2630.0,546.7 2633.3,570.0 2640.0,593.3 2648.3,613.3 2660.0,626.7 2678.3,636.7 2680.0,653.3 2671.7,666.7 2666.7,680.0 2680.0,691.3 2663.3,701.0 2643.3,711.0 2626.7,724.3 2610.0,741.0 2593.3,754.3 2580.0,759.3 2575.0,762.7 2590.0,768.3 2613.3,771.0 2616.7,791.0 2635.0,801.0 2645.0,782.7 2666.7,776.0 2686.7,772.7 2691.0,800.0 2708.3,776.0 2728.3,756.0 2746.7,737.7 2753.3,727.7 2780.0,727.7 2813.3,737.7 2846.7,747.7 2873.3,757.7 2890.0,774.3 2900.0,791.0 2886.7,804.3 2880.0,824.3 2890.0,834.3 2903.3,811.0 2913.3,797.7 2933.3,794.3 2946.7,797.7 2980.0,807.7 3013.3,816.0 3046.7,814.3 3073.3,816.0 3093.3,824.3 3113.3,837.7 3130.0,851.0 3146.7,867.7 3163.3,881.0 3180.0,891.0 3196.7,899.3 3230.0,902.7 3253.3,906.0 3263.3,924.3 3273.3,951.0 3280.0,981.0 3283.3,997.7 3280.0,1017.7 3276.7,1041.0 3270.0,1057.7 3256.7,1074.3 3240.0,1091.0 3220.0,1111.0 3200.0,1124.3 3186.7,1134.3 3180.0,1157.7 3166.7,1177.7 3153.3,1197.7 3140.0,1214.3 3126.7,1209.3 3118.3,1219.3 3126.7,1227.7 3116.7,1238.7 3118.3,1248.7 3113.3,1265.3 3115.0,1288.7 3118.3,1312.0 3120.0,1332.0 3113.3,1355.3 3108.3,1382.0 3110.0,1405.3 3100.0,1415.3 3090.0,1428.7 3085.0,1448.7 3086.7,1465.3 3085.0,1482.0 3076.7,1490.3 3066.7,1508.7 3056.7,1525.3 3043.3,1538.7 3036.7,1558.7 3036.7,1578.7 3020.0,1588.7 3003.3,1598.7 2995.0,1608.7 2993.3,1618.7 2973.3,1620.3 2953.3,1620.3 2950.0,1608.7 2943.3,1620.3 2926.7,1622.0 2906.7,1625.3 2893.3,1632.0 2873.3,1642.0 2870.0,1655.3 2860.0,1657.0 2846.7,1652.0 2826.7,1658.7 2806.7,1668.7 2786.7,1682.0 2766.7,1698.7 2753.3,1712.0 2736.7,1718.7 2726.7,1722.0 2726.7,1738.7 2730.0,1755.3 2726.7,1773.3 2728.3,1770.0 2733.3,1790.0 2740.0,1800.0 2733.3,1816.7 2728.3,1833.3 2720.0,1843.3 2703.3,1856.7 2686.7,1873.3 2673.3,1890.0 2665.0,1906.7 2656.7,1926.7 2646.7,1940.0 2630.0,1956.7 2613.3,1970.0 2596.7,1983.3 2583.3,1996.7 2573.3,2013.3 2560.0,2030.0 2543.3,2046.7 2538.3,2055.0 2538.3,2055.0 2530.0,2070.0 2513.3,2083.3 2500.0,2090.0 2480.0,2098.3 2475.0,2098.3 2448.3,2091.7 2428.3,2096.7 2408.3,2086.7 2388.3,2080.0 2365.0,2080.0 2365.0,2080.0 2348.3,2070.7 2338.3,2073.3 2341.7,2086.7 2361.7,2093.3 2381.7,2106.7 2395.0,2120.0 2385.0,2133.3 2378.3,2153.3 1770.0,2150.0 1770.0,2125.0 1785.0,2100.0 1795.0,2070.0 1805.0,2050.0 1810.0,2025.0 1817.5,1995.0 1815.0,1970.0 1810.0,1940.0 1810.0,1910.0 1822.5,1890.0 1815.0,1860.0 1825.0,1845.0 1830.0,1820.0 1837.5,1790.0 1848.3,1773.3 1850.0,1758.7 1851.7,1752.0 1850.0,1732.0 1858.3,1712.0 1851.7,1698.7 1855.0,1675.3 1861.7,1648.7 1851.7,1642.0 1851.7,1628.7 1861.7,1618.7 1868.3,1598.7 1870.0,1575.3 1871.7,1548.7 1870.0,1515.3 1865.0,1485.3 1863.3,1458.7 1858.3,1435.3 1858.3,1435.3 1841.7,1423.7 1828.3,1408.7 1815.0,1395.3 1810.0,1387.5 1775.0,1365.0 1730.0,1350.0 1700.0,1335.0 1670.0,1315.0 1640.0,1285.0 1622.5,1257.5 1630.0,1245.0 1623.3,1232.3 1616.7,1221.0 1603.3,1197.7 1590.0,1181.0 1583.3,1164.3 1568.3,1151.0 1560.0,1131.0 1550.0,1111.0 1543.3,1091.0 1533.3,1071.0 1526.7,1051.0 1516.7,1031.0 1503.3,1017.7 1495.0,1001.0 1483.3,984.3 1471.7,967.7 1450.0,957.7 1433.3,949.3 1428.3,939.3 1440.0,936.0 1440.0,924.3 1426.7,911.0 1433.3,904.3 1421.7,891.0 1423.3,874.3 1433.3,861.0 1450.0,844.3 1465.0,839.3 1465.0,839.3 1473.3,831.0 1480.0,817.7 1485.0,801.0 1483.3,786.0 1473.3,801.0 1466.7,814.3 1456.7,806.0 1436.7,791.0 1443.3,784.3 1448.3,767.7 1440.0,751.0 1446.7,737.7 1463.3,727.7 1456.7,714.3 1473.3,704.3 1475.0,691.0 1473.3,670.0 1496.7,660.0 1518.3,650.0 1518.3,650.0 1516.7,640.0 1536.7,631.7 1530.0,623.3 1533.3,606.7 1553.3,596.7 1563.3,583.3 1576.7,573.3 1586.7,560.0 1596.7,546.7 1590.0,540.0 1573.3,533.3 1583.3,520.0 1580.0,500.0 1573.3,480.0 1586.7,466.7 1576.7,453.3 1580.0,436.7 1570.0,426.7 1560.0,411.7 1560.0,411.7 1570.0,400.0 1586.7,390.0 1600.0,376.7"/>
<polygon points="1600.0,376.7 1586.7,390.0 1570.0,400.0 1560.0,411.7 1546.7,396.7 1538.3,380.0 1546.7,370.0 1540.0,363.3 1526.7,353.3 1513.3,341.7 1500.0,343.3 1486.7,350.0 1476.7,363.3 1460.0,370.0 1456.7,376.7 1466.7,383.3 1478.3,400.0 1470.0,406.7 1450.0,413.3 1436.7,410.0 1426.7,401.7 1416.7,400.0 1403.3,413.3 1400.0,403.3 1410.0,396.7 1410.0,383.3 1396.7,373.3 1370.0,371.7 1360.0,380.0 1358.3,368.3 1343.3,363.3 1330.0,356.7 1333.3,350.0 1326.7,336.7 1313.3,326.7 1296.7,320.0 1290.0,310.0 1276.7,303.3 1270.0,316.7 1263.3,310.0 1246.7,303.3 1241.7,290.0 1250.0,276.7 1243.3,266.7 1246.7,255.0 1223.3,236.7 1206.7,216.7 1190.0,200.0 1170.0,185.0 1160.0,174.0 1130.0,171.7 1083.3,161.7 1063.3,158.3 1063.3,146.7 1333.3,146.7 1335.0,183.3 1326.7,193.3 1333.3,206.7 1323.3,223.3 1328.3,238.3 1320.0,250.0 1326.7,265.0 1340.0,283.3 1356.7,303.3 1370.0,316.7 1383.3,330.0 1396.7,340.0 1410.0,346.7 1430.0,350.0 1450.0,343.3 1470.0,333.3 1483.3,323.3 1493.3,318.3 1516.7,321.7 1536.7,325.0 1556.7,333.3 1573.3,346.7 1583.3,356.7 1596.7,370.0"/>
<polygon points="2216.7,272.7 2238.3,268.3 2237.7,283.3 2235.7,295.7 2218.3,296.7 2220.0,283.3"/>
<polygon points="1010.2,701.6 1021.7,695.9 1027.0,701.6 1031.2,713.1 1035.4,720.5 1042.7,728.8 1041.1,738.3 1033.3,743.0 1022.8,743.5 1014.9,738.3 1018.6,730.9 1027.0,726.8 1022.8,720.5 1012.3,721.5 1008.1,715.2 1011.3,710.0 1018.6,707.9 1016.5,703.7"/>
<polygon points="1040.6,711.1 1046.9,707.4 1052.1,711.1 1054.2,716.3 1049.0,717.9 1042.7,716.3"/>
<polygon points="1053.1,726.8 1058.4,721.5 1064.7,721.0 1068.8,725.7 1064.7,732.0 1058.4,733.0 1054.2,730.9"/>
<polygon points="1089.8,738.3 1096.1,733.0 1104.4,728.8 1106.5,730.9 1101.3,737.2 1094.0,741.4"/>
<polygon points="1054.7,752.4 1057.9,750.3 1061.0,752.9 1059.4,756.1 1055.8,755.5"/>
<polyline points="1518.3,650.0 1530.0,653.3 1550.0,665.0 1570.0,673.3 1590.0,683.3 1610.0,691.0 1623.3,697.7 1636.7,694.3 1650.0,701.0 1656.7,707.7"/>
<polyline points="1656.7,707.7 1663.3,724.3 1660.0,741.0 1653.3,761.0 1640.0,784.3 1616.7,802.7 1590.0,812.7 1560.0,822.7 1543.3,841.0 1533.3,861.0 1530.0,881.0 1520.0,889.3 1516.7,901.0 1503.3,899.3 1496.7,887.7 1486.7,879.3 1470.0,872.7 1460.0,876.0 1455.0,864.3 1466.7,854.3 1465.0,839.3"/>
<polyline points="1656.7,707.7 1673.3,707.7 1686.7,714.3 1700.0,724.3 1706.7,741.0 1723.3,754.3 1740.0,767.7 1750.0,777.7 1753.3,794.3 1766.7,801.0 1786.7,797.7 1803.3,791.0 1815.3,789.3 1828.3,792.7 1841.7,787.7 1855.0,797.7 1865.0,801.0 1871.7,809.3 1858.3,831.0 1845.0,851.0 1858.3,856.0 1868.3,864.3 1876.7,872.7"/>
<polyline points="1876.7,872.7 1881.7,851.0 1888.3,817.7 1895.0,784.3 1900.0,754.3 1895.0,734.3 1888.3,721.0 1875.0,711.0 1873.3,691.0 1868.3,683.3 1881.7,678.3 1908.3,673.3 1905.0,661.7 1881.7,656.7 1881.7,633.3 1915.0,633.3 1948.3,631.7 1961.7,623.3 1981.7,613.3"/>
<polyline points="1981.7,613.3 1971.7,596.7 1961.7,583.3 1978.3,566.7 1971.7,546.7 1965.0,516.7 1961.7,490.0 1971.7,476.7 1978.3,460.0 1965.0,450.0 1941.7,453.3 1915.0,455.0 1898.3,450.0 1881.7,433.3 1871.7,420.0 1848.3,416.7 1825.0,420.0 1815.0,421.7 1790.0,410.0 1777.5,390.0 1777.5,365.0 1765.0,345.0 1745.0,327.5 1755.0,300.0 1765.0,270.0 1780.0,250.0 1800.0,236.0"/>
<polyline points="1981.7,613.3 1991.7,626.7 1998.3,646.7 2011.7,663.3 2028.3,673.3 2045.0,665.0 2055.0,673.3 2061.7,663.3 2081.7,650.0 2105.0,636.7 2115.0,623.3 2135.0,616.7 2141.7,605.0 2115.0,600.0 2111.7,580.0 2108.3,556.7 2098.3,546.7 2085.0,531.7 2098.3,536.7 2115.0,540.0 2138.3,543.3 2151.7,553.3 2161.7,556.7 2165.0,543.3 2181.7,536.7 2205.0,530.0 2225.0,520.0 2245.0,513.3 2255.0,503.3"/>
<polyline points="2255.0,503.3 2251.7,505.0 2248.3,493.3 2235.0,480.0 2218.3,463.3 2225.0,450.0 2228.3,433.3 2255.0,426.7 2265.0,416.7 2251.7,413.3 2245.0,396.7 2261.7,383.3 2291.7,375.0"/>
<polyline points="2255.0,503.3 2265.0,493.3 2275.0,500.0 2271.7,516.7 2288.3,523.3 2295.0,543.3 2281.7,560.0 2278.3,583.3 2281.7,610.0 2291.7,630.0 2308.3,643.3 2325.0,653.3 2341.7,643.3 2361.7,635.0 2381.7,623.3 2405.0,623.3"/>
<polyline points="2405.0,623.3 2401.7,616.7 2388.3,590.0 2381.7,566.7 2365.0,556.7 2351.7,536.7 2361.7,510.0 2381.7,500.0 2388.3,483.3 2393.3,463.3"/>
<polyline points="2405.0,623.3 2418.3,626.7 2431.7,626.7 2435.0,606.7 2455.0,603.3 2475.0,601.7 2495.0,611.7"/>
<polyline points="2495.0,611.7 2498.3,610.0 2508.3,593.3 2515.0,570.0 2511.7,550.0 2498.3,526.7 2498.3,503.3 2508.3,486.7 2515.0,470.0"/>
<polyline points="2495.0,611.7 2515.0,613.3 2531.7,606.7 2548.3,611.7 2565.0,613.3 2580.3,596.7 2580.0,580.0 2586.7,570.0 2600.0,556.7 2613.3,538.3"/>
<polyline points="1876.7,872.7 1858.3,867.7 1841.7,874.3 1828.3,877.7 1815.0,881.0 1796.7,887.7 1776.7,897.7 1760.0,904.3 1756.7,924.3 1746.7,944.3 1750.0,957.7 1736.7,967.7 1726.7,981.0 1723.3,994.3 1711.7,1002.7 1720.0,1011.0 1726.7,1027.7 1736.7,1041.0 1750.0,1054.3 1760.0,1061.0 1748.3,1077.7 1766.7,1079.3 1783.3,1084.3 1790.0,1101.0 1815.3,1102.7 1831.7,1094.3 1851.7,1079.3 1851.7,1111.0 1851.7,1137.7 1865.0,1141.0 1885.0,1137.7 1893.3,1139.3"/>
<polyline points="1893.3,1139.3 1905.0,1164.3 1918.3,1184.3 1926.7,1201.0 1918.3,1214.3 1915.0,1232.3 1918.3,1252.0 1920.0,1265.3 1901.7,1278.7 1898.3,1295.3 1908.3,1312.0 1901.7,1328.7 1906.7,1345.3 1921.7,1355.3 1911.7,1365.3 1898.3,1378.7 1888.3,1395.3 1895.0,1402.0 1886.7,1402.0"/>
<polyline points="1886.7,1402.0 1878.3,1408.7 1880.0,1422.0 1871.7,1432.0 1858.3,1435.3"/>
<polyline points="1893.3,1139.3 1911.7,1142.7 1928.3,1146.0 1945.0,1137.7 1951.7,1127.7 1965.0,1127.7 1981.7,1117.7 2001.7,1104.3 2018.3,1096.0 2041.7,1092.7 2058.3,1091.0 2063.3,1104.3 2058.3,1121.0 2061.7,1137.7 2060.0,1154.3 2068.3,1171.0 2081.7,1184.3 2095.0,1194.3 2115.0,1201.0 2128.3,1201.0 2148.3,1207.7 2161.7,1221.0 2181.7,1226.0 2195.0,1232.3 2208.3,1242.0 2235.0,1240.3 2258.3,1252.0 2258.3,1275.3 2265.0,1292.0 2251.7,1308.7 2265.0,1322.0 2270.0,1350.3 2315.0,1352.0 2340.0,1353.7 2336.7,1375.3 2341.7,1388.7 2361.7,1398.7 2368.3,1425.3 2368.3,1458.7 2358.3,1482.0 2351.7,1495.3"/>
<polyline points="2351.7,1495.3 2328.3,1482.0 2305.0,1473.7 2278.3,1472.0 2255.0,1478.7 2231.7,1483.7 2208.3,1488.7 2201.7,1498.7 2188.3,1518.7 2185.0,1532.0 2178.3,1562.0 2170.0,1585.3"/>
<polyline points="2170.0,1585.3 2141.7,1582.0 2116.7,1582.0 2108.3,1598.7 2101.7,1618.7 2091.7,1585.3 2071.7,1583.7 2045.0,1585.3 2026.7,1572.0 2028.3,1585.3 2015.0,1590.3 2000.0,1598.7 1993.3,1617.0"/>
<polyline points="1886.7,1402.0 1901.7,1412.0 1908.3,1432.0 1918.3,1462.0 1936.7,1478.7 1925.0,1495.3 1928.3,1515.3 1938.3,1532.0 1948.3,1552.0 1955.0,1578.7 1961.7,1598.7 1965.0,1617.0 1981.7,1618.7 1993.3,1617.0"/>
<polyline points="1993.3,1617.0 1988.3,1638.7 1981.7,1658.7 1958.3,1668.7 1938.3,1678.7 1931.7,1695.3 1930.0,1713.3 1936.7,1733.3 1931.7,1756.7 1945.0,1778.3 1925.0,1786.7 1911.7,1810.0 1888.3,1833.3 1883.3,1856.7 1871.7,1873.3 1880.0,1900.0 1876.7,1913.3 1858.3,1930.0 1850.0,1956.7 1858.3,1976.7 1865.0,1993.3 1871.7,2020.0 1881.7,2033.3 1878.3,2060.0 1868.3,2080.0 1856.7,2106.7 1861.7,2133.3 1861.7,2153.3"/>
<polyline points="2170.0,1585.3 2181.7,1598.7 2198.3,1622.0 2218.3,1638.7 2238.3,1655.3 2268.3,1662.0 2295.0,1678.7 2321.7,1693.7 2351.7,1702.0 2375.0,1718.7 2365.0,1738.7 2351.7,1755.3 2350.0,1753.3 2345.0,1770.0 2330.0,1788.3 2355.0,1791.7 2381.7,1796.7 2408.3,1801.7 2425.0,1798.3 2441.7,1796.7 2453.3,1790.0 2456.7,1780.0 2478.3,1766.7 2488.3,1746.7 2491.7,1723.3 2496.7,1718.3"/>
<polyline points="2351.7,1495.3 2358.3,1515.3 2361.7,1538.7 2358.3,1565.3 2358.3,1582.0 2381.7,1588.7 2405.0,1590.3 2418.3,1580.3 2438.3,1592.0 2450.0,1605.3 2453.3,1632.0 2461.7,1658.7 2481.7,1662.0 2501.7,1655.3 2506.7,1678.7 2501.7,1698.7 2495.0,1715.3 2496.7,1718.3"/>
<polyline points="2496.7,1718.3 2511.7,1723.3 2525.0,1733.3 2530.0,1753.3 2526.7,1776.7 2515.0,1790.0 2495.0,1796.7 2478.3,1806.7 2461.7,1820.0 2445.0,1836.7 2428.3,1856.7 2411.7,1876.7 2395.0,1893.3 2378.3,1906.7 2375.0,1910.0"/>
<polyline points="2375.0,1910.0 2361.7,1926.7 2360.0,1950.0 2348.3,1970.0 2351.7,2000.0 2345.0,2020.0 2338.3,2036.7 2338.3,2056.7 2348.3,2070.7 2365.0,2080.0"/>
<polyline points="2375.0,1910.0 2398.3,1905.0 2415.0,1916.7 2431.7,1933.3 2438.3,1940.0 2451.7,1936.7 2465.0,1950.0 2485.0,1956.7 2505.0,1970.0 2521.7,1983.3 2538.3,2000.0 2551.7,2011.7 2538.3,2023.3 2535.0,2036.7 2540.0,2046.7 2538.3,2055.0"/>
<polyline points="1246.7,255.0 1263.3,258.3 1280.0,263.3 1290.0,258.3 1303.3,265.0 1316.7,271.7 1326.7,266.7"/>
<polyline points="1363.3,316.7 1358.3,330.0 1365.0,343.3 1360.0,356.7 1361.7,370.0 1358.3,368.3"/>
<polyline points="1168.3,183.3 1183.3,181.7 1196.7,178.3 1206.7,166.7 1210.0,153.3"/>
<polyline points="2623.3,1903.3 2626.7,1916.7 2636.7,1913.3 2650.0,1910.0 2653.3,1920.0 2643.3,1933.3 2630.0,1943.3 2620.0,1956.7 2603.3,1966.7 2590.0,1975.0 2586.7,1981.7"/>
</g>
<circle cx="1421.7" cy="166.7" r="2.6" fill="#000"/>
<circle cx="1407.3" cy="200.0" r="2.6" fill="#000"/>
<circle cx="1356.7" cy="210.0" r="2.6" fill="#000"/>
<circle cx="1395.0" cy="336.7" r="2.6" fill="#000"/>
<circle cx="1386.7" cy="330.0" r="2.6" fill="#000"/>
<circle cx="1270.0" cy="298.3" r="2.6" fill="#000"/>
<circle cx="1381.7" cy="378.3" r="2.6" fill="#000"/>
<circle cx="1428.3" cy="388.3" r="2.6" fill="#000"/>
<circle cx="1403.3" cy="410.0" r="2.6" fill="#000"/>
<circle cx="1556.7" cy="371.7" r="2.6" fill="#000"/>
<circle cx="1511.7" cy="366.7" r="3" fill="#000"/>
<circle cx="1875.0" cy="200.0" r="2.8" fill="#000"/>
<circle cx="1918.3" cy="213.3" r="2.8" fill="#000"/>
<circle cx="1943.3" cy="213.3" r="2.8" fill="#000"/>
<circle cx="2006.7" cy="230.0" r="2.8" fill="#000"/>
<circle cx="2028.3" cy="229.3" r="2.8" fill="#000"/>
<circle cx="2091.7" cy="227.7" r="2.8" fill="#000"/>
<circle cx="2108.3" cy="260.0" r="2.8" fill="#000"/>
<circle cx="2116.7" cy="268.3" r="2.8" fill="#000"/>
<circle cx="2248.3" cy="250.0" r="2.8" fill="#000"/>
<circle cx="2228.3" cy="170.0" r="2.8" fill="#000"/>
<circle cx="2225.0" cy="183.3" r="2.8" fill="#000"/>
<circle cx="2218.3" cy="198.3" r="2.8" fill="#000"/>
<circle cx="2208.3" cy="216.7" r="2.8" fill="#000"/>
<circle cx="2295.0" cy="173.3" r="2.8" fill="#000"/>
<circle cx="2063.0" cy="264.0" r="4.5" fill="#000"/>
<circle cx="3379.0" cy="855.0" r="2.5" fill="#000"/>
<circle cx="1576.7" cy="536.7" r="3.2" fill="#000"/>
<circle cx="1576.7" cy="571.7" r="3.2" fill="#000"/>
<circle cx="1556.7" cy="598.3" r="3.2" fill="#000"/>
<circle cx="1516.7" cy="650.0" r="3.2" fill="#000"/>
<circle cx="2760.0" cy="732.7" r="3" fill="#000"/>
<circle cx="2780.0" cy="736.0" r="3" fill="#000"/>
<circle cx="2796.7" cy="739.3" r="3" fill="#000"/>
<circle cx="2813.3" cy="744.3" r="3" fill="#000"/>
<circle cx="2833.3" cy="751.7" r="3" fill="#000"/>
<circle cx="2853.3" cy="756.0" r="3" fill="#000"/>
<circle cx="2875.0" cy="762.7" r="3" fill="#000"/>
<circle cx="2885.0" cy="772.7" r="3" fill="#000"/>
<circle cx="2893.3" cy="787.7" r="3" fill="#000"/>
<circle cx="2890.0" cy="819.3" r="3" fill="#000"/>
<circle cx="2896.7" cy="806.0" r="3" fill="#000"/>
<circle cx="2913.3" cy="802.7" r="3" fill="#000"/>
<circle cx="2928.3" cy="796.0" r="3" fill="#000"/>
<circle cx="2991.7" cy="811.0" r="3" fill="#000"/>
<circle cx="3025.0" cy="819.3" r="3" fill="#000"/>
<circle cx="2656.7" cy="615.0" r="3.3" fill="#000"/>
<circle cx="2673.3" cy="666.0" r="3.3" fill="#000"/>
<circle cx="3117.3" cy="1247.0" r="3.2" fill="#000"/>
<circle cx="2743.3" cy="1717.0" r="3.2" fill="#000"/>
<circle cx="2821.7" cy="1658.7" r="3.2" fill="#000"/>
<circle cx="2870.0" cy="1653.7" r="3.2" fill="#000"/>
<circle cx="2906.7" cy="1627.0" r="3.2" fill="#000"/>
<circle cx="1044.2" cy="677.6" r="3.6" fill="#000"/>
<circle cx="1056.3" cy="689.1" r="3.6" fill="#000"/>
<circle cx="1073.0" cy="734.1" r="3.6" fill="#000"/>
<circle cx="1088.2" cy="756.6" r="3.6" fill="#000"/>
<circle cx="2672.9" cy="665.6" r="3.2" fill="#000"/>
<circle cx="2633.9" cy="726.0" r="3.2" fill="#000"/>
<circle cx="2730.2" cy="758.9" r="3.2" fill="#000"/>
<circle cx="2744.9" cy="759.5" r="3.2" fill="#000"/>
<circle cx="2719.3" cy="764.4" r="3.2" fill="#000"/>
<circle cx="2740.0" cy="768.0" r="3.2" fill="#000"/>
<circle cx="2758.3" cy="729.0" r="3.2" fill="#000"/>
<circle cx="2769.3" cy="729.0" r="3.2" fill="#000"/>
<circle cx="2779.0" cy="732.7" r="3.2" fill="#000"/>
<circle cx="2787.6" cy="730.2" r="3.2" fill="#000"/>
<circle cx="2796.1" cy="735.1" r="3.2" fill="#000"/>
<circle cx="2802.2" cy="733.9" r="3.2" fill="#000"/>
<circle cx="2815.6" cy="743.7" r="3.2" fill="#000"/>
<circle cx="2666.2" cy="691.2" r="3.2" fill="#000"/>
<circle cx="306" cy="289" r="1.8" fill="#000"/>
<circle cx="1192" cy="480" r="1.8" fill="#000"/>
<circle cx="1411" cy="542" r="1.8" fill="#000"/>
<circle cx="995" cy="634" r="1.8" fill="#000"/>
<circle cx="1002" cy="646" r="1.8" fill="#000"/>
</g>
<text x="1765.0" y="377.5" font-size="40" font-weight="normal" textLength="614.0" lengthAdjust="spacingAndGlyphs">Venezuela, Bolivarian Republic of</text>
<text x="1696.0" y="541.0" font-size="40" font-weight="normal" textLength="175.0" lengthAdjust="spacingAndGlyphs">Colombia</text>
<text x="2236.0" y="477.5" font-size="40" font-weight="normal" textLength="136.5" lengthAdjust="spacingAndGlyphs">Guyana</text>
<text x="1466.5" y="776.0" font-size="40" font-weight="normal" textLength="147.5" lengthAdjust="spacingAndGlyphs">Ecuador</text>
<text x="2411.5" y="440.0" font-size="40" font-weight="normal" textLength="175.0" lengthAdjust="spacingAndGlyphs">Suriname</text>
<text x="2508.0" y="536.0" font-size="40" font-weight="normal" textLength="263.5" lengthAdjust="spacingAndGlyphs">French Guiana</text>
<text x="2363.5" y="1061.5" font-size="40" font-weight="normal" textLength="97.5" lengthAdjust="spacingAndGlyphs">Brazil</text>
<text x="1669.0" y="1171.5" font-size="40" font-weight="normal" textLength="82.0" lengthAdjust="spacingAndGlyphs">Peru</text>
<text x="1927.5" y="1436.0" font-size="40" font-weight="normal" textLength="551.5" lengthAdjust="spacingAndGlyphs">Bolivia (Plurinational State of)</text>
<text x="2257.5" y="1646.5" font-size="40" font-weight="normal" textLength="165.0" lengthAdjust="spacingAndGlyphs">Paraguay</text>
<text x="1832.5" y="1786.0" font-size="40" font-weight="normal" textLength="91.5" lengthAdjust="spacingAndGlyphs">Chile</text>
<text x="2045.0" y="1903.5" font-size="40" font-weight="normal" textLength="179.0" lengthAdjust="spacingAndGlyphs">Argentina</text>
<text x="2358.0" y="2030.0" font-size="40" font-weight="normal" textLength="153.5" lengthAdjust="spacingAndGlyphs">Uruguay</text>
<circle cx="3222.5" cy="289" r="49.2" fill="none" stroke="#1a1a1a" stroke-width="4.7"/>
<path d="M3222.5,181.7 L3208.2,233.3 Q3222.5,229 3236.8,233.3 Z" fill="#000"/>
<path d="M3222.5,396.7 L3208.2,345.5 Q3222.5,349.5 3236.8,345.5 Z" fill="#000"/>
<path d="M3116,289 L3169.3,274.7 Q3165,289 3169.3,303.3 Z" fill="#000"/>
<path d="M3328,289 L3276.5,274.7 Q3281,289 3276.5,303.3 Z" fill="#000"/>
<text x="3222.5" y="174" font-size="20.5" font-weight="bold" text-anchor="middle" stroke="#000" stroke-width="1.1">N</text>
<text x="3222.5" y="420.7" font-size="20.5" font-weight="bold" text-anchor="middle" stroke="#000" stroke-width="1.1">S</text>
<text x="3097.3" y="297.3" font-size="20.5" font-weight="bold" text-anchor="middle" stroke="#000" stroke-width="1.1">W</text>
<text x="3343" y="297.3" font-size="20.5" font-weight="bold" text-anchor="middle" stroke="#000" stroke-width="1.1">E</text>
<rect x="3065" y="2091.5" width="182.5" height="19.5" fill="#fff" stroke="#000" stroke-width="3"/>
<rect x="3065" y="2091.5" width="92.5" height="19.5" fill="#000" stroke="#000" stroke-width="3"/>
<text x="3054.5" y="2058.0" font-size="53" font-weight="normal" textLength="24.2" lengthAdjust="spacingAndGlyphs">0</text>
<text x="3117.6" y="2058.0" font-size="53" font-weight="normal" textLength="77.4" lengthAdjust="spacingAndGlyphs">250</text>
<text x="3208.0" y="2058.0" font-size="53" font-weight="normal" textLength="77.0" lengthAdjust="spacingAndGlyphs">500</text>
<text x="3305.0" y="2058.0" font-size="53" font-weight="normal" textLength="61.7" lengthAdjust="spacingAndGlyphs">km</text>
<rect x="119.4" y="1535" width="1499.6" height="602.3" fill="#fff" stroke="#000" stroke-width="3"/>
<text x="145.3" y="1629.0" font-size="67" font-weight="bold" textLength="987.7" lengthAdjust="spacingAndGlyphs">Incidence per 10 000 population</text>
<text x="145.0" y="1735.5" font-size="59.5" font-weight="normal" textLength="493.7" lengthAdjust="spacingAndGlyphs">Endemic countries</text>
<rect x="143.2" y="1783" width="81.5" height="46.5" fill="#BADC6B"/>
<text x="249.8" y="1822.0" font-size="44" font-weight="normal" textLength="345.0" lengthAdjust="spacingAndGlyphs">No case reported</text>
<rect x="143.2" y="1854" width="81.5" height="46.5" fill="#FDEB8B"/>
<text x="249.8" y="1893.7" font-size="44" font-weight="normal" textLength="48.0" lengthAdjust="spacingAndGlyphs">&lt;1</text>
<rect x="143.2" y="1925" width="81.5" height="46.5" fill="#FCC030"/>
<text x="249.8" y="1963.4" font-size="44" font-weight="normal" textLength="162.0" lengthAdjust="spacingAndGlyphs">1.0 - 2.4</text>
<rect x="143.2" y="1995.5" width="81.5" height="46.5" fill="#E34B33"/>
<text x="249.8" y="2034.5" font-size="44" font-weight="normal" textLength="162.0" lengthAdjust="spacingAndGlyphs">2.5 - 9.9</text>
<rect x="143.2" y="2066.6" width="81.5" height="46.5" fill="#63200F"/>
<text x="249.8" y="2105.0" font-size="44" font-weight="normal" textLength="73.0" lengthAdjust="spacingAndGlyphs">≥10</text>
<rect x="881" y="1834.5" width="82" height="46.5" fill="url(#hatch)"/>
<rect x="881.5" y="1904.5" width="81" height="46.5" fill="#fff" stroke="#777" stroke-width="1"/>
<rect x="881" y="1976" width="82" height="46.5" fill="#808080"/>
<text x="988.5" y="1874.0" font-size="44" font-weight="normal" textLength="604.2" lengthAdjust="spacingAndGlyphs">Subnational data not available</text>
<text x="988.5" y="1944.0" font-size="44" font-weight="normal" textLength="267.5" lengthAdjust="spacingAndGlyphs">Non endemic</text>
<text x="988.5" y="2014.0" font-size="44" font-weight="normal" textLength="256.5" lengthAdjust="spacingAndGlyphs">Not included</text>
<rect x="119.4" y="157.1" width="3264.8" height="1980.2" fill="none" stroke="#000" stroke-width="3.2"/>
<text x="129.0" y="2186.5" font-size="35" font-weight="normal" textLength="1606.0" lengthAdjust="spacingAndGlyphs">The boundaries and names shown and the designations used on this map do not imply the expression of</text>
<text x="129.0" y="2233.0" font-size="35" font-weight="normal" textLength="1583.0" lengthAdjust="spacingAndGlyphs">any opinion whatsoever on the part of the World Health Organization concerning the legal status of any</text>
<text x="129.0" y="2278.5" font-size="35" font-weight="normal" textLength="1502.0" lengthAdjust="spacingAndGlyphs">country, territory, city or area or of its authorities, or concerning the delimitation of its frontiers or</text>
<text x="129.0" y="2325.0" font-size="35" font-weight="normal" textLength="1635.0" lengthAdjust="spacingAndGlyphs">boundaries. Dotted and dashed lines on maps represent approximate border lines for which there may not</text>
<text x="129.0" y="2370.5" font-size="35" font-weight="normal" textLength="338.0" lengthAdjust="spacingAndGlyphs">yet be full agreement.</text>
<text x="129.0" y="2463.0" font-size="35" font-weight="normal" textLength="1047.0" lengthAdjust="spacingAndGlyphs">This map shows data for the countries, at second subnational levels.</text>
<text x="1948.5" y="2186.5" font-size="35" font-weight="normal" textLength="884.0" lengthAdjust="spacingAndGlyphs">Data Source: SisLeish - PAHO/WHO - Data provided by the</text>
<text x="1948.5" y="2233.0" font-size="35" font-weight="normal" textLength="299.0" lengthAdjust="spacingAndGlyphs">Ministries of Health</text>
<text x="1948.5" y="2278.5" font-size="35" font-weight="normal" textLength="950.5" lengthAdjust="spacingAndGlyphs">Map Production: Control of Neglected Tropical Diseases (NTD)</text>
<text x="1948.5" y="2325.0" font-size="35" font-weight="normal" textLength="401.5" lengthAdjust="spacingAndGlyphs">World Health Organization</text>
<text x="2901.0" y="2445.0" font-size="35" font-weight="normal" textLength="507.0" lengthAdjust="spacingAndGlyphs">© WHO 2018. All rights reserved.</text>
<g id="who">
<circle cx="3265.5" cy="2205.7" r="54.9" fill="none" stroke="#000" stroke-width="1.7"/>
<circle cx="3265.5" cy="2205.7" r="43.8" fill="none" stroke="#000" stroke-width="1.7"/>
<circle cx="3265.5" cy="2205.7" r="32.4" fill="none" stroke="#000" stroke-width="1.7"/>
<circle cx="3265.5" cy="2205.7" r="21.2" fill="none" stroke="#000" stroke-width="1.7"/>
<line x1="3210.6" y1="2205.7" x2="3320.4" y2="2205.7" stroke="#000" stroke-width="1.7"/>
<line x1="3226.7" y1="2166.9" x2="3304.3" y2="2244.5" stroke="#000" stroke-width="1.6"/>
<line x1="3304.3" y1="2166.9" x2="3226.7" y2="2244.5" stroke="#000" stroke-width="1.6"/>
<polygon points="3216.5,2219.8 3228.1,2218.1 3233.1,2211.5 3239.7,2216.5 3241.4,2226.5 3246.4,2231.4 3243.1,2236.4 3233.1,2233.1 3226.4,2229.8 3219.8,2226.5" fill="#000"/>
<polygon points="3273.0,2194.9 3279.7,2191.5 3286.3,2193.2 3293.0,2199.8 3289.6,2208.2 3293.0,2213.2 3286.3,2216.5 3284.6,2223.1 3288.0,2229.8 3293.0,2236.4 3286.3,2241.4 3279.7,2238.1 3274.7,2229.8 3273.0,2219.8 3269.7,2213.2 3271.3,2203.2" fill="#000"/>
<polygon points="3276.3,2233.1 3286.3,2229.8 3289.6,2238.1 3284.6,2244.8 3278.0,2243.1" fill="#000"/>
<polygon points="3241.4,2199.8 3248.1,2196.5 3251.4,2203.2 3246.4,2208.2 3242.2,2205.7" fill="#000"/>
<polygon points="3219.8,2228.1 3226.4,2231.4 3228.1,2238.1 3223.1,2236.4" fill="#000"/>
<path d="M3260.2,2142.5 L3264.0,2256.7 L3267.0,2256.7 L3270.9,2142.5 Z" fill="#fff"/>
<path d="M3261.4,2142.5 Q3261.4,2140.0 3265.5,2140.0 Q3269.7,2140.0 3269.7,2142.5 L3266.1,2256.7 L3264.9,2256.7 Z" fill="#000"/>
<path d="M3243.9,2174.1 C3251.4,2156.6 3279.7,2153.3 3284.6,2171.6 C3288.0,2186.5 3251.4,2184.9 3251.4,2200.7 C3251.4,2214.8 3280.5,2206.5 3279.7,2220.6 C3278.8,2231.4 3261.4,2223.1 3260.5,2229.8 C3261.4,2236.4 3271.3,2234.8 3274.7,2243.1" fill="none" stroke="#fff" stroke-width="9" stroke-linecap="round"/>
<path d="M3243.9,2174.1 C3251.4,2156.6 3279.7,2153.3 3284.6,2171.6 C3288.0,2186.5 3251.4,2184.9 3251.4,2200.7 C3251.4,2214.8 3280.5,2206.5 3279.7,2220.6 C3278.8,2231.4 3261.4,2223.1 3260.5,2229.8 C3261.4,2236.4 3271.3,2234.8 3274.7,2243.1" fill="none" stroke="#000" stroke-width="6.8" stroke-linecap="round"/>
<path d="M3243.9,2174.1 C3251.4,2156.6 3279.7,2153.3 3284.6,2171.6 C3288.0,2186.5 3251.4,2184.9 3251.4,2200.7 C3251.4,2214.8 3280.5,2206.5 3279.7,2220.6 C3278.8,2231.4 3261.4,2223.1 3260.5,2229.8 C3261.4,2236.4 3271.3,2234.8 3274.7,2243.1" fill="none" stroke="#fff" stroke-width="1.3" stroke-linecap="round"/>
<path d="M3242.8,2268.2 Q3230.7,2263.7 3223.5,2274.4 Q3234.0,2274.0 3242.8,2268.2 Z" fill="#000"/>
<path d="M3242.8,2268.2 Q3232.8,2266.0 3233.1,2255.8 Q3239.7,2260.6 3242.8,2268.2 Z" fill="#000"/>
<path d="M3230.7,2262.4 Q3219.4,2255.6 3209.9,2264.7 Q3220.6,2266.3 3230.7,2262.4 Z" fill="#000"/>
<path d="M3230.7,2262.4 Q3221.2,2258.0 3223.4,2247.8 Q3229.1,2254.1 3230.7,2262.4 Z" fill="#000"/>
<path d="M3220.1,2254.2 Q3210.0,2245.3 3198.5,2252.3 Q3209.0,2256.1 3220.1,2254.2 Z" fill="#000"/>
<path d="M3220.1,2254.2 Q3211.6,2247.8 3215.7,2238.0 Q3220.1,2245.5 3220.1,2254.2 Z" fill="#000"/>
<path d="M3211.2,2244.2 Q3202.9,2233.3 3189.9,2237.8 Q3199.8,2243.6 3211.2,2244.2 Z" fill="#000"/>
<path d="M3211.2,2244.2 Q3204.3,2235.9 3210.2,2226.8 Q3213.0,2235.3 3211.2,2244.2 Z" fill="#000"/>
<path d="M3204.6,2232.5 Q3198.3,2220.0 3184.4,2221.6 Q3193.2,2229.5 3204.6,2232.5 Z" fill="#000"/>
<path d="M3204.6,2232.5 Q3199.5,2222.7 3207.2,2214.8 Q3208.2,2224.0 3204.6,2232.5 Z" fill="#000"/>
<path d="M3200.5,2219.8 Q3197.1,2206.5 3183.4,2205.5 Q3190.1,2214.8 3200.5,2219.8 Z" fill="#000"/>
<path d="M3200.5,2219.8 Q3197.3,2209.4 3206.4,2203.4 Q3205.6,2212.4 3200.5,2219.8 Z" fill="#000"/>
<path d="M3199.0,2206.5 Q3198.5,2193.0 3185.5,2189.6 Q3190.1,2199.8 3199.0,2206.5 Z" fill="#000"/>
<path d="M3199.0,2206.5 Q3197.8,2195.9 3207.8,2192.1 Q3205.3,2200.5 3199.0,2206.5 Z" fill="#000"/>
<path d="M3200.2,2193.1 Q3202.6,2180.2 3190.7,2174.5 Q3192.9,2185.1 3200.2,2193.1 Z" fill="#000"/>
<path d="M3200.2,2193.1 Q3201.0,2182.7 3211.3,2181.2 Q3207.4,2188.7 3200.2,2193.1 Z" fill="#000"/>
<path d="M3204.0,2180.3 Q3209.0,2168.4 3198.6,2160.9 Q3198.6,2171.3 3204.0,2180.3 Z" fill="#000"/>
<path d="M3204.0,2180.3 Q3206.7,2170.4 3216.9,2171.1 Q3211.8,2177.6 3204.0,2180.3 Z" fill="#000"/>
<path d="M3210.4,2168.5 Q3217.7,2158.2 3209.0,2149.1 Q3206.9,2159.0 3210.4,2168.5 Z" fill="#000"/>
<path d="M3210.4,2168.5 Q3214.7,2159.5 3224.3,2162.3 Q3218.2,2167.5 3210.4,2168.5 Z" fill="#000"/>
<path d="M3245.0,2268.9 A66.5,66.5 0 0 1 3210.4,2168.5" fill="none" stroke="#000" stroke-width="1.6"/>
<path d="M3288.2,2268.2 Q3300.3,2263.7 3307.5,2274.4 Q3297.0,2274.0 3288.2,2268.2 Z" fill="#000"/>
<path d="M3288.2,2268.2 Q3298.2,2266.0 3297.9,2255.8 Q3291.3,2260.6 3288.2,2268.2 Z" fill="#000"/>
<path d="M3300.3,2262.4 Q3311.6,2255.6 3321.1,2264.7 Q3310.4,2266.3 3300.3,2262.4 Z" fill="#000"/>
<path d="M3300.3,2262.4 Q3309.8,2258.0 3307.6,2247.8 Q3301.9,2254.1 3300.3,2262.4 Z" fill="#000"/>
<path d="M3310.9,2254.2 Q3321.0,2245.3 3332.5,2252.3 Q3322.0,2256.1 3310.9,2254.2 Z" fill="#000"/>
<path d="M3310.9,2254.2 Q3319.4,2247.8 3315.3,2238.0 Q3310.9,2245.5 3310.9,2254.2 Z" fill="#000"/>
<path d="M3319.8,2244.2 Q3328.1,2233.3 3341.1,2237.8 Q3331.2,2243.6 3319.8,2244.2 Z" fill="#000"/>
<path d="M3319.8,2244.2 Q3326.7,2235.9 3320.8,2226.8 Q3318.0,2235.3 3319.8,2244.2 Z" fill="#000"/>
<path d="M3326.4,2232.5 Q3332.7,2220.0 3346.6,2221.6 Q3337.8,2229.5 3326.4,2232.5 Z" fill="#000"/>
<path d="M3326.4,2232.5 Q3331.5,2222.7 3323.8,2214.8 Q3322.8,2224.0 3326.4,2232.5 Z" fill="#000"/>
<path d="M3330.5,2219.8 Q3333.9,2206.5 3347.6,2205.5 Q3340.9,2214.8 3330.5,2219.8 Z" fill="#000"/>
<path d="M3330.5,2219.8 Q3333.7,2209.4 3324.6,2203.4 Q3325.4,2212.4 3330.5,2219.8 Z" fill="#000"/>
<path d="M3332.0,2206.5 Q3332.5,2193.0 3345.5,2189.6 Q3340.9,2199.8 3332.0,2206.5 Z" fill="#000"/>
<path d="M3332.0,2206.5 Q3333.2,2195.9 3323.2,2192.1 Q3325.7,2200.5 3332.0,2206.5 Z" fill="#000"/>
<path d="M3330.8,2193.1 Q3328.4,2180.2 3340.3,2174.5 Q3338.1,2185.1 3330.8,2193.1 Z" fill="#000"/>
<path d="M3330.8,2193.1 Q3330.0,2182.7 3319.7,2181.2 Q3323.6,2188.7 3330.8,2193.1 Z" fill="#000"/>
<path d="M3327.0,2180.3 Q3322.0,2168.4 3332.4,2160.9 Q3332.4,2171.3 3327.0,2180.3 Z" fill="#000"/>
<path d="M3327.0,2180.3 Q3324.3,2170.4 3314.1,2171.1 Q3319.2,2177.6 3327.0,2180.3 Z" fill="#000"/>
<path d="M3320.6,2168.5 Q3313.3,2158.2 3322.0,2149.1 Q3324.1,2159.0 3320.6,2168.5 Z" fill="#000"/>
<path d="M3320.6,2168.5 Q3316.3,2159.5 3306.7,2162.3 Q3312.8,2167.5 3320.6,2168.5 Z" fill="#000"/>
<path d="M3286.0,2268.9 A66.5,66.5 0 0 0 3320.6,2168.5" fill="none" stroke="#000" stroke-width="1.6"/>
<path d="M3217.3,2268.9 Q3246.4,2263.0 3269.7,2268.0 T3282.1,2279.7" fill="none" stroke="#000" stroke-width="4.2" stroke-linecap="round"/>
<path d="M3313.7,2268.9 Q3284.6,2263.0 3261.4,2268.0 T3248.9,2279.7" fill="none" stroke="#000" stroke-width="4.2" stroke-linecap="round"/>
</g>
<text x="3149" y="2327.9" font-size="45" font-weight="bold" stroke="#000" stroke-width="0.7" textLength="235.4" lengthAdjust="spacingAndGlyphs">World Health</text>
<text x="3148.3" y="2369.5" font-size="45" font-weight="bold" stroke="#000" stroke-width="0.7" textLength="236" lengthAdjust="spacingAndGlyphs">Organization</text>
</svg></body></html>
